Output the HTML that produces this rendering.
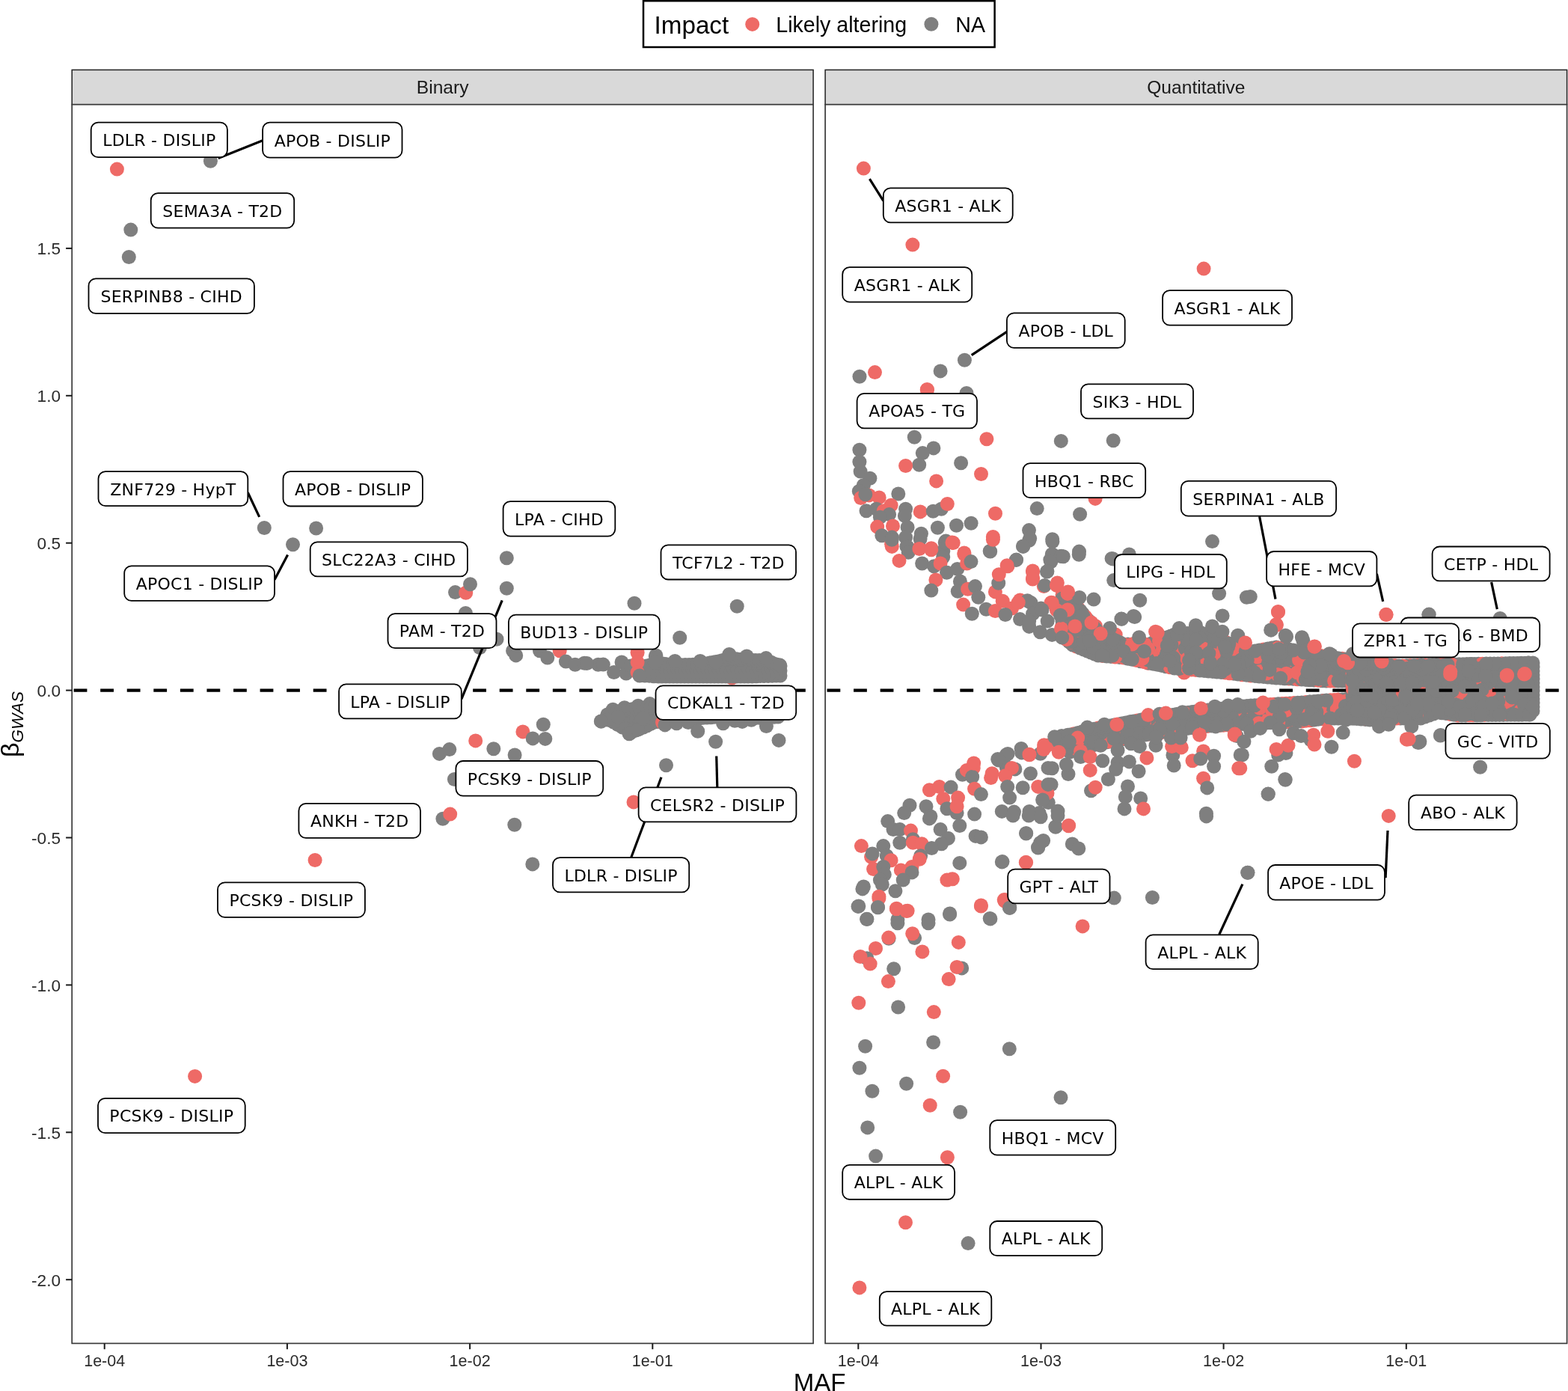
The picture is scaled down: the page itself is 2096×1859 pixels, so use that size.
<!DOCTYPE html><html><head><meta charset="utf-8"><style>html,body{margin:0;padding:0;background:#fff;}svg{display:block;}.ax{font-family:"Liberation Sans",Arial,sans-serif;font-size:21.5px;fill:#2b2b2b;}.lb{font-family:"DejaVu Sans","Liberation Sans",sans-serif;font-size:22px;letter-spacing:0.25px;fill:#000;}</style></head><body>
<svg width="2096" height="1859" viewBox="0 0 2096 1859">
<rect width="2096" height="1859" fill="#fff"/>
<rect x="860" y="1.2" width="469.6" height="61.8" fill="#fff" stroke="#000" stroke-width="2.5"/>
<text x="874.6" y="45.3" font-family="Liberation Sans,Arial,sans-serif" font-size="33.2" fill="#000">Impact</text>
<circle cx="1005.7" cy="32.4" r="9.5" fill="#EE6A66"/>
<text x="1037.3" y="42.9" font-family="Liberation Sans,Arial,sans-serif" font-size="28.6" fill="#000">Likely altering</text>
<circle cx="1244.9" cy="32.3" r="9.5" fill="#7F7F7F"/>
<text x="1277.3" y="42.9" font-family="Liberation Sans,Arial,sans-serif" font-size="28.6" fill="#000">NA</text>
<rect x="96.2" y="93.4" width="990.8999999999999" height="46.29999999999998" fill="#D9D9D9" stroke="#222" stroke-width="1.5"/>
<text x="591.65" y="124.8" text-anchor="middle" font-family="Liberation Sans,Arial,sans-serif" font-size="24.6" fill="#1a1a1a">Binary</text>
<rect x="1103.1" y="93.4" width="991.5" height="46.29999999999998" fill="#D9D9D9" stroke="#222" stroke-width="1.5"/>
<text x="1598.85" y="124.8" text-anchor="middle" font-family="Liberation Sans,Arial,sans-serif" font-size="24.6" fill="#1a1a1a">Quantitative</text>
<rect x="96.2" y="139.7" width="990.8999999999999" height="1655.7" fill="#fff"/>
<rect x="1103.1" y="139.7" width="991.5" height="1655.7" fill="#fff"/>
<g>
<circle cx="156.4" cy="226.1" r="9.5" fill="#EE6A66"/>
<circle cx="281.4" cy="215.3" r="9.5" fill="#7F7F7F"/>
<circle cx="174.8" cy="307.1" r="9.5" fill="#7F7F7F"/>
<circle cx="172.3" cy="343.5" r="9.5" fill="#7F7F7F"/>
<circle cx="353.3" cy="705.5" r="9.5" fill="#7F7F7F"/>
<circle cx="422.6" cy="706.0" r="9.5" fill="#7F7F7F"/>
<circle cx="391.5" cy="727.8" r="9.5" fill="#7F7F7F"/>
<circle cx="677.3" cy="745.7" r="9.5" fill="#7F7F7F"/>
<circle cx="677.3" cy="786.3" r="9.5" fill="#7F7F7F"/>
<circle cx="608.5" cy="791.6" r="9.5" fill="#7F7F7F"/>
<circle cx="622.7" cy="792.2" r="9.5" fill="#EE6A66"/>
<circle cx="628.5" cy="780.7" r="9.5" fill="#7F7F7F"/>
<circle cx="622.4" cy="819.4" r="9.5" fill="#7F7F7F"/>
<circle cx="664.0" cy="854.3" r="9.5" fill="#7F7F7F"/>
<circle cx="641.4" cy="865.6" r="9.5" fill="#7F7F7F"/>
<circle cx="848.0" cy="806.3" r="9.5" fill="#7F7F7F"/>
<circle cx="985.2" cy="810.2" r="9.5" fill="#7F7F7F"/>
<circle cx="908.7" cy="852.3" r="9.5" fill="#7F7F7F"/>
<circle cx="685.6" cy="869.7" r="9.5" fill="#7F7F7F"/>
<circle cx="689.7" cy="875.9" r="9.5" fill="#7F7F7F"/>
<circle cx="721.5" cy="869.7" r="9.5" fill="#7F7F7F"/>
<circle cx="731.8" cy="879.0" r="9.5" fill="#7F7F7F"/>
<circle cx="748.2" cy="869.7" r="9.5" fill="#EE6A66"/>
<circle cx="756.4" cy="884.1" r="9.5" fill="#7F7F7F"/>
<circle cx="768.8" cy="888.2" r="9.5" fill="#7F7F7F"/>
<circle cx="781.1" cy="886.2" r="9.5" fill="#7F7F7F"/>
<circle cx="799.6" cy="888.2" r="9.5" fill="#7F7F7F"/>
<circle cx="784.5" cy="886.6" r="9.5" fill="#7F7F7F"/>
<circle cx="806.3" cy="888.1" r="9.5" fill="#7F7F7F"/>
<circle cx="820.6" cy="898.6" r="9.5" fill="#7F7F7F"/>
<circle cx="831.0" cy="885.0" r="9.5" fill="#7F7F7F"/>
<circle cx="837.0" cy="900.0" r="9.5" fill="#7F7F7F"/>
<circle cx="843.0" cy="890.0" r="9.5" fill="#7F7F7F"/>
<circle cx="978.3" cy="906.0" r="9.5" fill="#EE6A66"/>
<circle cx="949.5" cy="886.1" r="9.5" fill="#7F7F7F"/>
<circle cx="956.5" cy="886.1" r="9.5" fill="#7F7F7F"/>
<circle cx="963.5" cy="886.1" r="9.5" fill="#7F7F7F"/>
<circle cx="970.5" cy="886.1" r="9.5" fill="#7F7F7F"/>
<circle cx="977.5" cy="886.1" r="9.5" fill="#7F7F7F"/>
<circle cx="984.5" cy="886.1" r="9.5" fill="#7F7F7F"/>
<circle cx="991.5" cy="886.1" r="9.5" fill="#7F7F7F"/>
<circle cx="998.5" cy="886.1" r="9.5" fill="#7F7F7F"/>
<circle cx="1005.5" cy="886.1" r="9.5" fill="#7F7F7F"/>
<circle cx="1012.5" cy="886.1" r="9.5" fill="#7F7F7F"/>
<circle cx="1019.5" cy="886.1" r="9.5" fill="#7F7F7F"/>
<circle cx="1026.5" cy="886.1" r="9.5" fill="#7F7F7F"/>
<circle cx="869.0" cy="892.2" r="9.5" fill="#7F7F7F"/>
<circle cx="876.0" cy="892.2" r="9.5" fill="#7F7F7F"/>
<circle cx="883.0" cy="892.2" r="9.5" fill="#7F7F7F"/>
<circle cx="890.0" cy="892.2" r="9.5" fill="#7F7F7F"/>
<circle cx="897.0" cy="892.2" r="9.5" fill="#7F7F7F"/>
<circle cx="904.0" cy="892.2" r="9.5" fill="#7F7F7F"/>
<circle cx="911.0" cy="892.2" r="9.5" fill="#7F7F7F"/>
<circle cx="918.0" cy="892.2" r="9.5" fill="#7F7F7F"/>
<circle cx="925.0" cy="892.2" r="9.5" fill="#7F7F7F"/>
<circle cx="932.0" cy="892.2" r="9.5" fill="#7F7F7F"/>
<circle cx="939.0" cy="892.2" r="9.5" fill="#7F7F7F"/>
<circle cx="946.0" cy="892.2" r="9.5" fill="#7F7F7F"/>
<circle cx="953.0" cy="892.2" r="9.5" fill="#7F7F7F"/>
<circle cx="960.0" cy="892.2" r="9.5" fill="#7F7F7F"/>
<circle cx="967.0" cy="892.2" r="9.5" fill="#7F7F7F"/>
<circle cx="974.0" cy="892.2" r="9.5" fill="#7F7F7F"/>
<circle cx="981.0" cy="892.2" r="9.5" fill="#7F7F7F"/>
<circle cx="988.0" cy="892.2" r="9.5" fill="#7F7F7F"/>
<circle cx="995.0" cy="892.2" r="9.5" fill="#7F7F7F"/>
<circle cx="1002.0" cy="892.2" r="9.5" fill="#7F7F7F"/>
<circle cx="1009.0" cy="892.2" r="9.5" fill="#7F7F7F"/>
<circle cx="1016.0" cy="892.2" r="9.5" fill="#7F7F7F"/>
<circle cx="1023.0" cy="892.2" r="9.5" fill="#7F7F7F"/>
<circle cx="1030.0" cy="892.2" r="9.5" fill="#7F7F7F"/>
<circle cx="1037.0" cy="892.2" r="9.5" fill="#7F7F7F"/>
<circle cx="865.5" cy="898.3" r="9.5" fill="#7F7F7F"/>
<circle cx="872.5" cy="898.3" r="9.5" fill="#7F7F7F"/>
<circle cx="879.5" cy="898.3" r="9.5" fill="#7F7F7F"/>
<circle cx="886.5" cy="898.3" r="9.5" fill="#7F7F7F"/>
<circle cx="893.5" cy="898.3" r="9.5" fill="#7F7F7F"/>
<circle cx="900.5" cy="898.3" r="9.5" fill="#7F7F7F"/>
<circle cx="907.5" cy="898.3" r="9.5" fill="#7F7F7F"/>
<circle cx="914.5" cy="898.3" r="9.5" fill="#7F7F7F"/>
<circle cx="921.5" cy="898.3" r="9.5" fill="#7F7F7F"/>
<circle cx="928.5" cy="898.3" r="9.5" fill="#7F7F7F"/>
<circle cx="935.5" cy="898.3" r="9.5" fill="#7F7F7F"/>
<circle cx="942.5" cy="898.3" r="9.5" fill="#7F7F7F"/>
<circle cx="949.5" cy="898.3" r="9.5" fill="#7F7F7F"/>
<circle cx="956.5" cy="898.3" r="9.5" fill="#7F7F7F"/>
<circle cx="963.5" cy="898.3" r="9.5" fill="#7F7F7F"/>
<circle cx="970.5" cy="898.3" r="9.5" fill="#7F7F7F"/>
<circle cx="977.5" cy="898.3" r="9.5" fill="#7F7F7F"/>
<circle cx="984.5" cy="898.3" r="9.5" fill="#7F7F7F"/>
<circle cx="991.5" cy="898.3" r="9.5" fill="#7F7F7F"/>
<circle cx="998.5" cy="898.3" r="9.5" fill="#7F7F7F"/>
<circle cx="1005.5" cy="898.3" r="9.5" fill="#7F7F7F"/>
<circle cx="1012.5" cy="898.3" r="9.5" fill="#7F7F7F"/>
<circle cx="1019.5" cy="898.3" r="9.5" fill="#7F7F7F"/>
<circle cx="1026.5" cy="898.3" r="9.5" fill="#7F7F7F"/>
<circle cx="1033.5" cy="898.3" r="9.5" fill="#7F7F7F"/>
<circle cx="1040.5" cy="898.3" r="9.5" fill="#7F7F7F"/>
<circle cx="864.0" cy="890.0" r="9.5" fill="#7F7F7F"/>
<circle cx="869.3" cy="888.7" r="9.5" fill="#7F7F7F"/>
<circle cx="874.7" cy="887.3" r="9.5" fill="#7F7F7F"/>
<circle cx="880.0" cy="886.0" r="9.5" fill="#7F7F7F"/>
<circle cx="885.0" cy="886.8" r="9.5" fill="#7F7F7F"/>
<circle cx="890.0" cy="887.5" r="9.5" fill="#7F7F7F"/>
<circle cx="895.0" cy="888.2" r="9.5" fill="#7F7F7F"/>
<circle cx="900.0" cy="889.0" r="9.5" fill="#7F7F7F"/>
<circle cx="905.3" cy="888.9" r="9.5" fill="#7F7F7F"/>
<circle cx="910.6" cy="888.7" r="9.5" fill="#7F7F7F"/>
<circle cx="915.9" cy="888.6" r="9.5" fill="#7F7F7F"/>
<circle cx="921.1" cy="888.4" r="9.5" fill="#7F7F7F"/>
<circle cx="926.4" cy="888.3" r="9.5" fill="#7F7F7F"/>
<circle cx="931.7" cy="888.1" r="9.5" fill="#7F7F7F"/>
<circle cx="937.0" cy="888.0" r="9.5" fill="#7F7F7F"/>
<circle cx="942.8" cy="887.0" r="9.5" fill="#7F7F7F"/>
<circle cx="948.5" cy="886.0" r="9.5" fill="#7F7F7F"/>
<circle cx="954.2" cy="885.0" r="9.5" fill="#7F7F7F"/>
<circle cx="960.0" cy="884.0" r="9.5" fill="#7F7F7F"/>
<circle cx="965.0" cy="882.7" r="9.5" fill="#7F7F7F"/>
<circle cx="970.0" cy="881.3" r="9.5" fill="#7F7F7F"/>
<circle cx="975.0" cy="880.0" r="9.5" fill="#7F7F7F"/>
<circle cx="980.0" cy="880.4" r="9.5" fill="#7F7F7F"/>
<circle cx="985.0" cy="880.8" r="9.5" fill="#7F7F7F"/>
<circle cx="990.0" cy="881.2" r="9.5" fill="#7F7F7F"/>
<circle cx="995.0" cy="881.6" r="9.5" fill="#7F7F7F"/>
<circle cx="1000.0" cy="882.0" r="9.5" fill="#7F7F7F"/>
<circle cx="1005.0" cy="882.2" r="9.5" fill="#7F7F7F"/>
<circle cx="1010.0" cy="882.4" r="9.5" fill="#7F7F7F"/>
<circle cx="1015.0" cy="882.6" r="9.5" fill="#7F7F7F"/>
<circle cx="1020.0" cy="882.8" r="9.5" fill="#7F7F7F"/>
<circle cx="1025.0" cy="883.0" r="9.5" fill="#7F7F7F"/>
<circle cx="1031.0" cy="885.3" r="9.5" fill="#7F7F7F"/>
<circle cx="1037.0" cy="887.7" r="9.5" fill="#7F7F7F"/>
<circle cx="1043.0" cy="890.0" r="9.5" fill="#7F7F7F"/>
<circle cx="1043.0" cy="896.5" r="9.5" fill="#7F7F7F"/>
<circle cx="1043.0" cy="903.0" r="9.5" fill="#7F7F7F"/>
<circle cx="1037.6" cy="903.1" r="9.5" fill="#7F7F7F"/>
<circle cx="1032.2" cy="903.2" r="9.5" fill="#7F7F7F"/>
<circle cx="1026.9" cy="903.4" r="9.5" fill="#7F7F7F"/>
<circle cx="1021.5" cy="903.5" r="9.5" fill="#7F7F7F"/>
<circle cx="1016.1" cy="903.6" r="9.5" fill="#7F7F7F"/>
<circle cx="1010.8" cy="903.8" r="9.5" fill="#7F7F7F"/>
<circle cx="1005.4" cy="903.9" r="9.5" fill="#7F7F7F"/>
<circle cx="1000.0" cy="904.0" r="9.5" fill="#7F7F7F"/>
<circle cx="995.0" cy="904.0" r="9.5" fill="#7F7F7F"/>
<circle cx="990.0" cy="904.0" r="9.5" fill="#7F7F7F"/>
<circle cx="985.0" cy="904.0" r="9.5" fill="#7F7F7F"/>
<circle cx="980.0" cy="904.0" r="9.5" fill="#7F7F7F"/>
<circle cx="975.0" cy="904.0" r="9.5" fill="#7F7F7F"/>
<circle cx="970.0" cy="904.0" r="9.5" fill="#7F7F7F"/>
<circle cx="965.0" cy="904.0" r="9.5" fill="#7F7F7F"/>
<circle cx="960.0" cy="904.0" r="9.5" fill="#7F7F7F"/>
<circle cx="955.0" cy="904.0" r="9.5" fill="#7F7F7F"/>
<circle cx="950.0" cy="904.0" r="9.5" fill="#7F7F7F"/>
<circle cx="945.0" cy="904.0" r="9.5" fill="#7F7F7F"/>
<circle cx="940.0" cy="904.0" r="9.5" fill="#7F7F7F"/>
<circle cx="935.0" cy="904.0" r="9.5" fill="#7F7F7F"/>
<circle cx="930.0" cy="904.0" r="9.5" fill="#7F7F7F"/>
<circle cx="925.0" cy="904.0" r="9.5" fill="#7F7F7F"/>
<circle cx="920.0" cy="904.0" r="9.5" fill="#7F7F7F"/>
<circle cx="915.0" cy="904.0" r="9.5" fill="#7F7F7F"/>
<circle cx="910.0" cy="904.0" r="9.5" fill="#7F7F7F"/>
<circle cx="905.0" cy="904.0" r="9.5" fill="#7F7F7F"/>
<circle cx="900.0" cy="904.0" r="9.5" fill="#7F7F7F"/>
<circle cx="895.0" cy="904.0" r="9.5" fill="#7F7F7F"/>
<circle cx="890.0" cy="904.0" r="9.5" fill="#7F7F7F"/>
<circle cx="885.0" cy="904.0" r="9.5" fill="#7F7F7F"/>
<circle cx="880.0" cy="904.0" r="9.5" fill="#7F7F7F"/>
<circle cx="874.0" cy="903.7" r="9.5" fill="#7F7F7F"/>
<circle cx="868.0" cy="903.3" r="9.5" fill="#7F7F7F"/>
<circle cx="862.0" cy="903.0" r="9.5" fill="#7F7F7F"/>
<circle cx="863.0" cy="896.5" r="9.5" fill="#7F7F7F"/>
<circle cx="876.3" cy="877.0" r="9.5" fill="#7F7F7F"/>
<circle cx="902.2" cy="883.5" r="9.5" fill="#7F7F7F"/>
<circle cx="936.0" cy="883.5" r="9.5" fill="#7F7F7F"/>
<circle cx="974.8" cy="874.5" r="9.5" fill="#7F7F7F"/>
<circle cx="998.2" cy="877.0" r="9.5" fill="#7F7F7F"/>
<circle cx="1024.0" cy="879.6" r="9.5" fill="#7F7F7F"/>
<circle cx="1042.2" cy="888.7" r="9.5" fill="#7F7F7F"/>
<circle cx="956.7" cy="884.8" r="9.5" fill="#7F7F7F"/>
<circle cx="819.3" cy="948.3" r="9.5" fill="#7F7F7F"/>
<circle cx="834.8" cy="945.7" r="9.5" fill="#7F7F7F"/>
<circle cx="853.0" cy="943.2" r="9.5" fill="#7F7F7F"/>
<circle cx="868.5" cy="940.6" r="9.5" fill="#7F7F7F"/>
<circle cx="852.1" cy="872.3" r="9.5" fill="#EE6A66"/>
<circle cx="852.1" cy="885.0" r="9.5" fill="#EE6A66"/>
<circle cx="852.1" cy="898.6" r="9.5" fill="#EE6A66"/>
<circle cx="855.0" cy="903.0" r="9.5" fill="#7F7F7F"/>
<circle cx="876.9" cy="876.0" r="9.5" fill="#7F7F7F"/>
<circle cx="876.0" cy="885.0" r="9.5" fill="#7F7F7F"/>
<circle cx="903.0" cy="944.0" r="9.5" fill="#7F7F7F"/>
<circle cx="910.0" cy="944.0" r="9.5" fill="#7F7F7F"/>
<circle cx="917.0" cy="944.0" r="9.5" fill="#7F7F7F"/>
<circle cx="924.0" cy="944.0" r="9.5" fill="#7F7F7F"/>
<circle cx="931.0" cy="944.0" r="9.5" fill="#7F7F7F"/>
<circle cx="938.0" cy="944.0" r="9.5" fill="#7F7F7F"/>
<circle cx="945.0" cy="944.0" r="9.5" fill="#7F7F7F"/>
<circle cx="952.0" cy="944.0" r="9.5" fill="#7F7F7F"/>
<circle cx="959.0" cy="944.0" r="9.5" fill="#7F7F7F"/>
<circle cx="966.0" cy="944.0" r="9.5" fill="#7F7F7F"/>
<circle cx="973.0" cy="944.0" r="9.5" fill="#7F7F7F"/>
<circle cx="980.0" cy="944.0" r="9.5" fill="#7F7F7F"/>
<circle cx="987.0" cy="944.0" r="9.5" fill="#7F7F7F"/>
<circle cx="994.0" cy="944.0" r="9.5" fill="#7F7F7F"/>
<circle cx="1001.0" cy="944.0" r="9.5" fill="#7F7F7F"/>
<circle cx="1008.0" cy="944.0" r="9.5" fill="#7F7F7F"/>
<circle cx="1015.0" cy="944.0" r="9.5" fill="#7F7F7F"/>
<circle cx="1022.0" cy="944.0" r="9.5" fill="#7F7F7F"/>
<circle cx="1029.0" cy="944.0" r="9.5" fill="#7F7F7F"/>
<circle cx="1036.0" cy="944.0" r="9.5" fill="#7F7F7F"/>
<circle cx="836.5" cy="950.1" r="9.5" fill="#7F7F7F"/>
<circle cx="843.5" cy="950.1" r="9.5" fill="#7F7F7F"/>
<circle cx="850.5" cy="950.1" r="9.5" fill="#7F7F7F"/>
<circle cx="857.5" cy="950.1" r="9.5" fill="#7F7F7F"/>
<circle cx="864.5" cy="950.1" r="9.5" fill="#7F7F7F"/>
<circle cx="871.5" cy="950.1" r="9.5" fill="#7F7F7F"/>
<circle cx="878.5" cy="950.1" r="9.5" fill="#7F7F7F"/>
<circle cx="885.5" cy="950.1" r="9.5" fill="#7F7F7F"/>
<circle cx="892.5" cy="950.1" r="9.5" fill="#7F7F7F"/>
<circle cx="899.5" cy="950.1" r="9.5" fill="#7F7F7F"/>
<circle cx="906.5" cy="950.1" r="9.5" fill="#7F7F7F"/>
<circle cx="913.5" cy="950.1" r="9.5" fill="#7F7F7F"/>
<circle cx="920.5" cy="950.1" r="9.5" fill="#7F7F7F"/>
<circle cx="927.5" cy="950.1" r="9.5" fill="#7F7F7F"/>
<circle cx="934.5" cy="950.1" r="9.5" fill="#7F7F7F"/>
<circle cx="941.5" cy="950.1" r="9.5" fill="#7F7F7F"/>
<circle cx="948.5" cy="950.1" r="9.5" fill="#7F7F7F"/>
<circle cx="955.5" cy="950.1" r="9.5" fill="#7F7F7F"/>
<circle cx="962.5" cy="950.1" r="9.5" fill="#7F7F7F"/>
<circle cx="969.5" cy="950.1" r="9.5" fill="#7F7F7F"/>
<circle cx="976.5" cy="950.1" r="9.5" fill="#7F7F7F"/>
<circle cx="983.5" cy="950.1" r="9.5" fill="#7F7F7F"/>
<circle cx="990.5" cy="950.1" r="9.5" fill="#7F7F7F"/>
<circle cx="997.5" cy="950.1" r="9.5" fill="#7F7F7F"/>
<circle cx="1004.5" cy="950.1" r="9.5" fill="#7F7F7F"/>
<circle cx="1011.5" cy="950.1" r="9.5" fill="#7F7F7F"/>
<circle cx="1018.5" cy="950.1" r="9.5" fill="#7F7F7F"/>
<circle cx="1025.5" cy="950.1" r="9.5" fill="#7F7F7F"/>
<circle cx="1032.5" cy="950.1" r="9.5" fill="#7F7F7F"/>
<circle cx="1039.5" cy="950.1" r="9.5" fill="#7F7F7F"/>
<circle cx="812.0" cy="956.2" r="9.5" fill="#7F7F7F"/>
<circle cx="819.0" cy="956.2" r="9.5" fill="#7F7F7F"/>
<circle cx="826.0" cy="956.2" r="9.5" fill="#7F7F7F"/>
<circle cx="833.0" cy="956.2" r="9.5" fill="#7F7F7F"/>
<circle cx="840.0" cy="956.2" r="9.5" fill="#7F7F7F"/>
<circle cx="847.0" cy="956.2" r="9.5" fill="#7F7F7F"/>
<circle cx="854.0" cy="956.2" r="9.5" fill="#7F7F7F"/>
<circle cx="861.0" cy="956.2" r="9.5" fill="#7F7F7F"/>
<circle cx="868.0" cy="956.2" r="9.5" fill="#7F7F7F"/>
<circle cx="875.0" cy="956.2" r="9.5" fill="#7F7F7F"/>
<circle cx="882.0" cy="956.2" r="9.5" fill="#7F7F7F"/>
<circle cx="889.0" cy="956.2" r="9.5" fill="#7F7F7F"/>
<circle cx="896.0" cy="956.2" r="9.5" fill="#7F7F7F"/>
<circle cx="903.0" cy="956.2" r="9.5" fill="#7F7F7F"/>
<circle cx="910.0" cy="956.2" r="9.5" fill="#7F7F7F"/>
<circle cx="917.0" cy="956.2" r="9.5" fill="#7F7F7F"/>
<circle cx="924.0" cy="956.2" r="9.5" fill="#7F7F7F"/>
<circle cx="931.0" cy="956.2" r="9.5" fill="#7F7F7F"/>
<circle cx="938.0" cy="956.2" r="9.5" fill="#7F7F7F"/>
<circle cx="945.0" cy="956.2" r="9.5" fill="#7F7F7F"/>
<circle cx="952.0" cy="956.2" r="9.5" fill="#7F7F7F"/>
<circle cx="959.0" cy="956.2" r="9.5" fill="#7F7F7F"/>
<circle cx="966.0" cy="956.2" r="9.5" fill="#7F7F7F"/>
<circle cx="973.0" cy="956.2" r="9.5" fill="#7F7F7F"/>
<circle cx="980.0" cy="956.2" r="9.5" fill="#7F7F7F"/>
<circle cx="987.0" cy="956.2" r="9.5" fill="#7F7F7F"/>
<circle cx="994.0" cy="956.2" r="9.5" fill="#7F7F7F"/>
<circle cx="1001.0" cy="956.2" r="9.5" fill="#7F7F7F"/>
<circle cx="1008.0" cy="956.2" r="9.5" fill="#7F7F7F"/>
<circle cx="1015.0" cy="956.2" r="9.5" fill="#7F7F7F"/>
<circle cx="1022.0" cy="956.2" r="9.5" fill="#7F7F7F"/>
<circle cx="1029.0" cy="956.2" r="9.5" fill="#7F7F7F"/>
<circle cx="1036.0" cy="956.2" r="9.5" fill="#7F7F7F"/>
<circle cx="815.5" cy="962.3" r="9.5" fill="#7F7F7F"/>
<circle cx="822.5" cy="962.3" r="9.5" fill="#7F7F7F"/>
<circle cx="829.5" cy="962.3" r="9.5" fill="#7F7F7F"/>
<circle cx="836.5" cy="962.3" r="9.5" fill="#7F7F7F"/>
<circle cx="843.5" cy="962.3" r="9.5" fill="#7F7F7F"/>
<circle cx="850.5" cy="962.3" r="9.5" fill="#7F7F7F"/>
<circle cx="857.5" cy="962.3" r="9.5" fill="#7F7F7F"/>
<circle cx="864.5" cy="962.3" r="9.5" fill="#7F7F7F"/>
<circle cx="871.5" cy="962.3" r="9.5" fill="#7F7F7F"/>
<circle cx="878.5" cy="962.3" r="9.5" fill="#7F7F7F"/>
<circle cx="885.5" cy="962.3" r="9.5" fill="#7F7F7F"/>
<circle cx="892.5" cy="962.3" r="9.5" fill="#7F7F7F"/>
<circle cx="826.0" cy="968.4" r="9.5" fill="#7F7F7F"/>
<circle cx="833.0" cy="968.4" r="9.5" fill="#7F7F7F"/>
<circle cx="840.0" cy="968.4" r="9.5" fill="#7F7F7F"/>
<circle cx="847.0" cy="968.4" r="9.5" fill="#7F7F7F"/>
<circle cx="854.0" cy="968.4" r="9.5" fill="#7F7F7F"/>
<circle cx="861.0" cy="968.4" r="9.5" fill="#7F7F7F"/>
<circle cx="843.5" cy="974.5" r="9.5" fill="#7F7F7F"/>
<circle cx="850.5" cy="974.5" r="9.5" fill="#7F7F7F"/>
<circle cx="812.0" cy="955.0" r="9.5" fill="#7F7F7F"/>
<circle cx="818.0" cy="953.3" r="9.5" fill="#7F7F7F"/>
<circle cx="824.0" cy="951.7" r="9.5" fill="#7F7F7F"/>
<circle cx="830.0" cy="950.0" r="9.5" fill="#7F7F7F"/>
<circle cx="835.0" cy="949.2" r="9.5" fill="#7F7F7F"/>
<circle cx="840.0" cy="948.5" r="9.5" fill="#7F7F7F"/>
<circle cx="845.0" cy="947.8" r="9.5" fill="#7F7F7F"/>
<circle cx="850.0" cy="947.0" r="9.5" fill="#7F7F7F"/>
<circle cx="855.0" cy="946.6" r="9.5" fill="#7F7F7F"/>
<circle cx="860.0" cy="946.2" r="9.5" fill="#7F7F7F"/>
<circle cx="865.0" cy="945.8" r="9.5" fill="#7F7F7F"/>
<circle cx="870.0" cy="945.4" r="9.5" fill="#7F7F7F"/>
<circle cx="875.0" cy="945.0" r="9.5" fill="#7F7F7F"/>
<circle cx="880.0" cy="944.8" r="9.5" fill="#7F7F7F"/>
<circle cx="885.0" cy="944.6" r="9.5" fill="#7F7F7F"/>
<circle cx="890.0" cy="944.4" r="9.5" fill="#7F7F7F"/>
<circle cx="895.0" cy="944.2" r="9.5" fill="#7F7F7F"/>
<circle cx="900.0" cy="944.0" r="9.5" fill="#7F7F7F"/>
<circle cx="905.0" cy="944.0" r="9.5" fill="#7F7F7F"/>
<circle cx="910.0" cy="944.0" r="9.5" fill="#7F7F7F"/>
<circle cx="915.0" cy="944.0" r="9.5" fill="#7F7F7F"/>
<circle cx="920.0" cy="944.0" r="9.5" fill="#7F7F7F"/>
<circle cx="925.0" cy="944.0" r="9.5" fill="#7F7F7F"/>
<circle cx="930.0" cy="944.0" r="9.5" fill="#7F7F7F"/>
<circle cx="935.0" cy="944.0" r="9.5" fill="#7F7F7F"/>
<circle cx="940.0" cy="944.0" r="9.5" fill="#7F7F7F"/>
<circle cx="945.0" cy="944.0" r="9.5" fill="#7F7F7F"/>
<circle cx="950.0" cy="944.0" r="9.5" fill="#7F7F7F"/>
<circle cx="955.0" cy="944.0" r="9.5" fill="#7F7F7F"/>
<circle cx="960.0" cy="944.0" r="9.5" fill="#7F7F7F"/>
<circle cx="965.0" cy="944.0" r="9.5" fill="#7F7F7F"/>
<circle cx="970.0" cy="944.0" r="9.5" fill="#7F7F7F"/>
<circle cx="975.0" cy="944.0" r="9.5" fill="#7F7F7F"/>
<circle cx="980.0" cy="944.0" r="9.5" fill="#7F7F7F"/>
<circle cx="985.0" cy="944.0" r="9.5" fill="#7F7F7F"/>
<circle cx="990.0" cy="944.0" r="9.5" fill="#7F7F7F"/>
<circle cx="995.0" cy="944.0" r="9.5" fill="#7F7F7F"/>
<circle cx="1000.0" cy="944.0" r="9.5" fill="#7F7F7F"/>
<circle cx="1005.0" cy="944.0" r="9.5" fill="#7F7F7F"/>
<circle cx="1010.0" cy="944.0" r="9.5" fill="#7F7F7F"/>
<circle cx="1015.0" cy="944.0" r="9.5" fill="#7F7F7F"/>
<circle cx="1020.0" cy="944.0" r="9.5" fill="#7F7F7F"/>
<circle cx="1025.0" cy="944.0" r="9.5" fill="#7F7F7F"/>
<circle cx="1030.0" cy="944.0" r="9.5" fill="#7F7F7F"/>
<circle cx="1035.0" cy="944.0" r="9.5" fill="#7F7F7F"/>
<circle cx="1040.0" cy="944.0" r="9.5" fill="#7F7F7F"/>
<circle cx="1040.0" cy="951.0" r="9.5" fill="#7F7F7F"/>
<circle cx="1040.0" cy="958.0" r="9.5" fill="#7F7F7F"/>
<circle cx="1035.0" cy="958.2" r="9.5" fill="#7F7F7F"/>
<circle cx="1030.0" cy="958.5" r="9.5" fill="#7F7F7F"/>
<circle cx="1025.0" cy="958.8" r="9.5" fill="#7F7F7F"/>
<circle cx="1020.0" cy="959.0" r="9.5" fill="#7F7F7F"/>
<circle cx="1015.0" cy="959.2" r="9.5" fill="#7F7F7F"/>
<circle cx="1010.0" cy="959.5" r="9.5" fill="#7F7F7F"/>
<circle cx="1005.0" cy="959.8" r="9.5" fill="#7F7F7F"/>
<circle cx="1000.0" cy="960.0" r="9.5" fill="#7F7F7F"/>
<circle cx="995.0" cy="959.8" r="9.5" fill="#7F7F7F"/>
<circle cx="990.0" cy="959.5" r="9.5" fill="#7F7F7F"/>
<circle cx="985.0" cy="959.2" r="9.5" fill="#7F7F7F"/>
<circle cx="980.0" cy="959.0" r="9.5" fill="#7F7F7F"/>
<circle cx="975.0" cy="958.8" r="9.5" fill="#7F7F7F"/>
<circle cx="970.0" cy="958.5" r="9.5" fill="#7F7F7F"/>
<circle cx="965.0" cy="958.2" r="9.5" fill="#7F7F7F"/>
<circle cx="960.0" cy="958.0" r="9.5" fill="#7F7F7F"/>
<circle cx="955.0" cy="958.3" r="9.5" fill="#7F7F7F"/>
<circle cx="950.0" cy="958.7" r="9.5" fill="#7F7F7F"/>
<circle cx="945.0" cy="959.0" r="9.5" fill="#7F7F7F"/>
<circle cx="940.0" cy="959.3" r="9.5" fill="#7F7F7F"/>
<circle cx="935.0" cy="959.7" r="9.5" fill="#7F7F7F"/>
<circle cx="930.0" cy="960.0" r="9.5" fill="#7F7F7F"/>
<circle cx="925.0" cy="960.3" r="9.5" fill="#7F7F7F"/>
<circle cx="920.0" cy="960.7" r="9.5" fill="#7F7F7F"/>
<circle cx="915.0" cy="961.0" r="9.5" fill="#7F7F7F"/>
<circle cx="910.0" cy="961.3" r="9.5" fill="#7F7F7F"/>
<circle cx="905.0" cy="961.7" r="9.5" fill="#7F7F7F"/>
<circle cx="900.0" cy="962.0" r="9.5" fill="#7F7F7F"/>
<circle cx="895.0" cy="962.6" r="9.5" fill="#7F7F7F"/>
<circle cx="890.0" cy="963.2" r="9.5" fill="#7F7F7F"/>
<circle cx="885.0" cy="963.8" r="9.5" fill="#7F7F7F"/>
<circle cx="880.0" cy="964.4" r="9.5" fill="#7F7F7F"/>
<circle cx="875.0" cy="965.0" r="9.5" fill="#7F7F7F"/>
<circle cx="870.0" cy="967.3" r="9.5" fill="#7F7F7F"/>
<circle cx="865.0" cy="969.7" r="9.5" fill="#7F7F7F"/>
<circle cx="860.0" cy="972.0" r="9.5" fill="#7F7F7F"/>
<circle cx="855.0" cy="974.0" r="9.5" fill="#7F7F7F"/>
<circle cx="850.0" cy="976.0" r="9.5" fill="#7F7F7F"/>
<circle cx="845.0" cy="978.0" r="9.5" fill="#7F7F7F"/>
<circle cx="838.5" cy="975.0" r="9.5" fill="#7F7F7F"/>
<circle cx="832.0" cy="972.0" r="9.5" fill="#7F7F7F"/>
<circle cx="826.0" cy="968.5" r="9.5" fill="#7F7F7F"/>
<circle cx="820.0" cy="965.0" r="9.5" fill="#7F7F7F"/>
<circle cx="812.0" cy="962.0" r="9.5" fill="#7F7F7F"/>
<circle cx="803.3" cy="963.9" r="9.5" fill="#7F7F7F"/>
<circle cx="841.6" cy="980.4" r="9.5" fill="#7F7F7F"/>
<circle cx="885.5" cy="965.5" r="9.5" fill="#EE6A66"/>
<circle cx="888.9" cy="968.9" r="9.5" fill="#7F7F7F"/>
<circle cx="904.4" cy="966.7" r="9.5" fill="#7F7F7F"/>
<circle cx="920.0" cy="965.5" r="9.5" fill="#7F7F7F"/>
<circle cx="932.7" cy="977.2" r="9.5" fill="#7F7F7F"/>
<circle cx="956.6" cy="991.3" r="9.5" fill="#7F7F7F"/>
<circle cx="966.6" cy="966.7" r="9.5" fill="#7F7F7F"/>
<circle cx="982.2" cy="963.3" r="9.5" fill="#7F7F7F"/>
<circle cx="992.2" cy="964.4" r="9.5" fill="#7F7F7F"/>
<circle cx="1004.4" cy="962.2" r="9.5" fill="#7F7F7F"/>
<circle cx="1024.4" cy="970.5" r="9.5" fill="#7F7F7F"/>
<circle cx="1041.0" cy="989.4" r="9.5" fill="#7F7F7F"/>
<circle cx="890.5" cy="1022.7" r="9.5" fill="#7F7F7F"/>
<circle cx="803.7" cy="964.1" r="9.5" fill="#7F7F7F"/>
<circle cx="841.1" cy="980.8" r="9.5" fill="#7F7F7F"/>
<circle cx="852.7" cy="975.0" r="9.5" fill="#7F7F7F"/>
<circle cx="826.0" cy="958.0" r="9.5" fill="#7F7F7F"/>
<circle cx="860.0" cy="960.0" r="9.5" fill="#7F7F7F"/>
<circle cx="635.7" cy="989.9" r="9.5" fill="#EE6A66"/>
<circle cx="587.4" cy="1007.4" r="9.5" fill="#7F7F7F"/>
<circle cx="600.8" cy="1001.6" r="9.5" fill="#7F7F7F"/>
<circle cx="659.8" cy="1000.7" r="9.5" fill="#7F7F7F"/>
<circle cx="688.1" cy="1009.0" r="9.5" fill="#7F7F7F"/>
<circle cx="698.9" cy="977.9" r="9.5" fill="#EE6A66"/>
<circle cx="726.3" cy="968.3" r="9.5" fill="#7F7F7F"/>
<circle cx="712.2" cy="986.9" r="9.5" fill="#7F7F7F"/>
<circle cx="728.8" cy="987.4" r="9.5" fill="#7F7F7F"/>
<circle cx="607.4" cy="1041.5" r="9.5" fill="#7F7F7F"/>
<circle cx="847.0" cy="1071.9" r="9.5" fill="#EE6A66"/>
<circle cx="591.9" cy="1094.2" r="9.5" fill="#7F7F7F"/>
<circle cx="601.7" cy="1088.1" r="9.5" fill="#EE6A66"/>
<circle cx="687.8" cy="1102.3" r="9.5" fill="#7F7F7F"/>
<circle cx="711.8" cy="1154.9" r="9.5" fill="#7F7F7F"/>
<circle cx="421.1" cy="1149.5" r="9.5" fill="#EE6A66"/>
<circle cx="260.6" cy="1438.4" r="9.5" fill="#EE6A66"/>
<circle cx="1464.5" cy="836.7" r="9.5" fill="#EE6A66"/>
<circle cx="1483.6" cy="849.4" r="9.5" fill="#EE6A66"/>
<circle cx="1491.2" cy="848.1" r="9.5" fill="#EE6A66"/>
<circle cx="1506.5" cy="867.2" r="9.5" fill="#EE6A66"/>
<circle cx="1608.2" cy="874.8" r="9.5" fill="#EE6A66"/>
<circle cx="1638.8" cy="865.9" r="9.5" fill="#EE6A66"/>
<circle cx="1629.9" cy="877.4" r="9.5" fill="#EE6A66"/>
<circle cx="1655.3" cy="879.9" r="9.5" fill="#EE6A66"/>
<circle cx="1598.1" cy="892.6" r="9.5" fill="#EE6A66"/>
<circle cx="1582.8" cy="899.0" r="9.5" fill="#EE6A66"/>
<circle cx="1534.5" cy="886.3" r="9.5" fill="#EE6A66"/>
<circle cx="1559.9" cy="890.1" r="9.5" fill="#EE6A66"/>
<circle cx="1610.0" cy="850.7" r="9.5" fill="#7F7F7F"/>
<circle cx="1688.3" cy="886.7" r="9.5" fill="#7F7F7F"/>
<circle cx="1477.7" cy="849.6" r="9.5" fill="#EE6A66"/>
<circle cx="1573.8" cy="883.3" r="9.5" fill="#EE6A66"/>
<circle cx="1773.4" cy="906.1" r="9.5" fill="#EE6A66"/>
<circle cx="1612.7" cy="893.7" r="9.5" fill="#EE6A66"/>
<circle cx="1495.5" cy="860.9" r="9.5" fill="#EE6A66"/>
<circle cx="1426.7" cy="832.8" r="9.5" fill="#EE6A66"/>
<circle cx="1573.7" cy="861.1" r="9.5" fill="#EE6A66"/>
<circle cx="1804.7" cy="910.0" r="9.5" fill="#EE6A66"/>
<circle cx="1756.5" cy="909.0" r="9.5" fill="#7F7F7F"/>
<circle cx="1431.6" cy="821.7" r="9.5" fill="#7F7F7F"/>
<circle cx="1510.3" cy="867.9" r="9.5" fill="#7F7F7F"/>
<circle cx="1429.8" cy="809.1" r="9.5" fill="#7F7F7F"/>
<circle cx="1699.4" cy="894.3" r="9.5" fill="#7F7F7F"/>
<circle cx="1603.5" cy="870.2" r="9.5" fill="#7F7F7F"/>
<circle cx="1618.0" cy="864.2" r="9.5" fill="#7F7F7F"/>
<circle cx="1562.9" cy="880.5" r="9.5" fill="#7F7F7F"/>
<circle cx="1690.9" cy="881.0" r="9.5" fill="#EE6A66"/>
<circle cx="1604.2" cy="879.3" r="9.5" fill="#EE6A66"/>
<circle cx="1590.7" cy="861.1" r="9.5" fill="#7F7F7F"/>
<circle cx="1758.9" cy="879.0" r="9.5" fill="#7F7F7F"/>
<circle cx="1681.5" cy="871.4" r="9.5" fill="#7F7F7F"/>
<circle cx="1597.2" cy="860.5" r="9.5" fill="#7F7F7F"/>
<circle cx="1550.6" cy="871.3" r="9.5" fill="#7F7F7F"/>
<circle cx="1481.3" cy="875.1" r="9.5" fill="#7F7F7F"/>
<circle cx="1682.7" cy="891.9" r="9.5" fill="#7F7F7F"/>
<circle cx="1714.4" cy="900.3" r="9.5" fill="#EE6A66"/>
<circle cx="1638.3" cy="880.6" r="9.5" fill="#EE6A66"/>
<circle cx="1420.0" cy="850.0" r="9.5" fill="#7F7F7F"/>
<circle cx="1626.8" cy="883.4" r="9.5" fill="#7F7F7F"/>
<circle cx="1634.1" cy="880.2" r="9.5" fill="#EE6A66"/>
<circle cx="1770.6" cy="894.6" r="9.5" fill="#7F7F7F"/>
<circle cx="1591.7" cy="846.4" r="9.5" fill="#7F7F7F"/>
<circle cx="1803.6" cy="896.3" r="9.5" fill="#EE6A66"/>
<circle cx="1427.6" cy="835.6" r="9.5" fill="#EE6A66"/>
<circle cx="1580.1" cy="853.1" r="9.5" fill="#7F7F7F"/>
<circle cx="1767.5" cy="876.8" r="9.5" fill="#EE6A66"/>
<circle cx="1592.7" cy="895.0" r="9.5" fill="#EE6A66"/>
<circle cx="1672.0" cy="903.0" r="9.5" fill="#EE6A66"/>
<circle cx="1699.5" cy="889.0" r="9.5" fill="#7F7F7F"/>
<circle cx="1612.8" cy="852.0" r="9.5" fill="#7F7F7F"/>
<circle cx="1629.2" cy="890.1" r="9.5" fill="#EE6A66"/>
<circle cx="1435.7" cy="846.4" r="9.5" fill="#7F7F7F"/>
<circle cx="1575.7" cy="847.5" r="9.5" fill="#EE6A66"/>
<circle cx="1425.6" cy="841.4" r="9.5" fill="#EE6A66"/>
<circle cx="1649.3" cy="900.3" r="9.5" fill="#7F7F7F"/>
<circle cx="1480.0" cy="857.6" r="9.5" fill="#7F7F7F"/>
<circle cx="1543.2" cy="885.6" r="9.5" fill="#7F7F7F"/>
<circle cx="1804.7" cy="881.4" r="9.5" fill="#7F7F7F"/>
<circle cx="1723.0" cy="907.0" r="9.5" fill="#EE6A66"/>
<circle cx="1580.4" cy="871.1" r="9.5" fill="#7F7F7F"/>
<circle cx="1497.9" cy="867.0" r="9.5" fill="#7F7F7F"/>
<circle cx="1648.8" cy="876.3" r="9.5" fill="#7F7F7F"/>
<circle cx="1420.0" cy="820.0" r="9.5" fill="#EE6A66"/>
<circle cx="1711.7" cy="866.0" r="9.5" fill="#7F7F7F"/>
<circle cx="1616.4" cy="877.1" r="9.5" fill="#EE6A66"/>
<circle cx="1763.8" cy="900.3" r="9.5" fill="#7F7F7F"/>
<circle cx="1474.6" cy="870.9" r="9.5" fill="#7F7F7F"/>
<circle cx="1728.7" cy="907.3" r="9.5" fill="#7F7F7F"/>
<circle cx="1783.6" cy="879.1" r="9.5" fill="#7F7F7F"/>
<circle cx="1636.6" cy="890.4" r="9.5" fill="#7F7F7F"/>
<circle cx="1572.4" cy="875.7" r="9.5" fill="#7F7F7F"/>
<circle cx="1739.9" cy="901.3" r="9.5" fill="#7F7F7F"/>
<circle cx="1438.9" cy="864.0" r="9.5" fill="#EE6A66"/>
<circle cx="1738.7" cy="885.5" r="9.5" fill="#7F7F7F"/>
<circle cx="1465.9" cy="874.5" r="9.5" fill="#EE6A66"/>
<circle cx="1524.7" cy="883.7" r="9.5" fill="#7F7F7F"/>
<circle cx="1725.4" cy="888.8" r="9.5" fill="#7F7F7F"/>
<circle cx="1679.7" cy="902.4" r="9.5" fill="#7F7F7F"/>
<circle cx="1808.1" cy="907.9" r="9.5" fill="#7F7F7F"/>
<circle cx="1703.6" cy="875.8" r="9.5" fill="#7F7F7F"/>
<circle cx="1553.0" cy="889.5" r="9.5" fill="#7F7F7F"/>
<circle cx="1530.3" cy="863.0" r="9.5" fill="#7F7F7F"/>
<circle cx="1747.6" cy="888.2" r="9.5" fill="#7F7F7F"/>
<circle cx="1626.6" cy="895.8" r="9.5" fill="#7F7F7F"/>
<circle cx="1756.5" cy="874.5" r="9.5" fill="#7F7F7F"/>
<circle cx="1575.6" cy="868.2" r="9.5" fill="#7F7F7F"/>
<circle cx="1422.9" cy="801.6" r="9.5" fill="#EE6A66"/>
<circle cx="1507.7" cy="861.0" r="9.5" fill="#7F7F7F"/>
<circle cx="1482.2" cy="866.5" r="9.5" fill="#7F7F7F"/>
<circle cx="1689.0" cy="904.5" r="9.5" fill="#7F7F7F"/>
<circle cx="1700.3" cy="905.5" r="9.5" fill="#7F7F7F"/>
<circle cx="1632.3" cy="857.8" r="9.5" fill="#7F7F7F"/>
<circle cx="1742.1" cy="905.4" r="9.5" fill="#EE6A66"/>
<circle cx="1618.6" cy="850.6" r="9.5" fill="#7F7F7F"/>
<circle cx="1570.0" cy="848.0" r="9.5" fill="#7F7F7F"/>
<circle cx="1538.0" cy="862.4" r="9.5" fill="#EE6A66"/>
<circle cx="1774.2" cy="889.0" r="9.5" fill="#7F7F7F"/>
<circle cx="1662.4" cy="899.7" r="9.5" fill="#7F7F7F"/>
<circle cx="1694.7" cy="905.0" r="9.5" fill="#7F7F7F"/>
<circle cx="1706.0" cy="906.0" r="9.5" fill="#7F7F7F"/>
<circle cx="1574.3" cy="869.8" r="9.5" fill="#7F7F7F"/>
<circle cx="1641.5" cy="886.7" r="9.5" fill="#EE6A66"/>
<circle cx="1610.1" cy="870.2" r="9.5" fill="#EE6A66"/>
<circle cx="1745.3" cy="878.8" r="9.5" fill="#7F7F7F"/>
<circle cx="1540.9" cy="859.1" r="9.5" fill="#7F7F7F"/>
<circle cx="1444.3" cy="863.8" r="9.5" fill="#7F7F7F"/>
<circle cx="1584.6" cy="887.2" r="9.5" fill="#7F7F7F"/>
<circle cx="1778.3" cy="878.6" r="9.5" fill="#7F7F7F"/>
<circle cx="1794.1" cy="910.0" r="9.5" fill="#7F7F7F"/>
<circle cx="1448.4" cy="854.0" r="9.5" fill="#7F7F7F"/>
<circle cx="1628.5" cy="862.8" r="9.5" fill="#EE6A66"/>
<circle cx="1440.8" cy="812.2" r="9.5" fill="#EE6A66"/>
<circle cx="1434.0" cy="804.0" r="9.5" fill="#EE6A66"/>
<circle cx="1675.4" cy="880.4" r="9.5" fill="#EE6A66"/>
<circle cx="1773.0" cy="910.0" r="9.5" fill="#7F7F7F"/>
<circle cx="1464.5" cy="848.9" r="9.5" fill="#7F7F7F"/>
<circle cx="1447.6" cy="820.4" r="9.5" fill="#7F7F7F"/>
<circle cx="1471.0" cy="858.0" r="9.5" fill="#EE6A66"/>
<circle cx="1776.8" cy="897.9" r="9.5" fill="#EE6A66"/>
<circle cx="1496.3" cy="878.5" r="9.5" fill="#7F7F7F"/>
<circle cx="1553.4" cy="877.5" r="9.5" fill="#EE6A66"/>
<circle cx="1652.1" cy="899.5" r="9.5" fill="#EE6A66"/>
<circle cx="1692.9" cy="897.9" r="9.5" fill="#7F7F7F"/>
<circle cx="1729.5" cy="879.7" r="9.5" fill="#7F7F7F"/>
<circle cx="1657.4" cy="865.4" r="9.5" fill="#7F7F7F"/>
<circle cx="1434.2" cy="860.9" r="9.5" fill="#7F7F7F"/>
<circle cx="1591.1" cy="865.7" r="9.5" fill="#7F7F7F"/>
<circle cx="1598.3" cy="845.5" r="9.5" fill="#EE6A66"/>
<circle cx="1599.8" cy="887.9" r="9.5" fill="#7F7F7F"/>
<circle cx="1448.6" cy="868.0" r="9.5" fill="#7F7F7F"/>
<circle cx="1490.0" cy="874.9" r="9.5" fill="#7F7F7F"/>
<circle cx="1558.7" cy="890.7" r="9.5" fill="#7F7F7F"/>
<circle cx="1536.0" cy="886.0" r="9.5" fill="#7F7F7F"/>
<circle cx="1420.0" cy="795.0" r="9.5" fill="#EE6A66"/>
<circle cx="1649.8" cy="881.5" r="9.5" fill="#EE6A66"/>
<circle cx="1740.2" cy="893.3" r="9.5" fill="#7F7F7F"/>
<circle cx="1705.9" cy="880.6" r="9.5" fill="#7F7F7F"/>
<circle cx="1606.2" cy="888.0" r="9.5" fill="#7F7F7F"/>
<circle cx="1621.0" cy="889.8" r="9.5" fill="#EE6A66"/>
<circle cx="1742.1" cy="894.9" r="9.5" fill="#EE6A66"/>
<circle cx="1791.8" cy="908.5" r="9.5" fill="#7F7F7F"/>
<circle cx="1633.1" cy="856.1" r="9.5" fill="#7F7F7F"/>
<circle cx="1482.6" cy="851.9" r="9.5" fill="#7F7F7F"/>
<circle cx="1687.9" cy="890.4" r="9.5" fill="#7F7F7F"/>
<circle cx="1720.9" cy="883.2" r="9.5" fill="#7F7F7F"/>
<circle cx="1500.0" cy="870.0" r="9.5" fill="#EE6A66"/>
<circle cx="1420.0" cy="825.0" r="9.5" fill="#EE6A66"/>
<circle cx="1809.4" cy="897.5" r="9.5" fill="#7F7F7F"/>
<circle cx="1551.2" cy="876.1" r="9.5" fill="#7F7F7F"/>
<circle cx="1638.0" cy="899.0" r="9.5" fill="#EE6A66"/>
<circle cx="1544.1" cy="865.3" r="9.5" fill="#EE6A66"/>
<circle cx="1767.5" cy="909.7" r="9.5" fill="#7F7F7F"/>
<circle cx="1610.1" cy="861.6" r="9.5" fill="#7F7F7F"/>
<circle cx="1617.3" cy="894.0" r="9.5" fill="#7F7F7F"/>
<circle cx="1733.8" cy="890.7" r="9.5" fill="#EE6A66"/>
<circle cx="1487.0" cy="857.3" r="9.5" fill="#EE6A66"/>
<circle cx="1658.5" cy="868.3" r="9.5" fill="#EE6A66"/>
<circle cx="1586.2" cy="847.8" r="9.5" fill="#EE6A66"/>
<circle cx="1531.5" cy="882.2" r="9.5" fill="#7F7F7F"/>
<circle cx="1754.4" cy="898.2" r="9.5" fill="#7F7F7F"/>
<circle cx="1420.0" cy="800.0" r="9.5" fill="#7F7F7F"/>
<circle cx="1808.9" cy="883.7" r="9.5" fill="#7F7F7F"/>
<circle cx="1784.0" cy="884.3" r="9.5" fill="#7F7F7F"/>
<circle cx="1560.3" cy="851.7" r="9.5" fill="#7F7F7F"/>
<circle cx="1660.7" cy="901.7" r="9.5" fill="#EE6A66"/>
<circle cx="1778.3" cy="910.0" r="9.5" fill="#EE6A66"/>
<circle cx="1757.3" cy="885.6" r="9.5" fill="#7F7F7F"/>
<circle cx="1518.3" cy="881.1" r="9.5" fill="#7F7F7F"/>
<circle cx="1643.7" cy="899.7" r="9.5" fill="#EE6A66"/>
<circle cx="1473.7" cy="876.5" r="9.5" fill="#EE6A66"/>
<circle cx="1794.1" cy="880.3" r="9.5" fill="#EE6A66"/>
<circle cx="1453.4" cy="870.0" r="9.5" fill="#7F7F7F"/>
<circle cx="1476.3" cy="868.7" r="9.5" fill="#7F7F7F"/>
<circle cx="1669.5" cy="897.4" r="9.5" fill="#7F7F7F"/>
<circle cx="1425.9" cy="851.3" r="9.5" fill="#7F7F7F"/>
<circle cx="1712.4" cy="884.0" r="9.5" fill="#EE6A66"/>
<circle cx="1593.3" cy="880.9" r="9.5" fill="#7F7F7F"/>
<circle cx="1661.8" cy="893.5" r="9.5" fill="#7F7F7F"/>
<circle cx="1571.8" cy="882.6" r="9.5" fill="#7F7F7F"/>
<circle cx="1441.8" cy="838.8" r="9.5" fill="#7F7F7F"/>
<circle cx="1717.3" cy="867.0" r="9.5" fill="#EE6A66"/>
<circle cx="1662.3" cy="867.3" r="9.5" fill="#7F7F7F"/>
<circle cx="1694.7" cy="868.7" r="9.5" fill="#7F7F7F"/>
<circle cx="1762.0" cy="909.3" r="9.5" fill="#EE6A66"/>
<circle cx="1444.2" cy="816.3" r="9.5" fill="#7F7F7F"/>
<circle cx="1427.9" cy="819.9" r="9.5" fill="#7F7F7F"/>
<circle cx="1734.3" cy="907.7" r="9.5" fill="#EE6A66"/>
<circle cx="1477.1" cy="859.8" r="9.5" fill="#7F7F7F"/>
<circle cx="1693.2" cy="900.1" r="9.5" fill="#EE6A66"/>
<circle cx="1463.9" cy="856.7" r="9.5" fill="#EE6A66"/>
<circle cx="1452.4" cy="840.3" r="9.5" fill="#7F7F7F"/>
<circle cx="1458.3" cy="872.0" r="9.5" fill="#7F7F7F"/>
<circle cx="1721.6" cy="876.3" r="9.5" fill="#EE6A66"/>
<circle cx="1615.3" cy="897.0" r="9.5" fill="#7F7F7F"/>
<circle cx="1797.7" cy="892.0" r="9.5" fill="#EE6A66"/>
<circle cx="1714.6" cy="888.8" r="9.5" fill="#7F7F7F"/>
<circle cx="1516.2" cy="864.5" r="9.5" fill="#7F7F7F"/>
<circle cx="1453.4" cy="864.9" r="9.5" fill="#7F7F7F"/>
<circle cx="1587.0" cy="846.5" r="9.5" fill="#7F7F7F"/>
<circle cx="1785.3" cy="893.6" r="9.5" fill="#7F7F7F"/>
<circle cx="1698.5" cy="885.1" r="9.5" fill="#EE6A66"/>
<circle cx="1660.8" cy="875.9" r="9.5" fill="#EE6A66"/>
<circle cx="1660.3" cy="898.5" r="9.5" fill="#7F7F7F"/>
<circle cx="1707.9" cy="893.1" r="9.5" fill="#7F7F7F"/>
<circle cx="1760.3" cy="902.2" r="9.5" fill="#7F7F7F"/>
<circle cx="1479.3" cy="877.0" r="9.5" fill="#7F7F7F"/>
<circle cx="1536.1" cy="872.5" r="9.5" fill="#7F7F7F"/>
<circle cx="1647.7" cy="861.7" r="9.5" fill="#EE6A66"/>
<circle cx="1638.0" cy="858.0" r="9.5" fill="#EE6A66"/>
<circle cx="1444.2" cy="850.6" r="9.5" fill="#EE6A66"/>
<circle cx="1646.7" cy="862.6" r="9.5" fill="#7F7F7F"/>
<circle cx="1752.3" cy="879.7" r="9.5" fill="#7F7F7F"/>
<circle cx="1627.5" cy="895.4" r="9.5" fill="#EE6A66"/>
<circle cx="1653.1" cy="877.2" r="9.5" fill="#7F7F7F"/>
<circle cx="1701.2" cy="866.9" r="9.5" fill="#7F7F7F"/>
<circle cx="1446.1" cy="840.5" r="9.5" fill="#EE6A66"/>
<circle cx="1604.0" cy="845.0" r="9.5" fill="#7F7F7F"/>
<circle cx="1669.0" cy="890.0" r="9.5" fill="#EE6A66"/>
<circle cx="1707.7" cy="895.1" r="9.5" fill="#7F7F7F"/>
<circle cx="1513.6" cy="861.1" r="9.5" fill="#7F7F7F"/>
<circle cx="1664.2" cy="895.3" r="9.5" fill="#7F7F7F"/>
<circle cx="1637.9" cy="894.3" r="9.5" fill="#7F7F7F"/>
<circle cx="1456.4" cy="857.9" r="9.5" fill="#7F7F7F"/>
<circle cx="1742.3" cy="893.0" r="9.5" fill="#7F7F7F"/>
<circle cx="1564.3" cy="891.8" r="9.5" fill="#EE6A66"/>
<circle cx="1429.3" cy="801.0" r="9.5" fill="#7F7F7F"/>
<circle cx="1621.3" cy="862.0" r="9.5" fill="#7F7F7F"/>
<circle cx="1751.0" cy="873.3" r="9.5" fill="#7F7F7F"/>
<circle cx="1524.5" cy="871.1" r="9.5" fill="#7F7F7F"/>
<circle cx="1659.8" cy="886.3" r="9.5" fill="#7F7F7F"/>
<circle cx="1441.8" cy="816.4" r="9.5" fill="#7F7F7F"/>
<circle cx="1740.0" cy="871.0" r="9.5" fill="#7F7F7F"/>
<circle cx="1633.4" cy="874.8" r="9.5" fill="#7F7F7F"/>
<circle cx="1698.1" cy="874.2" r="9.5" fill="#7F7F7F"/>
<circle cx="1436.9" cy="846.1" r="9.5" fill="#EE6A66"/>
<circle cx="1771.2" cy="908.0" r="9.5" fill="#7F7F7F"/>
<circle cx="1764.1" cy="887.7" r="9.5" fill="#7F7F7F"/>
<circle cx="1581.3" cy="863.6" r="9.5" fill="#EE6A66"/>
<circle cx="1779.7" cy="907.1" r="9.5" fill="#7F7F7F"/>
<circle cx="1754.7" cy="907.5" r="9.5" fill="#7F7F7F"/>
<circle cx="1485.0" cy="877.5" r="9.5" fill="#7F7F7F"/>
<circle cx="1539.5" cy="872.6" r="9.5" fill="#7F7F7F"/>
<circle cx="1735.0" cy="884.9" r="9.5" fill="#7F7F7F"/>
<circle cx="1554.3" cy="864.3" r="9.5" fill="#7F7F7F"/>
<circle cx="1492.3" cy="856.4" r="9.5" fill="#7F7F7F"/>
<circle cx="1523.5" cy="881.9" r="9.5" fill="#7F7F7F"/>
<circle cx="1575.7" cy="893.5" r="9.5" fill="#7F7F7F"/>
<circle cx="1629.4" cy="878.7" r="9.5" fill="#7F7F7F"/>
<circle cx="1729.4" cy="902.9" r="9.5" fill="#7F7F7F"/>
<circle cx="1541.4" cy="876.2" r="9.5" fill="#EE6A66"/>
<circle cx="1519.0" cy="861.0" r="9.5" fill="#7F7F7F"/>
<circle cx="1598.3" cy="895.5" r="9.5" fill="#EE6A66"/>
<circle cx="1592.7" cy="846.0" r="9.5" fill="#7F7F7F"/>
<circle cx="1652.6" cy="863.6" r="9.5" fill="#7F7F7F"/>
<circle cx="1777.7" cy="900.8" r="9.5" fill="#7F7F7F"/>
<circle cx="1629.1" cy="882.4" r="9.5" fill="#7F7F7F"/>
<circle cx="1751.0" cy="908.7" r="9.5" fill="#7F7F7F"/>
<circle cx="1536.0" cy="861.0" r="9.5" fill="#7F7F7F"/>
<circle cx="1502.0" cy="861.0" r="9.5" fill="#EE6A66"/>
<circle cx="1545.7" cy="857.3" r="9.5" fill="#7F7F7F"/>
<circle cx="1554.0" cy="866.4" r="9.5" fill="#EE6A66"/>
<circle cx="1706.0" cy="865.0" r="9.5" fill="#7F7F7F"/>
<circle cx="1628.7" cy="867.2" r="9.5" fill="#7F7F7F"/>
<circle cx="1786.9" cy="900.3" r="9.5" fill="#7F7F7F"/>
<circle cx="1729.7" cy="881.6" r="9.5" fill="#7F7F7F"/>
<circle cx="1607.0" cy="855.9" r="9.5" fill="#7F7F7F"/>
<circle cx="1511.7" cy="875.5" r="9.5" fill="#7F7F7F"/>
<circle cx="1572.2" cy="853.3" r="9.5" fill="#EE6A66"/>
<circle cx="1587.0" cy="894.5" r="9.5" fill="#EE6A66"/>
<circle cx="1723.0" cy="906.1" r="9.5" fill="#7F7F7F"/>
<circle cx="1468.0" cy="845.0" r="9.5" fill="#7F7F7F"/>
<circle cx="1468.0" cy="876.0" r="9.5" fill="#7F7F7F"/>
<circle cx="1689.0" cy="868.0" r="9.5" fill="#EE6A66"/>
<circle cx="1626.9" cy="855.6" r="9.5" fill="#EE6A66"/>
<circle cx="1615.9" cy="857.9" r="9.5" fill="#7F7F7F"/>
<circle cx="1502.0" cy="879.0" r="9.5" fill="#EE6A66"/>
<circle cx="1766.1" cy="887.3" r="9.5" fill="#7F7F7F"/>
<circle cx="1454.4" cy="828.6" r="9.5" fill="#7F7F7F"/>
<circle cx="1590.3" cy="856.8" r="9.5" fill="#7F7F7F"/>
<circle cx="1684.2" cy="876.1" r="9.5" fill="#7F7F7F"/>
<circle cx="1571.0" cy="891.2" r="9.5" fill="#7F7F7F"/>
<circle cx="1810.0" cy="882.0" r="9.5" fill="#7F7F7F"/>
<circle cx="1608.9" cy="846.9" r="9.5" fill="#7F7F7F"/>
<circle cx="1683.3" cy="869.0" r="9.5" fill="#7F7F7F"/>
<circle cx="1600.8" cy="875.7" r="9.5" fill="#7F7F7F"/>
<circle cx="1420.0" cy="805.0" r="9.5" fill="#7F7F7F"/>
<circle cx="1522.9" cy="872.6" r="9.5" fill="#7F7F7F"/>
<circle cx="1745.5" cy="872.2" r="9.5" fill="#7F7F7F"/>
<circle cx="1507.7" cy="880.2" r="9.5" fill="#7F7F7F"/>
<circle cx="1620.7" cy="876.5" r="9.5" fill="#EE6A66"/>
<circle cx="1434.0" cy="862.0" r="9.5" fill="#7F7F7F"/>
<circle cx="1420.0" cy="840.0" r="9.5" fill="#EE6A66"/>
<circle cx="1670.8" cy="901.7" r="9.5" fill="#7F7F7F"/>
<circle cx="1524.7" cy="861.0" r="9.5" fill="#7F7F7F"/>
<circle cx="1810.0" cy="904.4" r="9.5" fill="#EE6A66"/>
<circle cx="1530.3" cy="884.8" r="9.5" fill="#EE6A66"/>
<circle cx="1642.5" cy="871.0" r="9.5" fill="#7F7F7F"/>
<circle cx="1461.3" cy="839.6" r="9.5" fill="#EE6A66"/>
<circle cx="1450.5" cy="826.0" r="9.5" fill="#7F7F7F"/>
<circle cx="1795.2" cy="898.5" r="9.5" fill="#7F7F7F"/>
<circle cx="1466.3" cy="852.0" r="9.5" fill="#7F7F7F"/>
<circle cx="1424.7" cy="854.0" r="9.5" fill="#7F7F7F"/>
<circle cx="1561.5" cy="868.5" r="9.5" fill="#7F7F7F"/>
<circle cx="1445.5" cy="825.3" r="9.5" fill="#7F7F7F"/>
<circle cx="1458.5" cy="841.2" r="9.5" fill="#7F7F7F"/>
<circle cx="1563.0" cy="854.6" r="9.5" fill="#7F7F7F"/>
<circle cx="1610.0" cy="873.5" r="9.5" fill="#7F7F7F"/>
<circle cx="1601.5" cy="871.1" r="9.5" fill="#7F7F7F"/>
<circle cx="1740.0" cy="908.0" r="9.5" fill="#7F7F7F"/>
<circle cx="1668.0" cy="878.3" r="9.5" fill="#EE6A66"/>
<circle cx="1700.3" cy="866.0" r="9.5" fill="#7F7F7F"/>
<circle cx="1463.1" cy="874.0" r="9.5" fill="#7F7F7F"/>
<circle cx="1721.2" cy="873.7" r="9.5" fill="#7F7F7F"/>
<circle cx="1534.4" cy="881.7" r="9.5" fill="#7F7F7F"/>
<circle cx="1427.1" cy="853.0" r="9.5" fill="#EE6A66"/>
<circle cx="1626.7" cy="898.0" r="9.5" fill="#7F7F7F"/>
<circle cx="1725.3" cy="870.4" r="9.5" fill="#7F7F7F"/>
<circle cx="1690.5" cy="876.0" r="9.5" fill="#7F7F7F"/>
<circle cx="1677.1" cy="893.3" r="9.5" fill="#EE6A66"/>
<circle cx="1596.9" cy="867.9" r="9.5" fill="#EE6A66"/>
<circle cx="1526.9" cy="864.7" r="9.5" fill="#7F7F7F"/>
<circle cx="1535.5" cy="863.8" r="9.5" fill="#7F7F7F"/>
<circle cx="1670.2" cy="884.1" r="9.5" fill="#7F7F7F"/>
<circle cx="1487.7" cy="864.0" r="9.5" fill="#7F7F7F"/>
<circle cx="1426.7" cy="812.4" r="9.5" fill="#7F7F7F"/>
<circle cx="1581.3" cy="847.0" r="9.5" fill="#7F7F7F"/>
<circle cx="1533.0" cy="879.4" r="9.5" fill="#7F7F7F"/>
<circle cx="1648.9" cy="867.1" r="9.5" fill="#EE6A66"/>
<circle cx="1502.0" cy="876.3" r="9.5" fill="#7F7F7F"/>
<circle cx="1708.1" cy="887.2" r="9.5" fill="#7F7F7F"/>
<circle cx="1530.3" cy="861.0" r="9.5" fill="#EE6A66"/>
<circle cx="1655.2" cy="900.1" r="9.5" fill="#7F7F7F"/>
<circle cx="1727.8" cy="900.1" r="9.5" fill="#7F7F7F"/>
<circle cx="1790.1" cy="903.4" r="9.5" fill="#7F7F7F"/>
<circle cx="1427.0" cy="801.8" r="9.5" fill="#7F7F7F"/>
<circle cx="1458.2" cy="864.0" r="9.5" fill="#7F7F7F"/>
<circle cx="1717.3" cy="906.7" r="9.5" fill="#7F7F7F"/>
<circle cx="1612.1" cy="888.0" r="9.5" fill="#EE6A66"/>
<circle cx="1799.4" cy="880.9" r="9.5" fill="#7F7F7F"/>
<circle cx="1420.0" cy="845.0" r="9.5" fill="#7F7F7F"/>
<circle cx="1716.3" cy="903.4" r="9.5" fill="#EE6A66"/>
<circle cx="1734.3" cy="870.0" r="9.5" fill="#7F7F7F"/>
<circle cx="1719.9" cy="878.6" r="9.5" fill="#7F7F7F"/>
<circle cx="1659.2" cy="881.8" r="9.5" fill="#7F7F7F"/>
<circle cx="1549.4" cy="859.1" r="9.5" fill="#7F7F7F"/>
<circle cx="1634.1" cy="895.5" r="9.5" fill="#7F7F7F"/>
<circle cx="1622.1" cy="857.5" r="9.5" fill="#7F7F7F"/>
<circle cx="1765.2" cy="879.0" r="9.5" fill="#EE6A66"/>
<circle cx="1710.5" cy="878.4" r="9.5" fill="#7F7F7F"/>
<circle cx="1609.7" cy="896.5" r="9.5" fill="#7F7F7F"/>
<circle cx="1810.0" cy="910.0" r="9.5" fill="#7F7F7F"/>
<circle cx="1723.0" cy="868.0" r="9.5" fill="#7F7F7F"/>
<circle cx="1550.6" cy="855.4" r="9.5" fill="#7F7F7F"/>
<circle cx="1773.0" cy="878.0" r="9.5" fill="#7F7F7F"/>
<circle cx="1774.5" cy="902.7" r="9.5" fill="#7F7F7F"/>
<circle cx="1541.7" cy="887.2" r="9.5" fill="#7F7F7F"/>
<circle cx="1474.7" cy="853.7" r="9.5" fill="#7F7F7F"/>
<circle cx="1506.9" cy="876.1" r="9.5" fill="#7F7F7F"/>
<circle cx="1420.0" cy="810.0" r="9.5" fill="#7F7F7F"/>
<circle cx="1461.2" cy="836.8" r="9.5" fill="#7F7F7F"/>
<circle cx="1736.5" cy="882.1" r="9.5" fill="#EE6A66"/>
<circle cx="1581.3" cy="894.0" r="9.5" fill="#EE6A66"/>
<circle cx="1678.3" cy="886.2" r="9.5" fill="#7F7F7F"/>
<circle cx="1783.8" cy="905.6" r="9.5" fill="#7F7F7F"/>
<circle cx="1635.8" cy="867.1" r="9.5" fill="#EE6A66"/>
<circle cx="1581.7" cy="877.1" r="9.5" fill="#7F7F7F"/>
<circle cx="1467.4" cy="861.1" r="9.5" fill="#7F7F7F"/>
<circle cx="1717.7" cy="868.7" r="9.5" fill="#7F7F7F"/>
<circle cx="1742.2" cy="906.0" r="9.5" fill="#EE6A66"/>
<circle cx="1667.1" cy="869.1" r="9.5" fill="#7F7F7F"/>
<circle cx="1719.4" cy="900.2" r="9.5" fill="#EE6A66"/>
<circle cx="1677.7" cy="903.5" r="9.5" fill="#7F7F7F"/>
<circle cx="1604.9" cy="859.4" r="9.5" fill="#EE6A66"/>
<circle cx="1644.7" cy="889.3" r="9.5" fill="#7F7F7F"/>
<circle cx="1438.9" cy="833.4" r="9.5" fill="#EE6A66"/>
<circle cx="1622.2" cy="875.4" r="9.5" fill="#EE6A66"/>
<circle cx="1788.9" cy="879.7" r="9.5" fill="#7F7F7F"/>
<circle cx="1576.4" cy="893.5" r="9.5" fill="#7F7F7F"/>
<circle cx="1430.9" cy="858.3" r="9.5" fill="#EE6A66"/>
<circle cx="1571.6" cy="871.5" r="9.5" fill="#EE6A66"/>
<circle cx="1665.3" cy="870.4" r="9.5" fill="#7F7F7F"/>
<circle cx="1499.2" cy="876.0" r="9.5" fill="#7F7F7F"/>
<circle cx="1555.4" cy="853.6" r="9.5" fill="#7F7F7F"/>
<circle cx="1565.1" cy="849.9" r="9.5" fill="#7F7F7F"/>
<circle cx="1680.9" cy="877.9" r="9.5" fill="#EE6A66"/>
<circle cx="1420.8" cy="821.9" r="9.5" fill="#7F7F7F"/>
<circle cx="1684.4" cy="897.6" r="9.5" fill="#EE6A66"/>
<circle cx="1667.3" cy="881.9" r="9.5" fill="#7F7F7F"/>
<circle cx="1695.5" cy="886.4" r="9.5" fill="#7F7F7F"/>
<circle cx="1587.4" cy="892.8" r="9.5" fill="#EE6A66"/>
<circle cx="1595.5" cy="886.4" r="9.5" fill="#7F7F7F"/>
<circle cx="1554.6" cy="866.9" r="9.5" fill="#EE6A66"/>
<circle cx="1676.7" cy="898.7" r="9.5" fill="#7F7F7F"/>
<circle cx="1635.1" cy="887.1" r="9.5" fill="#7F7F7F"/>
<circle cx="1434.9" cy="825.0" r="9.5" fill="#7F7F7F"/>
<circle cx="1432.1" cy="810.7" r="9.5" fill="#EE6A66"/>
<circle cx="1596.0" cy="891.5" r="9.5" fill="#7F7F7F"/>
<circle cx="1511.5" cy="878.7" r="9.5" fill="#7F7F7F"/>
<circle cx="1421.5" cy="827.7" r="9.5" fill="#7F7F7F"/>
<circle cx="1666.3" cy="902.3" r="9.5" fill="#7F7F7F"/>
<circle cx="1519.0" cy="882.5" r="9.5" fill="#EE6A66"/>
<circle cx="1497.1" cy="858.7" r="9.5" fill="#7F7F7F"/>
<circle cx="1734.1" cy="898.8" r="9.5" fill="#EE6A66"/>
<circle cx="1450.0" cy="850.0" r="9.5" fill="#7F7F7F"/>
<circle cx="1604.0" cy="896.0" r="9.5" fill="#7F7F7F"/>
<circle cx="1490.7" cy="878.0" r="9.5" fill="#EE6A66"/>
<circle cx="1584.3" cy="866.8" r="9.5" fill="#7F7F7F"/>
<circle cx="1586.8" cy="855.8" r="9.5" fill="#7F7F7F"/>
<circle cx="1708.1" cy="901.8" r="9.5" fill="#EE6A66"/>
<circle cx="1632.3" cy="898.5" r="9.5" fill="#7F7F7F"/>
<circle cx="1472.9" cy="847.3" r="9.5" fill="#7F7F7F"/>
<circle cx="1641.7" cy="864.2" r="9.5" fill="#7F7F7F"/>
<circle cx="1451.0" cy="824.5" r="9.5" fill="#EE6A66"/>
<circle cx="1783.6" cy="910.0" r="9.5" fill="#EE6A66"/>
<circle cx="1443.7" cy="866.0" r="9.5" fill="#7F7F7F"/>
<circle cx="1642.9" cy="859.9" r="9.5" fill="#7F7F7F"/>
<circle cx="1534.7" cy="867.0" r="9.5" fill="#EE6A66"/>
<circle cx="1708.1" cy="866.1" r="9.5" fill="#EE6A66"/>
<circle cx="1778.4" cy="888.2" r="9.5" fill="#7F7F7F"/>
<circle cx="1464.6" cy="840.9" r="9.5" fill="#7F7F7F"/>
<circle cx="1438.2" cy="855.2" r="9.5" fill="#EE6A66"/>
<circle cx="1437.4" cy="808.1" r="9.5" fill="#7F7F7F"/>
<circle cx="1587.0" cy="880.7" r="9.5" fill="#EE6A66"/>
<circle cx="1592.1" cy="871.2" r="9.5" fill="#7F7F7F"/>
<circle cx="1549.5" cy="856.4" r="9.5" fill="#EE6A66"/>
<circle cx="1560.2" cy="872.2" r="9.5" fill="#7F7F7F"/>
<circle cx="1420.0" cy="815.0" r="9.5" fill="#7F7F7F"/>
<circle cx="1555.5" cy="882.0" r="9.5" fill="#7F7F7F"/>
<circle cx="1694.6" cy="876.1" r="9.5" fill="#7F7F7F"/>
<circle cx="1613.7" cy="848.7" r="9.5" fill="#7F7F7F"/>
<circle cx="1562.5" cy="851.6" r="9.5" fill="#7F7F7F"/>
<circle cx="1526.9" cy="880.3" r="9.5" fill="#EE6A66"/>
<circle cx="1799.4" cy="910.0" r="9.5" fill="#7F7F7F"/>
<circle cx="1656.5" cy="888.4" r="9.5" fill="#7F7F7F"/>
<circle cx="1427.4" cy="822.9" r="9.5" fill="#7F7F7F"/>
<circle cx="1487.0" cy="876.3" r="9.5" fill="#7F7F7F"/>
<circle cx="1452.8" cy="846.3" r="9.5" fill="#7F7F7F"/>
<circle cx="1442.1" cy="861.1" r="9.5" fill="#7F7F7F"/>
<circle cx="1792.6" cy="888.7" r="9.5" fill="#EE6A66"/>
<circle cx="1566.0" cy="862.2" r="9.5" fill="#7F7F7F"/>
<circle cx="1513.3" cy="861.0" r="9.5" fill="#EE6A66"/>
<circle cx="1618.9" cy="851.4" r="9.5" fill="#7F7F7F"/>
<circle cx="1762.6" cy="907.4" r="9.5" fill="#7F7F7F"/>
<circle cx="1694.7" cy="867.0" r="9.5" fill="#7F7F7F"/>
<circle cx="1435.0" cy="828.2" r="9.5" fill="#7F7F7F"/>
<circle cx="1764.4" cy="899.1" r="9.5" fill="#7F7F7F"/>
<circle cx="1603.1" cy="851.9" r="9.5" fill="#7F7F7F"/>
<circle cx="1762.0" cy="875.7" r="9.5" fill="#7F7F7F"/>
<circle cx="1746.0" cy="908.2" r="9.5" fill="#7F7F7F"/>
<circle cx="1800.4" cy="903.2" r="9.5" fill="#7F7F7F"/>
<circle cx="1488.6" cy="858.4" r="9.5" fill="#7F7F7F"/>
<circle cx="1777.7" cy="888.4" r="9.5" fill="#7F7F7F"/>
<circle cx="1448.6" cy="833.6" r="9.5" fill="#7F7F7F"/>
<circle cx="1804.9" cy="893.7" r="9.5" fill="#7F7F7F"/>
<circle cx="1745.5" cy="908.3" r="9.5" fill="#7F7F7F"/>
<circle cx="1755.0" cy="892.5" r="9.5" fill="#7F7F7F"/>
<circle cx="1806.4" cy="902.3" r="9.5" fill="#7F7F7F"/>
<circle cx="1559.1" cy="875.8" r="9.5" fill="#7F7F7F"/>
<circle cx="1655.0" cy="901.0" r="9.5" fill="#7F7F7F"/>
<circle cx="1697.1" cy="895.4" r="9.5" fill="#7F7F7F"/>
<circle cx="1429.3" cy="858.0" r="9.5" fill="#7F7F7F"/>
<circle cx="1420.0" cy="830.0" r="9.5" fill="#7F7F7F"/>
<circle cx="1788.9" cy="910.0" r="9.5" fill="#7F7F7F"/>
<circle cx="1711.7" cy="906.3" r="9.5" fill="#7F7F7F"/>
<circle cx="1749.9" cy="905.8" r="9.5" fill="#7F7F7F"/>
<circle cx="1765.4" cy="889.7" r="9.5" fill="#7F7F7F"/>
<circle cx="1639.6" cy="870.1" r="9.5" fill="#7F7F7F"/>
<circle cx="1432.4" cy="857.8" r="9.5" fill="#7F7F7F"/>
<circle cx="1457.8" cy="832.7" r="9.5" fill="#7F7F7F"/>
<circle cx="1589.6" cy="893.3" r="9.5" fill="#7F7F7F"/>
<circle cx="1672.0" cy="871.0" r="9.5" fill="#7F7F7F"/>
<circle cx="1683.3" cy="904.0" r="9.5" fill="#7F7F7F"/>
<circle cx="1568.6" cy="879.1" r="9.5" fill="#7F7F7F"/>
<circle cx="1598.7" cy="855.3" r="9.5" fill="#7F7F7F"/>
<circle cx="1810.0" cy="898.8" r="9.5" fill="#7F7F7F"/>
<circle cx="1784.7" cy="893.7" r="9.5" fill="#7F7F7F"/>
<circle cx="1810.0" cy="887.6" r="9.5" fill="#7F7F7F"/>
<circle cx="1470.1" cy="867.7" r="9.5" fill="#7F7F7F"/>
<circle cx="1448.8" cy="858.3" r="9.5" fill="#7F7F7F"/>
<circle cx="1787.1" cy="886.1" r="9.5" fill="#7F7F7F"/>
<circle cx="1570.0" cy="893.0" r="9.5" fill="#7F7F7F"/>
<circle cx="1425.2" cy="835.6" r="9.5" fill="#7F7F7F"/>
<circle cx="1743.4" cy="872.0" r="9.5" fill="#7F7F7F"/>
<circle cx="1563.2" cy="883.2" r="9.5" fill="#7F7F7F"/>
<circle cx="1621.0" cy="897.5" r="9.5" fill="#7F7F7F"/>
<circle cx="1560.3" cy="862.8" r="9.5" fill="#7F7F7F"/>
<circle cx="1545.8" cy="886.5" r="9.5" fill="#7F7F7F"/>
<circle cx="1623.4" cy="852.4" r="9.5" fill="#7F7F7F"/>
<circle cx="1615.9" cy="873.1" r="9.5" fill="#7F7F7F"/>
<circle cx="1810.0" cy="893.2" r="9.5" fill="#7F7F7F"/>
<circle cx="1428.9" cy="852.3" r="9.5" fill="#7F7F7F"/>
<circle cx="1424.7" cy="798.0" r="9.5" fill="#7F7F7F"/>
<circle cx="1598.7" cy="871.9" r="9.5" fill="#7F7F7F"/>
<circle cx="1803.5" cy="887.3" r="9.5" fill="#7F7F7F"/>
<circle cx="1628.3" cy="854.3" r="9.5" fill="#7F7F7F"/>
<circle cx="1472.0" cy="851.6" r="9.5" fill="#7F7F7F"/>
<circle cx="1618.0" cy="885.9" r="9.5" fill="#7F7F7F"/>
<circle cx="1529.5" cy="870.5" r="9.5" fill="#7F7F7F"/>
<circle cx="1439.4" cy="842.3" r="9.5" fill="#7F7F7F"/>
<circle cx="1547.3" cy="888.3" r="9.5" fill="#7F7F7F"/>
<circle cx="1728.7" cy="869.0" r="9.5" fill="#7F7F7F"/>
<circle cx="1750.6" cy="889.1" r="9.5" fill="#7F7F7F"/>
<circle cx="1487.4" cy="854.1" r="9.5" fill="#7F7F7F"/>
<circle cx="1747.9" cy="897.6" r="9.5" fill="#7F7F7F"/>
<circle cx="1456.4" cy="852.2" r="9.5" fill="#7F7F7F"/>
<circle cx="1677.7" cy="870.0" r="9.5" fill="#7F7F7F"/>
<circle cx="1573.3" cy="848.1" r="9.5" fill="#7F7F7F"/>
<circle cx="1438.6" cy="814.8" r="9.5" fill="#7F7F7F"/>
<circle cx="1420.0" cy="835.0" r="9.5" fill="#7F7F7F"/>
<circle cx="1461.9" cy="865.4" r="9.5" fill="#7F7F7F"/>
<circle cx="1502.1" cy="870.4" r="9.5" fill="#7F7F7F"/>
<circle cx="1589.6" cy="882.6" r="9.5" fill="#7F7F7F"/>
<circle cx="1637.4" cy="864.2" r="9.5" fill="#7F7F7F"/>
<circle cx="1712.6" cy="872.0" r="9.5" fill="#7F7F7F"/>
<circle cx="1794.1" cy="886.8" r="9.5" fill="#7F7F7F"/>
<circle cx="1420.5" cy="816.8" r="9.5" fill="#7F7F7F"/>
<circle cx="1473.5" cy="876.1" r="9.5" fill="#7F7F7F"/>
<circle cx="1513.3" cy="881.3" r="9.5" fill="#7F7F7F"/>
<circle cx="1436.6" cy="834.1" r="9.5" fill="#7F7F7F"/>
<circle cx="1650.4" cy="887.7" r="9.5" fill="#7F7F7F"/>
<circle cx="1493.3" cy="970.2" r="9.5" fill="#7F7F7F"/>
<circle cx="1446.3" cy="1000.3" r="9.5" fill="#7F7F7F"/>
<circle cx="1719.1" cy="964.9" r="9.5" fill="#7F7F7F"/>
<circle cx="1563.7" cy="974.6" r="9.5" fill="#EE6A66"/>
<circle cx="1502.7" cy="975.2" r="9.5" fill="#7F7F7F"/>
<circle cx="1722.7" cy="958.7" r="9.5" fill="#EE6A66"/>
<circle cx="1614.5" cy="948.9" r="9.5" fill="#7F7F7F"/>
<circle cx="1435.4" cy="980.7" r="9.5" fill="#EE6A66"/>
<circle cx="1780.1" cy="951.3" r="9.5" fill="#7F7F7F"/>
<circle cx="1810.0" cy="944.4" r="9.5" fill="#7F7F7F"/>
<circle cx="1729.5" cy="964.5" r="9.5" fill="#7F7F7F"/>
<circle cx="1673.3" cy="944.6" r="9.5" fill="#7F7F7F"/>
<circle cx="1604.0" cy="950.0" r="9.5" fill="#EE6A66"/>
<circle cx="1503.1" cy="969.0" r="9.5" fill="#7F7F7F"/>
<circle cx="1605.8" cy="954.6" r="9.5" fill="#7F7F7F"/>
<circle cx="1599.4" cy="952.8" r="9.5" fill="#EE6A66"/>
<circle cx="1799.4" cy="934.6" r="9.5" fill="#7F7F7F"/>
<circle cx="1534.5" cy="981.2" r="9.5" fill="#EE6A66"/>
<circle cx="1624.9" cy="969.8" r="9.5" fill="#7F7F7F"/>
<circle cx="1567.4" cy="976.4" r="9.5" fill="#7F7F7F"/>
<circle cx="1762.5" cy="937.4" r="9.5" fill="#EE6A66"/>
<circle cx="1441.0" cy="985.4" r="9.5" fill="#EE6A66"/>
<circle cx="1663.9" cy="955.0" r="9.5" fill="#7F7F7F"/>
<circle cx="1604.3" cy="952.4" r="9.5" fill="#7F7F7F"/>
<circle cx="1551.7" cy="978.7" r="9.5" fill="#EE6A66"/>
<circle cx="1497.4" cy="983.8" r="9.5" fill="#EE6A66"/>
<circle cx="1562.2" cy="956.2" r="9.5" fill="#EE6A66"/>
<circle cx="1464.1" cy="985.3" r="9.5" fill="#7F7F7F"/>
<circle cx="1692.9" cy="966.1" r="9.5" fill="#7F7F7F"/>
<circle cx="1728.3" cy="950.9" r="9.5" fill="#EE6A66"/>
<circle cx="1779.1" cy="959.9" r="9.5" fill="#7F7F7F"/>
<circle cx="1560.2" cy="956.7" r="9.5" fill="#7F7F7F"/>
<circle cx="1499.4" cy="988.0" r="9.5" fill="#7F7F7F"/>
<circle cx="1464.9" cy="989.3" r="9.5" fill="#7F7F7F"/>
<circle cx="1523.8" cy="979.3" r="9.5" fill="#7F7F7F"/>
<circle cx="1435.4" cy="1003.4" r="9.5" fill="#7F7F7F"/>
<circle cx="1804.7" cy="960.0" r="9.5" fill="#7F7F7F"/>
<circle cx="1440.9" cy="979.4" r="9.5" fill="#7F7F7F"/>
<circle cx="1724.3" cy="939.9" r="9.5" fill="#7F7F7F"/>
<circle cx="1685.7" cy="949.6" r="9.5" fill="#7F7F7F"/>
<circle cx="1687.7" cy="966.3" r="9.5" fill="#7F7F7F"/>
<circle cx="1651.1" cy="968.2" r="9.5" fill="#7F7F7F"/>
<circle cx="1698.8" cy="953.3" r="9.5" fill="#7F7F7F"/>
<circle cx="1614.5" cy="970.4" r="9.5" fill="#EE6A66"/>
<circle cx="1488.2" cy="978.8" r="9.5" fill="#EE6A66"/>
<circle cx="1802.5" cy="946.3" r="9.5" fill="#EE6A66"/>
<circle cx="1489.9" cy="981.5" r="9.5" fill="#7F7F7F"/>
<circle cx="1788.9" cy="935.1" r="9.5" fill="#EE6A66"/>
<circle cx="1449.3" cy="977.5" r="9.5" fill="#7F7F7F"/>
<circle cx="1596.6" cy="957.5" r="9.5" fill="#EE6A66"/>
<circle cx="1673.7" cy="954.1" r="9.5" fill="#7F7F7F"/>
<circle cx="1672.0" cy="967.0" r="9.5" fill="#7F7F7F"/>
<circle cx="1743.2" cy="949.5" r="9.5" fill="#7F7F7F"/>
<circle cx="1740.4" cy="958.5" r="9.5" fill="#7F7F7F"/>
<circle cx="1463.7" cy="995.0" r="9.5" fill="#EE6A66"/>
<circle cx="1783.2" cy="945.5" r="9.5" fill="#7F7F7F"/>
<circle cx="1588.3" cy="952.3" r="9.5" fill="#7F7F7F"/>
<circle cx="1507.7" cy="966.2" r="9.5" fill="#7F7F7F"/>
<circle cx="1807.8" cy="948.6" r="9.5" fill="#7F7F7F"/>
<circle cx="1649.2" cy="967.0" r="9.5" fill="#7F7F7F"/>
<circle cx="1545.7" cy="964.4" r="9.5" fill="#7F7F7F"/>
<circle cx="1701.0" cy="962.0" r="9.5" fill="#EE6A66"/>
<circle cx="1455.5" cy="978.7" r="9.5" fill="#7F7F7F"/>
<circle cx="1635.4" cy="969.2" r="9.5" fill="#EE6A66"/>
<circle cx="1547.5" cy="960.9" r="9.5" fill="#7F7F7F"/>
<circle cx="1740.0" cy="964.0" r="9.5" fill="#EE6A66"/>
<circle cx="1454.9" cy="986.1" r="9.5" fill="#EE6A66"/>
<circle cx="1794.1" cy="934.9" r="9.5" fill="#7F7F7F"/>
<circle cx="1810.0" cy="939.2" r="9.5" fill="#7F7F7F"/>
<circle cx="1656.3" cy="967.9" r="9.5" fill="#EE6A66"/>
<circle cx="1556.9" cy="977.9" r="9.5" fill="#7F7F7F"/>
<circle cx="1690.0" cy="958.1" r="9.5" fill="#7F7F7F"/>
<circle cx="1703.4" cy="941.2" r="9.5" fill="#EE6A66"/>
<circle cx="1651.5" cy="945.8" r="9.5" fill="#7F7F7F"/>
<circle cx="1741.9" cy="946.9" r="9.5" fill="#7F7F7F"/>
<circle cx="1585.1" cy="970.3" r="9.5" fill="#7F7F7F"/>
<circle cx="1800.8" cy="955.1" r="9.5" fill="#7F7F7F"/>
<circle cx="1457.1" cy="979.2" r="9.5" fill="#7F7F7F"/>
<circle cx="1778.2" cy="939.2" r="9.5" fill="#7F7F7F"/>
<circle cx="1772.0" cy="948.3" r="9.5" fill="#7F7F7F"/>
<circle cx="1810.0" cy="934.0" r="9.5" fill="#7F7F7F"/>
<circle cx="1523.0" cy="983.4" r="9.5" fill="#7F7F7F"/>
<circle cx="1555.5" cy="972.4" r="9.5" fill="#7F7F7F"/>
<circle cx="1440.9" cy="1001.9" r="9.5" fill="#7F7F7F"/>
<circle cx="1724.1" cy="951.0" r="9.5" fill="#7F7F7F"/>
<circle cx="1433.4" cy="994.3" r="9.5" fill="#7F7F7F"/>
<circle cx="1804.5" cy="939.4" r="9.5" fill="#EE6A66"/>
<circle cx="1783.6" cy="935.4" r="9.5" fill="#EE6A66"/>
<circle cx="1567.4" cy="955.4" r="9.5" fill="#7F7F7F"/>
<circle cx="1747.3" cy="948.8" r="9.5" fill="#7F7F7F"/>
<circle cx="1809.0" cy="958.5" r="9.5" fill="#7F7F7F"/>
<circle cx="1670.7" cy="951.9" r="9.5" fill="#7F7F7F"/>
<circle cx="1621.6" cy="949.0" r="9.5" fill="#EE6A66"/>
<circle cx="1483.7" cy="991.0" r="9.5" fill="#7F7F7F"/>
<circle cx="1630.2" cy="947.3" r="9.5" fill="#7F7F7F"/>
<circle cx="1642.6" cy="968.4" r="9.5" fill="#7F7F7F"/>
<circle cx="1434.1" cy="1001.8" r="9.5" fill="#7F7F7F"/>
<circle cx="1669.8" cy="957.4" r="9.5" fill="#7F7F7F"/>
<circle cx="1481.5" cy="989.1" r="9.5" fill="#7F7F7F"/>
<circle cx="1504.6" cy="987.0" r="9.5" fill="#EE6A66"/>
<circle cx="1723.4" cy="947.9" r="9.5" fill="#7F7F7F"/>
<circle cx="1444.2" cy="998.4" r="9.5" fill="#EE6A66"/>
<circle cx="1653.8" cy="954.9" r="9.5" fill="#7F7F7F"/>
<circle cx="1450.2" cy="992.0" r="9.5" fill="#7F7F7F"/>
<circle cx="1430.0" cy="987.8" r="9.5" fill="#EE6A66"/>
<circle cx="1713.8" cy="940.5" r="9.5" fill="#EE6A66"/>
<circle cx="1577.8" cy="974.8" r="9.5" fill="#7F7F7F"/>
<circle cx="1703.1" cy="956.7" r="9.5" fill="#7F7F7F"/>
<circle cx="1542.4" cy="973.4" r="9.5" fill="#7F7F7F"/>
<circle cx="1492.7" cy="975.4" r="9.5" fill="#7F7F7F"/>
<circle cx="1745.5" cy="938.5" r="9.5" fill="#EE6A66"/>
<circle cx="1810.0" cy="949.6" r="9.5" fill="#7F7F7F"/>
<circle cx="1461.9" cy="979.2" r="9.5" fill="#7F7F7F"/>
<circle cx="1635.4" cy="946.8" r="9.5" fill="#7F7F7F"/>
<circle cx="1729.7" cy="941.0" r="9.5" fill="#EE6A66"/>
<circle cx="1767.5" cy="936.5" r="9.5" fill="#7F7F7F"/>
<circle cx="1577.8" cy="953.8" r="9.5" fill="#EE6A66"/>
<circle cx="1767.1" cy="952.1" r="9.5" fill="#EE6A66"/>
<circle cx="1494.2" cy="968.0" r="9.5" fill="#EE6A66"/>
<circle cx="1783.6" cy="960.0" r="9.5" fill="#7F7F7F"/>
<circle cx="1472.0" cy="985.0" r="9.5" fill="#7F7F7F"/>
<circle cx="1523.1" cy="979.2" r="9.5" fill="#7F7F7F"/>
<circle cx="1541.2" cy="959.2" r="9.5" fill="#EE6A66"/>
<circle cx="1592.2" cy="954.8" r="9.5" fill="#7F7F7F"/>
<circle cx="1611.2" cy="953.7" r="9.5" fill="#7F7F7F"/>
<circle cx="1521.2" cy="968.7" r="9.5" fill="#7F7F7F"/>
<circle cx="1515.1" cy="985.0" r="9.5" fill="#EE6A66"/>
<circle cx="1810.0" cy="954.8" r="9.5" fill="#EE6A66"/>
<circle cx="1694.9" cy="962.1" r="9.5" fill="#EE6A66"/>
<circle cx="1533.1" cy="973.1" r="9.5" fill="#7F7F7F"/>
<circle cx="1661.5" cy="967.6" r="9.5" fill="#7F7F7F"/>
<circle cx="1636.4" cy="963.7" r="9.5" fill="#7F7F7F"/>
<circle cx="1788.9" cy="960.0" r="9.5" fill="#7F7F7F"/>
<circle cx="1448.8" cy="988.8" r="9.5" fill="#7F7F7F"/>
<circle cx="1535.0" cy="967.1" r="9.5" fill="#EE6A66"/>
<circle cx="1436.5" cy="992.5" r="9.5" fill="#7F7F7F"/>
<circle cx="1593.5" cy="951.5" r="9.5" fill="#7F7F7F"/>
<circle cx="1619.7" cy="948.4" r="9.5" fill="#EE6A66"/>
<circle cx="1687.7" cy="942.1" r="9.5" fill="#EE6A66"/>
<circle cx="1430.0" cy="1005.0" r="9.5" fill="#7F7F7F"/>
<circle cx="1478.6" cy="972.1" r="9.5" fill="#7F7F7F"/>
<circle cx="1489.9" cy="977.7" r="9.5" fill="#7F7F7F"/>
<circle cx="1661.8" cy="950.2" r="9.5" fill="#EE6A66"/>
<circle cx="1530.8" cy="961.0" r="9.5" fill="#7F7F7F"/>
<circle cx="1746.5" cy="958.9" r="9.5" fill="#EE6A66"/>
<circle cx="1634.2" cy="955.1" r="9.5" fill="#EE6A66"/>
<circle cx="1810.0" cy="960.0" r="9.5" fill="#7F7F7F"/>
<circle cx="1703.4" cy="965.6" r="9.5" fill="#EE6A66"/>
<circle cx="1766.7" cy="948.3" r="9.5" fill="#7F7F7F"/>
<circle cx="1520.3" cy="984.0" r="9.5" fill="#7F7F7F"/>
<circle cx="1488.9" cy="969.0" r="9.5" fill="#7F7F7F"/>
<circle cx="1473.2" cy="993.0" r="9.5" fill="#7F7F7F"/>
<circle cx="1572.6" cy="975.6" r="9.5" fill="#7F7F7F"/>
<circle cx="1468.0" cy="973.0" r="9.5" fill="#EE6A66"/>
<circle cx="1718.1" cy="962.2" r="9.5" fill="#7F7F7F"/>
<circle cx="1641.9" cy="953.1" r="9.5" fill="#7F7F7F"/>
<circle cx="1794.1" cy="960.0" r="9.5" fill="#7F7F7F"/>
<circle cx="1555.1" cy="963.0" r="9.5" fill="#7F7F7F"/>
<circle cx="1619.9" cy="949.5" r="9.5" fill="#7F7F7F"/>
<circle cx="1754.6" cy="961.7" r="9.5" fill="#EE6A66"/>
<circle cx="1623.5" cy="961.4" r="9.5" fill="#EE6A66"/>
<circle cx="1630.2" cy="969.5" r="9.5" fill="#EE6A66"/>
<circle cx="1799.4" cy="960.0" r="9.5" fill="#EE6A66"/>
<circle cx="1509.8" cy="986.0" r="9.5" fill="#7F7F7F"/>
<circle cx="1588.0" cy="966.6" r="9.5" fill="#7F7F7F"/>
<circle cx="1510.4" cy="982.2" r="9.5" fill="#7F7F7F"/>
<circle cx="1778.3" cy="935.7" r="9.5" fill="#EE6A66"/>
<circle cx="1542.1" cy="971.2" r="9.5" fill="#EE6A66"/>
<circle cx="1478.5" cy="992.0" r="9.5" fill="#7F7F7F"/>
<circle cx="1755.9" cy="960.9" r="9.5" fill="#7F7F7F"/>
<circle cx="1631.6" cy="969.1" r="9.5" fill="#7F7F7F"/>
<circle cx="1644.5" cy="953.2" r="9.5" fill="#7F7F7F"/>
<circle cx="1700.8" cy="946.6" r="9.5" fill="#EE6A66"/>
<circle cx="1541.2" cy="980.2" r="9.5" fill="#EE6A66"/>
<circle cx="1492.6" cy="989.0" r="9.5" fill="#7F7F7F"/>
<circle cx="1790.4" cy="942.8" r="9.5" fill="#7F7F7F"/>
<circle cx="1791.0" cy="956.7" r="9.5" fill="#7F7F7F"/>
<circle cx="1729.5" cy="939.6" r="9.5" fill="#EE6A66"/>
<circle cx="1769.4" cy="936.8" r="9.5" fill="#EE6A66"/>
<circle cx="1767.5" cy="960.7" r="9.5" fill="#EE6A66"/>
<circle cx="1655.9" cy="954.9" r="9.5" fill="#EE6A66"/>
<circle cx="1661.8" cy="961.3" r="9.5" fill="#7F7F7F"/>
<circle cx="1471.8" cy="974.0" r="9.5" fill="#7F7F7F"/>
<circle cx="1763.4" cy="937.8" r="9.5" fill="#7F7F7F"/>
<circle cx="1624.0" cy="962.8" r="9.5" fill="#EE6A66"/>
<circle cx="1692.9" cy="941.8" r="9.5" fill="#EE6A66"/>
<circle cx="1712.6" cy="948.9" r="9.5" fill="#7F7F7F"/>
<circle cx="1546.5" cy="958.5" r="9.5" fill="#EE6A66"/>
<circle cx="1514.9" cy="984.6" r="9.5" fill="#7F7F7F"/>
<circle cx="1677.2" cy="966.8" r="9.5" fill="#7F7F7F"/>
<circle cx="1520.3" cy="963.0" r="9.5" fill="#EE6A66"/>
<circle cx="1724.3" cy="964.7" r="9.5" fill="#EE6A66"/>
<circle cx="1476.5" cy="984.9" r="9.5" fill="#7F7F7F"/>
<circle cx="1609.2" cy="970.7" r="9.5" fill="#7F7F7F"/>
<circle cx="1535.5" cy="961.0" r="9.5" fill="#EE6A66"/>
<circle cx="1709.9" cy="963.0" r="9.5" fill="#EE6A66"/>
<circle cx="1466.8" cy="985.2" r="9.5" fill="#7F7F7F"/>
<circle cx="1722.5" cy="946.3" r="9.5" fill="#EE6A66"/>
<circle cx="1795.7" cy="939.4" r="9.5" fill="#7F7F7F"/>
<circle cx="1457.1" cy="997.1" r="9.5" fill="#7F7F7F"/>
<circle cx="1682.1" cy="961.3" r="9.5" fill="#EE6A66"/>
<circle cx="1672.0" cy="943.0" r="9.5" fill="#7F7F7F"/>
<circle cx="1651.1" cy="945.2" r="9.5" fill="#EE6A66"/>
<circle cx="1579.5" cy="956.2" r="9.5" fill="#7F7F7F"/>
<circle cx="1440.9" cy="981.2" r="9.5" fill="#7F7F7F"/>
<circle cx="1698.4" cy="958.2" r="9.5" fill="#EE6A66"/>
<circle cx="1440.0" cy="1001.3" r="9.5" fill="#EE6A66"/>
<circle cx="1509.8" cy="965.0" r="9.5" fill="#7F7F7F"/>
<circle cx="1708.6" cy="940.8" r="9.5" fill="#7F7F7F"/>
<circle cx="1737.8" cy="951.0" r="9.5" fill="#EE6A66"/>
<circle cx="1722.2" cy="962.3" r="9.5" fill="#7F7F7F"/>
<circle cx="1567.8" cy="956.5" r="9.5" fill="#7F7F7F"/>
<circle cx="1786.1" cy="940.6" r="9.5" fill="#7F7F7F"/>
<circle cx="1513.4" cy="971.8" r="9.5" fill="#EE6A66"/>
<circle cx="1678.6" cy="964.5" r="9.5" fill="#7F7F7F"/>
<circle cx="1536.0" cy="960.0" r="9.5" fill="#7F7F7F"/>
<circle cx="1546.5" cy="979.5" r="9.5" fill="#7F7F7F"/>
<circle cx="1553.5" cy="961.3" r="9.5" fill="#7F7F7F"/>
<circle cx="1444.2" cy="997.3" r="9.5" fill="#7F7F7F"/>
<circle cx="1772.3" cy="956.7" r="9.5" fill="#EE6A66"/>
<circle cx="1730.3" cy="958.3" r="9.5" fill="#7F7F7F"/>
<circle cx="1666.8" cy="943.5" r="9.5" fill="#7F7F7F"/>
<circle cx="1763.6" cy="943.9" r="9.5" fill="#7F7F7F"/>
<circle cx="1658.7" cy="946.7" r="9.5" fill="#7F7F7F"/>
<circle cx="1624.8" cy="951.1" r="9.5" fill="#EE6A66"/>
<circle cx="1790.2" cy="948.8" r="9.5" fill="#7F7F7F"/>
<circle cx="1598.8" cy="971.8" r="9.5" fill="#7F7F7F"/>
<circle cx="1451.7" cy="998.7" r="9.5" fill="#EE6A66"/>
<circle cx="1577.9" cy="963.1" r="9.5" fill="#EE6A66"/>
<circle cx="1678.6" cy="953.6" r="9.5" fill="#7F7F7F"/>
<circle cx="1583.1" cy="953.1" r="9.5" fill="#EE6A66"/>
<circle cx="1529.6" cy="968.5" r="9.5" fill="#EE6A66"/>
<circle cx="1772.2" cy="952.5" r="9.5" fill="#EE6A66"/>
<circle cx="1734.8" cy="964.2" r="9.5" fill="#7F7F7F"/>
<circle cx="1756.5" cy="937.5" r="9.5" fill="#7F7F7F"/>
<circle cx="1430.0" cy="999.2" r="9.5" fill="#7F7F7F"/>
<circle cx="1588.3" cy="973.3" r="9.5" fill="#7F7F7F"/>
<circle cx="1770.4" cy="956.1" r="9.5" fill="#EE6A66"/>
<circle cx="1713.8" cy="965.2" r="9.5" fill="#7F7F7F"/>
<circle cx="1670.2" cy="963.5" r="9.5" fill="#7F7F7F"/>
<circle cx="1645.8" cy="945.7" r="9.5" fill="#7F7F7F"/>
<circle cx="1504.6" cy="966.0" r="9.5" fill="#7F7F7F"/>
<circle cx="1782.6" cy="948.8" r="9.5" fill="#7F7F7F"/>
<circle cx="1712.7" cy="953.1" r="9.5" fill="#7F7F7F"/>
<circle cx="1773.0" cy="960.0" r="9.5" fill="#EE6A66"/>
<circle cx="1661.5" cy="944.1" r="9.5" fill="#7F7F7F"/>
<circle cx="1729.2" cy="956.0" r="9.5" fill="#7F7F7F"/>
<circle cx="1462.6" cy="995.6" r="9.5" fill="#7F7F7F"/>
<circle cx="1606.4" cy="959.9" r="9.5" fill="#7F7F7F"/>
<circle cx="1682.5" cy="942.4" r="9.5" fill="#7F7F7F"/>
<circle cx="1719.1" cy="940.2" r="9.5" fill="#EE6A66"/>
<circle cx="1651.4" cy="949.4" r="9.5" fill="#EE6A66"/>
<circle cx="1710.3" cy="941.9" r="9.5" fill="#7F7F7F"/>
<circle cx="1804.7" cy="934.3" r="9.5" fill="#7F7F7F"/>
<circle cx="1488.9" cy="990.0" r="9.5" fill="#EE6A66"/>
<circle cx="1678.6" cy="944.9" r="9.5" fill="#7F7F7F"/>
<circle cx="1692.0" cy="945.0" r="9.5" fill="#7F7F7F"/>
<circle cx="1505.0" cy="983.9" r="9.5" fill="#EE6A66"/>
<circle cx="1718.6" cy="949.5" r="9.5" fill="#EE6A66"/>
<circle cx="1759.9" cy="951.5" r="9.5" fill="#7F7F7F"/>
<circle cx="1600.6" cy="961.2" r="9.5" fill="#7F7F7F"/>
<circle cx="1698.2" cy="941.5" r="9.5" fill="#EE6A66"/>
<circle cx="1566.0" cy="970.1" r="9.5" fill="#7F7F7F"/>
<circle cx="1622.8" cy="966.0" r="9.5" fill="#7F7F7F"/>
<circle cx="1614.3" cy="963.6" r="9.5" fill="#7F7F7F"/>
<circle cx="1525.5" cy="983.0" r="9.5" fill="#7F7F7F"/>
<circle cx="1677.1" cy="954.9" r="9.5" fill="#7F7F7F"/>
<circle cx="1457.7" cy="996.9" r="9.5" fill="#7F7F7F"/>
<circle cx="1598.8" cy="950.8" r="9.5" fill="#7F7F7F"/>
<circle cx="1528.4" cy="965.2" r="9.5" fill="#7F7F7F"/>
<circle cx="1468.0" cy="994.0" r="9.5" fill="#7F7F7F"/>
<circle cx="1515.1" cy="964.0" r="9.5" fill="#7F7F7F"/>
<circle cx="1789.4" cy="936.3" r="9.5" fill="#EE6A66"/>
<circle cx="1434.6" cy="981.7" r="9.5" fill="#7F7F7F"/>
<circle cx="1551.7" cy="957.7" r="9.5" fill="#7F7F7F"/>
<circle cx="1787.3" cy="947.9" r="9.5" fill="#EE6A66"/>
<circle cx="1745.5" cy="963.3" r="9.5" fill="#EE6A66"/>
<circle cx="1562.2" cy="977.2" r="9.5" fill="#EE6A66"/>
<circle cx="1589.9" cy="961.1" r="9.5" fill="#7F7F7F"/>
<circle cx="1751.0" cy="962.7" r="9.5" fill="#EE6A66"/>
<circle cx="1458.0" cy="996.7" r="9.5" fill="#7F7F7F"/>
<circle cx="1708.6" cy="965.4" r="9.5" fill="#EE6A66"/>
<circle cx="1683.9" cy="946.2" r="9.5" fill="#EE6A66"/>
<circle cx="1640.6" cy="968.8" r="9.5" fill="#EE6A66"/>
<circle cx="1515.4" cy="977.3" r="9.5" fill="#7F7F7F"/>
<circle cx="1583.1" cy="974.1" r="9.5" fill="#7F7F7F"/>
<circle cx="1799.5" cy="936.9" r="9.5" fill="#EE6A66"/>
<circle cx="1682.5" cy="966.5" r="9.5" fill="#EE6A66"/>
<circle cx="1645.8" cy="968.5" r="9.5" fill="#7F7F7F"/>
<circle cx="1577.6" cy="968.2" r="9.5" fill="#7F7F7F"/>
<circle cx="1700.6" cy="949.4" r="9.5" fill="#EE6A66"/>
<circle cx="1451.7" cy="976.9" r="9.5" fill="#7F7F7F"/>
<circle cx="1482.7" cy="990.9" r="9.5" fill="#EE6A66"/>
<circle cx="1604.0" cy="971.0" r="9.5" fill="#EE6A66"/>
<circle cx="1734.8" cy="939.3" r="9.5" fill="#7F7F7F"/>
<circle cx="1640.6" cy="946.2" r="9.5" fill="#7F7F7F"/>
<circle cx="1710.2" cy="958.3" r="9.5" fill="#7F7F7F"/>
<circle cx="1750.7" cy="938.1" r="9.5" fill="#7F7F7F"/>
<circle cx="1572.2" cy="962.2" r="9.5" fill="#7F7F7F"/>
<circle cx="1436.0" cy="984.9" r="9.5" fill="#7F7F7F"/>
<circle cx="1472.1" cy="979.5" r="9.5" fill="#7F7F7F"/>
<circle cx="1619.7" cy="970.1" r="9.5" fill="#7F7F7F"/>
<circle cx="1753.5" cy="945.3" r="9.5" fill="#7F7F7F"/>
<circle cx="1773.0" cy="936.0" r="9.5" fill="#7F7F7F"/>
<circle cx="1702.8" cy="944.3" r="9.5" fill="#7F7F7F"/>
<circle cx="1453.4" cy="984.7" r="9.5" fill="#7F7F7F"/>
<circle cx="1717.3" cy="941.5" r="9.5" fill="#7F7F7F"/>
<circle cx="1798.5" cy="943.5" r="9.5" fill="#7F7F7F"/>
<circle cx="1484.3" cy="970.7" r="9.5" fill="#7F7F7F"/>
<circle cx="1751.0" cy="938.0" r="9.5" fill="#7F7F7F"/>
<circle cx="1778.3" cy="960.0" r="9.5" fill="#7F7F7F"/>
<circle cx="1609.2" cy="949.5" r="9.5" fill="#7F7F7F"/>
<circle cx="1525.5" cy="962.0" r="9.5" fill="#7F7F7F"/>
<circle cx="1698.2" cy="965.8" r="9.5" fill="#7F7F7F"/>
<circle cx="1615.7" cy="954.9" r="9.5" fill="#7F7F7F"/>
<circle cx="1630.2" cy="957.0" r="9.5" fill="#7F7F7F"/>
<circle cx="1624.9" cy="947.8" r="9.5" fill="#7F7F7F"/>
<circle cx="1793.1" cy="955.1" r="9.5" fill="#7F7F7F"/>
<circle cx="1572.6" cy="954.6" r="9.5" fill="#7F7F7F"/>
<circle cx="1562.7" cy="970.8" r="9.5" fill="#7F7F7F"/>
<circle cx="1530.8" cy="982.0" r="9.5" fill="#7F7F7F"/>
<circle cx="1740.0" cy="939.0" r="9.5" fill="#7F7F7F"/>
<circle cx="1504.8" cy="985.4" r="9.5" fill="#7F7F7F"/>
<circle cx="1656.3" cy="944.6" r="9.5" fill="#7F7F7F"/>
<circle cx="1576.5" cy="959.5" r="9.5" fill="#7F7F7F"/>
<circle cx="1538.7" cy="977.5" r="9.5" fill="#7F7F7F"/>
<circle cx="1809.5" cy="944.8" r="9.5" fill="#7F7F7F"/>
<circle cx="1733.1" cy="946.5" r="9.5" fill="#7F7F7F"/>
<circle cx="1480.9" cy="975.7" r="9.5" fill="#7F7F7F"/>
<circle cx="1606.2" cy="961.7" r="9.5" fill="#7F7F7F"/>
<circle cx="1735.1" cy="941.3" r="9.5" fill="#7F7F7F"/>
<circle cx="1506.7" cy="976.7" r="9.5" fill="#7F7F7F"/>
<circle cx="1494.2" cy="989.0" r="9.5" fill="#7F7F7F"/>
<circle cx="1592.7" cy="966.3" r="9.5" fill="#7F7F7F"/>
<circle cx="1556.9" cy="956.9" r="9.5" fill="#7F7F7F"/>
<circle cx="1473.2" cy="972.0" r="9.5" fill="#7F7F7F"/>
<circle cx="1478.5" cy="971.0" r="9.5" fill="#7F7F7F"/>
<circle cx="1801.8" cy="951.9" r="9.5" fill="#7F7F7F"/>
<circle cx="1584.1" cy="960.7" r="9.5" fill="#7F7F7F"/>
<circle cx="1462.6" cy="974.3" r="9.5" fill="#7F7F7F"/>
<circle cx="1759.9" cy="957.7" r="9.5" fill="#7F7F7F"/>
<circle cx="1457.1" cy="975.6" r="9.5" fill="#7F7F7F"/>
<circle cx="1756.5" cy="962.0" r="9.5" fill="#7F7F7F"/>
<circle cx="1753.1" cy="953.0" r="9.5" fill="#7F7F7F"/>
<circle cx="1640.0" cy="963.6" r="9.5" fill="#7F7F7F"/>
<circle cx="1677.2" cy="942.7" r="9.5" fill="#7F7F7F"/>
<circle cx="1646.7" cy="958.0" r="9.5" fill="#7F7F7F"/>
<circle cx="1430.0" cy="993.5" r="9.5" fill="#7F7F7F"/>
<circle cx="1654.5" cy="967.3" r="9.5" fill="#7F7F7F"/>
<circle cx="1536.0" cy="981.0" r="9.5" fill="#7F7F7F"/>
<circle cx="1594.8" cy="967.8" r="9.5" fill="#7F7F7F"/>
<circle cx="1635.2" cy="949.8" r="9.5" fill="#7F7F7F"/>
<circle cx="1499.4" cy="967.0" r="9.5" fill="#7F7F7F"/>
<circle cx="1743.3" cy="961.6" r="9.5" fill="#7F7F7F"/>
<circle cx="1483.7" cy="970.0" r="9.5" fill="#7F7F7F"/>
<circle cx="1762.0" cy="961.3" r="9.5" fill="#7F7F7F"/>
<circle cx="1430.0" cy="982.0" r="9.5" fill="#7F7F7F"/>
<circle cx="1550.5" cy="972.8" r="9.5" fill="#7F7F7F"/>
<circle cx="1550.6" cy="975.0" r="9.5" fill="#7F7F7F"/>
<circle cx="1762.0" cy="937.0" r="9.5" fill="#7F7F7F"/>
<circle cx="1593.5" cy="972.5" r="9.5" fill="#7F7F7F"/>
<circle cx="1567.0" cy="967.1" r="9.5" fill="#7F7F7F"/>
<circle cx="1666.8" cy="967.3" r="9.5" fill="#7F7F7F"/>
<circle cx="1615.5" cy="967.3" r="9.5" fill="#7F7F7F"/>
<circle cx="1446.3" cy="978.1" r="9.5" fill="#7F7F7F"/>
<circle cx="1639.7" cy="968.0" r="9.5" fill="#7F7F7F"/>
<circle cx="1910.0" cy="888.9" r="9.5" fill="#7F7F7F"/>
<circle cx="1836.0" cy="961.6" r="9.5" fill="#EE6A66"/>
<circle cx="1994.9" cy="917.4" r="9.5" fill="#7F7F7F"/>
<circle cx="1995.9" cy="950.5" r="9.5" fill="#7F7F7F"/>
<circle cx="1984.4" cy="955.6" r="9.5" fill="#EE6A66"/>
<circle cx="1856.2" cy="904.1" r="9.5" fill="#7F7F7F"/>
<circle cx="1889.6" cy="893.5" r="9.5" fill="#7F7F7F"/>
<circle cx="1933.3" cy="931.6" r="9.5" fill="#7F7F7F"/>
<circle cx="1928.6" cy="931.4" r="9.5" fill="#7F7F7F"/>
<circle cx="2049.0" cy="907.3" r="9.5" fill="#7F7F7F"/>
<circle cx="1858.7" cy="903.3" r="9.5" fill="#EE6A66"/>
<circle cx="2024.7" cy="899.0" r="9.5" fill="#7F7F7F"/>
<circle cx="1906.3" cy="903.6" r="9.5" fill="#7F7F7F"/>
<circle cx="2000.7" cy="911.9" r="9.5" fill="#7F7F7F"/>
<circle cx="1994.2" cy="917.6" r="9.5" fill="#7F7F7F"/>
<circle cx="1863.8" cy="921.2" r="9.5" fill="#7F7F7F"/>
<circle cx="2049.0" cy="896.7" r="9.5" fill="#7F7F7F"/>
<circle cx="1808.0" cy="930.0" r="9.5" fill="#7F7F7F"/>
<circle cx="1835.3" cy="951.8" r="9.5" fill="#7F7F7F"/>
<circle cx="1910.5" cy="956.0" r="9.5" fill="#7F7F7F"/>
<circle cx="1833.8" cy="887.1" r="9.5" fill="#7F7F7F"/>
<circle cx="2039.4" cy="942.0" r="9.5" fill="#7F7F7F"/>
<circle cx="1895.8" cy="912.1" r="9.5" fill="#7F7F7F"/>
<circle cx="2009.8" cy="901.5" r="9.5" fill="#7F7F7F"/>
<circle cx="1956.5" cy="891.8" r="9.5" fill="#7F7F7F"/>
<circle cx="1853.4" cy="907.2" r="9.5" fill="#EE6A66"/>
<circle cx="1835.8" cy="890.7" r="9.5" fill="#7F7F7F"/>
<circle cx="1863.5" cy="893.7" r="9.5" fill="#7F7F7F"/>
<circle cx="1927.5" cy="898.7" r="9.5" fill="#7F7F7F"/>
<circle cx="1814.7" cy="902.3" r="9.5" fill="#7F7F7F"/>
<circle cx="1991.9" cy="887.0" r="9.5" fill="#7F7F7F"/>
<circle cx="1904.7" cy="926.7" r="9.5" fill="#7F7F7F"/>
<circle cx="1965.2" cy="944.0" r="9.5" fill="#7F7F7F"/>
<circle cx="2038.0" cy="888.1" r="9.5" fill="#7F7F7F"/>
<circle cx="1871.8" cy="922.1" r="9.5" fill="#EE6A66"/>
<circle cx="1864.1" cy="899.7" r="9.5" fill="#7F7F7F"/>
<circle cx="1977.8" cy="907.4" r="9.5" fill="#EE6A66"/>
<circle cx="1859.0" cy="935.2" r="9.5" fill="#7F7F7F"/>
<circle cx="2045.0" cy="955.0" r="9.5" fill="#7F7F7F"/>
<circle cx="1970.9" cy="923.3" r="9.5" fill="#EE6A66"/>
<circle cx="1971.1" cy="887.4" r="9.5" fill="#7F7F7F"/>
<circle cx="1943.7" cy="930.7" r="9.5" fill="#7F7F7F"/>
<circle cx="1953.7" cy="936.1" r="9.5" fill="#7F7F7F"/>
<circle cx="1833.1" cy="924.1" r="9.5" fill="#7F7F7F"/>
<circle cx="2029.8" cy="955.2" r="9.5" fill="#7F7F7F"/>
<circle cx="1885.5" cy="932.7" r="9.5" fill="#7F7F7F"/>
<circle cx="1994.7" cy="888.0" r="9.5" fill="#7F7F7F"/>
<circle cx="1983.2" cy="890.3" r="9.5" fill="#7F7F7F"/>
<circle cx="2025.9" cy="919.4" r="9.5" fill="#7F7F7F"/>
<circle cx="2008.1" cy="928.8" r="9.5" fill="#7F7F7F"/>
<circle cx="1940.6" cy="905.7" r="9.5" fill="#7F7F7F"/>
<circle cx="1872.1" cy="960.0" r="9.5" fill="#7F7F7F"/>
<circle cx="1895.2" cy="941.9" r="9.5" fill="#7F7F7F"/>
<circle cx="1899.0" cy="960.0" r="9.5" fill="#7F7F7F"/>
<circle cx="2001.9" cy="903.4" r="9.5" fill="#7F7F7F"/>
<circle cx="1976.7" cy="942.4" r="9.5" fill="#7F7F7F"/>
<circle cx="1901.5" cy="923.3" r="9.5" fill="#7F7F7F"/>
<circle cx="2038.9" cy="930.4" r="9.5" fill="#EE6A66"/>
<circle cx="1864.1" cy="935.9" r="9.5" fill="#7F7F7F"/>
<circle cx="1905.0" cy="889.0" r="9.5" fill="#EE6A66"/>
<circle cx="2043.8" cy="886.1" r="9.5" fill="#7F7F7F"/>
<circle cx="1899.4" cy="911.7" r="9.5" fill="#7F7F7F"/>
<circle cx="1962.8" cy="900.8" r="9.5" fill="#7F7F7F"/>
<circle cx="2046.1" cy="904.3" r="9.5" fill="#EE6A66"/>
<circle cx="1988.4" cy="954.2" r="9.5" fill="#7F7F7F"/>
<circle cx="1845.9" cy="954.3" r="9.5" fill="#7F7F7F"/>
<circle cx="1808.0" cy="890.0" r="9.5" fill="#7F7F7F"/>
<circle cx="1836.0" cy="912.1" r="9.5" fill="#7F7F7F"/>
<circle cx="1995.3" cy="925.9" r="9.5" fill="#7F7F7F"/>
<circle cx="1839.4" cy="918.0" r="9.5" fill="#7F7F7F"/>
<circle cx="2049.0" cy="902.0" r="9.5" fill="#7F7F7F"/>
<circle cx="2044.3" cy="889.9" r="9.5" fill="#EE6A66"/>
<circle cx="1808.0" cy="935.0" r="9.5" fill="#7F7F7F"/>
<circle cx="1847.5" cy="946.8" r="9.5" fill="#7F7F7F"/>
<circle cx="1989.4" cy="955.6" r="9.5" fill="#7F7F7F"/>
<circle cx="2028.3" cy="928.5" r="9.5" fill="#7F7F7F"/>
<circle cx="1921.5" cy="925.4" r="9.5" fill="#7F7F7F"/>
<circle cx="1911.3" cy="931.9" r="9.5" fill="#7F7F7F"/>
<circle cx="1945.2" cy="887.9" r="9.5" fill="#7F7F7F"/>
<circle cx="1938.1" cy="893.8" r="9.5" fill="#7F7F7F"/>
<circle cx="1812.4" cy="917.1" r="9.5" fill="#7F7F7F"/>
<circle cx="1986.3" cy="930.2" r="9.5" fill="#EE6A66"/>
<circle cx="1849.4" cy="952.8" r="9.5" fill="#7F7F7F"/>
<circle cx="1857.1" cy="912.7" r="9.5" fill="#7F7F7F"/>
<circle cx="1910.1" cy="952.7" r="9.5" fill="#7F7F7F"/>
<circle cx="1867.8" cy="928.3" r="9.5" fill="#7F7F7F"/>
<circle cx="1975.6" cy="912.3" r="9.5" fill="#7F7F7F"/>
<circle cx="2044.3" cy="924.3" r="9.5" fill="#7F7F7F"/>
<circle cx="2001.7" cy="935.7" r="9.5" fill="#7F7F7F"/>
<circle cx="1904.1" cy="948.8" r="9.5" fill="#7F7F7F"/>
<circle cx="2022.6" cy="890.1" r="9.5" fill="#EE6A66"/>
<circle cx="1918.7" cy="941.0" r="9.5" fill="#7F7F7F"/>
<circle cx="1808.0" cy="885.0" r="9.5" fill="#7F7F7F"/>
<circle cx="1849.2" cy="959.2" r="9.5" fill="#7F7F7F"/>
<circle cx="1817.7" cy="906.1" r="9.5" fill="#EE6A66"/>
<circle cx="2012.9" cy="944.1" r="9.5" fill="#7F7F7F"/>
<circle cx="1992.5" cy="931.4" r="9.5" fill="#7F7F7F"/>
<circle cx="1825.2" cy="961.5" r="9.5" fill="#7F7F7F"/>
<circle cx="1931.0" cy="914.5" r="9.5" fill="#EE6A66"/>
<circle cx="1978.6" cy="895.1" r="9.5" fill="#EE6A66"/>
<circle cx="1907.7" cy="954.3" r="9.5" fill="#EE6A66"/>
<circle cx="1941.6" cy="891.5" r="9.5" fill="#7F7F7F"/>
<circle cx="1924.8" cy="912.3" r="9.5" fill="#7F7F7F"/>
<circle cx="1925.4" cy="907.9" r="9.5" fill="#7F7F7F"/>
<circle cx="1978.4" cy="930.2" r="9.5" fill="#7F7F7F"/>
<circle cx="1863.2" cy="942.9" r="9.5" fill="#7F7F7F"/>
<circle cx="2009.6" cy="955.4" r="9.5" fill="#7F7F7F"/>
<circle cx="1926.9" cy="941.9" r="9.5" fill="#7F7F7F"/>
<circle cx="1984.2" cy="910.9" r="9.5" fill="#EE6A66"/>
<circle cx="2003.4" cy="929.4" r="9.5" fill="#7F7F7F"/>
<circle cx="1896.0" cy="959.0" r="9.5" fill="#7F7F7F"/>
<circle cx="1883.6" cy="954.2" r="9.5" fill="#7F7F7F"/>
<circle cx="2015.0" cy="888.6" r="9.5" fill="#EE6A66"/>
<circle cx="1901.6" cy="944.3" r="9.5" fill="#7F7F7F"/>
<circle cx="1932.2" cy="890.4" r="9.5" fill="#7F7F7F"/>
<circle cx="1879.5" cy="898.4" r="9.5" fill="#7F7F7F"/>
<circle cx="1940.1" cy="927.2" r="9.5" fill="#7F7F7F"/>
<circle cx="1899.2" cy="922.0" r="9.5" fill="#7F7F7F"/>
<circle cx="1823.8" cy="946.7" r="9.5" fill="#7F7F7F"/>
<circle cx="1930.0" cy="888.3" r="9.5" fill="#EE6A66"/>
<circle cx="1844.8" cy="894.7" r="9.5" fill="#7F7F7F"/>
<circle cx="1872.1" cy="911.8" r="9.5" fill="#7F7F7F"/>
<circle cx="1912.8" cy="914.8" r="9.5" fill="#7F7F7F"/>
<circle cx="2009.8" cy="932.4" r="9.5" fill="#7F7F7F"/>
<circle cx="2049.0" cy="928.7" r="9.5" fill="#7F7F7F"/>
<circle cx="1950.9" cy="935.8" r="9.5" fill="#7F7F7F"/>
<circle cx="1808.0" cy="900.0" r="9.5" fill="#EE6A66"/>
<circle cx="1959.8" cy="931.1" r="9.5" fill="#EE6A66"/>
<circle cx="1842.6" cy="930.9" r="9.5" fill="#7F7F7F"/>
<circle cx="1917.2" cy="952.9" r="9.5" fill="#7F7F7F"/>
<circle cx="1955.3" cy="917.3" r="9.5" fill="#7F7F7F"/>
<circle cx="1870.7" cy="890.7" r="9.5" fill="#7F7F7F"/>
<circle cx="1897.0" cy="924.9" r="9.5" fill="#7F7F7F"/>
<circle cx="1936.2" cy="905.8" r="9.5" fill="#7F7F7F"/>
<circle cx="2040.3" cy="942.0" r="9.5" fill="#7F7F7F"/>
<circle cx="1808.0" cy="955.0" r="9.5" fill="#7F7F7F"/>
<circle cx="1880.6" cy="926.8" r="9.5" fill="#7F7F7F"/>
<circle cx="2014.7" cy="955.3" r="9.5" fill="#7F7F7F"/>
<circle cx="2049.0" cy="918.0" r="9.5" fill="#7F7F7F"/>
<circle cx="1988.3" cy="922.3" r="9.5" fill="#EE6A66"/>
<circle cx="2031.7" cy="937.4" r="9.5" fill="#7F7F7F"/>
<circle cx="1941.8" cy="915.1" r="9.5" fill="#EE6A66"/>
<circle cx="1808.0" cy="960.0" r="9.5" fill="#7F7F7F"/>
<circle cx="1946.6" cy="923.7" r="9.5" fill="#EE6A66"/>
<circle cx="1969.4" cy="937.1" r="9.5" fill="#7F7F7F"/>
<circle cx="1930.0" cy="948.0" r="9.5" fill="#7F7F7F"/>
<circle cx="1870.3" cy="900.3" r="9.5" fill="#7F7F7F"/>
<circle cx="1981.0" cy="916.7" r="9.5" fill="#7F7F7F"/>
<circle cx="1828.7" cy="943.0" r="9.5" fill="#7F7F7F"/>
<circle cx="2029.0" cy="893.6" r="9.5" fill="#7F7F7F"/>
<circle cx="1821.1" cy="960.4" r="9.5" fill="#EE6A66"/>
<circle cx="2014.7" cy="940.4" r="9.5" fill="#EE6A66"/>
<circle cx="1922.8" cy="921.2" r="9.5" fill="#7F7F7F"/>
<circle cx="2003.5" cy="896.9" r="9.5" fill="#7F7F7F"/>
<circle cx="1863.5" cy="913.0" r="9.5" fill="#7F7F7F"/>
<circle cx="1808.0" cy="940.0" r="9.5" fill="#7F7F7F"/>
<circle cx="2034.9" cy="955.1" r="9.5" fill="#7F7F7F"/>
<circle cx="1808.0" cy="915.0" r="9.5" fill="#EE6A66"/>
<circle cx="1873.1" cy="933.4" r="9.5" fill="#7F7F7F"/>
<circle cx="1813.3" cy="929.9" r="9.5" fill="#EE6A66"/>
<circle cx="1868.2" cy="944.5" r="9.5" fill="#7F7F7F"/>
<circle cx="1909.7" cy="915.4" r="9.5" fill="#EE6A66"/>
<circle cx="1940.8" cy="941.8" r="9.5" fill="#7F7F7F"/>
<circle cx="1859.7" cy="889.2" r="9.5" fill="#7F7F7F"/>
<circle cx="1841.6" cy="935.7" r="9.5" fill="#7F7F7F"/>
<circle cx="2035.1" cy="902.6" r="9.5" fill="#7F7F7F"/>
<circle cx="1844.7" cy="943.2" r="9.5" fill="#EE6A66"/>
<circle cx="1824.6" cy="938.7" r="9.5" fill="#7F7F7F"/>
<circle cx="2007.5" cy="886.8" r="9.5" fill="#EE6A66"/>
<circle cx="1989.6" cy="903.1" r="9.5" fill="#7F7F7F"/>
<circle cx="2033.4" cy="886.3" r="9.5" fill="#7F7F7F"/>
<circle cx="1821.6" cy="896.9" r="9.5" fill="#7F7F7F"/>
<circle cx="1964.2" cy="920.1" r="9.5" fill="#EE6A66"/>
<circle cx="1864.8" cy="889.6" r="9.5" fill="#EE6A66"/>
<circle cx="1853.3" cy="923.7" r="9.5" fill="#7F7F7F"/>
<circle cx="1808.0" cy="950.0" r="9.5" fill="#7F7F7F"/>
<circle cx="2007.2" cy="947.9" r="9.5" fill="#7F7F7F"/>
<circle cx="1888.2" cy="960.0" r="9.5" fill="#7F7F7F"/>
<circle cx="1839.0" cy="887.5" r="9.5" fill="#7F7F7F"/>
<circle cx="1818.2" cy="928.3" r="9.5" fill="#EE6A66"/>
<circle cx="2042.6" cy="933.9" r="9.5" fill="#7F7F7F"/>
<circle cx="2049.0" cy="934.0" r="9.5" fill="#7F7F7F"/>
<circle cx="1956.5" cy="899.7" r="9.5" fill="#7F7F7F"/>
<circle cx="1952.6" cy="892.3" r="9.5" fill="#7F7F7F"/>
<circle cx="2003.3" cy="922.7" r="9.5" fill="#7F7F7F"/>
<circle cx="1808.4" cy="892.4" r="9.5" fill="#7F7F7F"/>
<circle cx="1927.5" cy="950.1" r="9.5" fill="#7F7F7F"/>
<circle cx="1950.4" cy="887.8" r="9.5" fill="#7F7F7F"/>
<circle cx="1998.1" cy="944.8" r="9.5" fill="#7F7F7F"/>
<circle cx="1854.5" cy="888.8" r="9.5" fill="#7F7F7F"/>
<circle cx="2002.3" cy="886.9" r="9.5" fill="#7F7F7F"/>
<circle cx="1876.8" cy="904.0" r="9.5" fill="#7F7F7F"/>
<circle cx="1856.0" cy="960.0" r="9.5" fill="#7F7F7F"/>
<circle cx="2019.6" cy="948.4" r="9.5" fill="#7F7F7F"/>
<circle cx="1903.4" cy="895.1" r="9.5" fill="#7F7F7F"/>
<circle cx="1960.7" cy="909.1" r="9.5" fill="#EE6A66"/>
<circle cx="1972.8" cy="954.4" r="9.5" fill="#7F7F7F"/>
<circle cx="1844.8" cy="906.5" r="9.5" fill="#EE6A66"/>
<circle cx="1815.5" cy="917.5" r="9.5" fill="#EE6A66"/>
<circle cx="1963.7" cy="912.4" r="9.5" fill="#7F7F7F"/>
<circle cx="1916.1" cy="908.5" r="9.5" fill="#EE6A66"/>
<circle cx="1942.0" cy="905.9" r="9.5" fill="#7F7F7F"/>
<circle cx="2028.2" cy="947.2" r="9.5" fill="#7F7F7F"/>
<circle cx="1854.9" cy="948.1" r="9.5" fill="#7F7F7F"/>
<circle cx="1980.5" cy="927.0" r="9.5" fill="#7F7F7F"/>
<circle cx="1819.1" cy="935.3" r="9.5" fill="#7F7F7F"/>
<circle cx="1885.0" cy="889.6" r="9.5" fill="#EE6A66"/>
<circle cx="1888.5" cy="898.9" r="9.5" fill="#7F7F7F"/>
<circle cx="1823.2" cy="911.6" r="9.5" fill="#7F7F7F"/>
<circle cx="1819.4" cy="894.4" r="9.5" fill="#7F7F7F"/>
<circle cx="2027.7" cy="949.6" r="9.5" fill="#7F7F7F"/>
<circle cx="1950.7" cy="918.3" r="9.5" fill="#7F7F7F"/>
<circle cx="1930.1" cy="907.8" r="9.5" fill="#7F7F7F"/>
<circle cx="1881.5" cy="944.3" r="9.5" fill="#7F7F7F"/>
<circle cx="2014.4" cy="933.2" r="9.5" fill="#7F7F7F"/>
<circle cx="2049.0" cy="912.7" r="9.5" fill="#7F7F7F"/>
<circle cx="1986.4" cy="947.2" r="9.5" fill="#EE6A66"/>
<circle cx="1969.2" cy="955.8" r="9.5" fill="#EE6A66"/>
<circle cx="1965.9" cy="928.4" r="9.5" fill="#7F7F7F"/>
<circle cx="1919.3" cy="905.8" r="9.5" fill="#7F7F7F"/>
<circle cx="1966.7" cy="905.1" r="9.5" fill="#7F7F7F"/>
<circle cx="1939.5" cy="932.3" r="9.5" fill="#7F7F7F"/>
<circle cx="1922.0" cy="952.0" r="9.5" fill="#7F7F7F"/>
<circle cx="2044.2" cy="935.8" r="9.5" fill="#7F7F7F"/>
<circle cx="1831.0" cy="962.0" r="9.5" fill="#7F7F7F"/>
<circle cx="1913.3" cy="902.5" r="9.5" fill="#EE6A66"/>
<circle cx="1940.0" cy="937.3" r="9.5" fill="#EE6A66"/>
<circle cx="1990.5" cy="925.7" r="9.5" fill="#EE6A66"/>
<circle cx="1839.7" cy="920.3" r="9.5" fill="#7F7F7F"/>
<circle cx="1958.6" cy="927.1" r="9.5" fill="#7F7F7F"/>
<circle cx="2000.4" cy="938.9" r="9.5" fill="#7F7F7F"/>
<circle cx="1826.6" cy="921.1" r="9.5" fill="#EE6A66"/>
<circle cx="2016.1" cy="918.0" r="9.5" fill="#7F7F7F"/>
<circle cx="1808.0" cy="925.0" r="9.5" fill="#7F7F7F"/>
<circle cx="1968.3" cy="929.8" r="9.5" fill="#7F7F7F"/>
<circle cx="1867.5" cy="954.9" r="9.5" fill="#EE6A66"/>
<circle cx="1860.3" cy="910.2" r="9.5" fill="#7F7F7F"/>
<circle cx="1977.7" cy="935.6" r="9.5" fill="#7F7F7F"/>
<circle cx="2028.2" cy="886.4" r="9.5" fill="#7F7F7F"/>
<circle cx="2009.2" cy="899.1" r="9.5" fill="#7F7F7F"/>
<circle cx="2038.3" cy="926.3" r="9.5" fill="#7F7F7F"/>
<circle cx="1814.7" cy="912.1" r="9.5" fill="#7F7F7F"/>
<circle cx="1899.4" cy="901.6" r="9.5" fill="#7F7F7F"/>
<circle cx="1846.1" cy="900.1" r="9.5" fill="#7F7F7F"/>
<circle cx="1985.3" cy="895.0" r="9.5" fill="#EE6A66"/>
<circle cx="1904.8" cy="958.0" r="9.5" fill="#7F7F7F"/>
<circle cx="1865.9" cy="942.0" r="9.5" fill="#7F7F7F"/>
<circle cx="1874.6" cy="910.5" r="9.5" fill="#7F7F7F"/>
<circle cx="1835.3" cy="941.4" r="9.5" fill="#7F7F7F"/>
<circle cx="1946.4" cy="908.6" r="9.5" fill="#7F7F7F"/>
<circle cx="2020.3" cy="903.1" r="9.5" fill="#7F7F7F"/>
<circle cx="2012.7" cy="886.7" r="9.5" fill="#7F7F7F"/>
<circle cx="1822.3" cy="917.5" r="9.5" fill="#7F7F7F"/>
<circle cx="1844.3" cy="912.5" r="9.5" fill="#7F7F7F"/>
<circle cx="1829.6" cy="900.6" r="9.5" fill="#EE6A66"/>
<circle cx="1886.9" cy="956.2" r="9.5" fill="#7F7F7F"/>
<circle cx="1940.5" cy="952.8" r="9.5" fill="#EE6A66"/>
<circle cx="1940.0" cy="888.0" r="9.5" fill="#EE6A66"/>
<circle cx="1992.7" cy="906.5" r="9.5" fill="#7F7F7F"/>
<circle cx="1950.4" cy="940.4" r="9.5" fill="#7F7F7F"/>
<circle cx="2042.4" cy="886.1" r="9.5" fill="#7F7F7F"/>
<circle cx="2012.1" cy="898.1" r="9.5" fill="#EE6A66"/>
<circle cx="1975.4" cy="948.2" r="9.5" fill="#7F7F7F"/>
<circle cx="2041.4" cy="899.1" r="9.5" fill="#7F7F7F"/>
<circle cx="1882.9" cy="960.0" r="9.5" fill="#7F7F7F"/>
<circle cx="1865.9" cy="893.6" r="9.5" fill="#7F7F7F"/>
<circle cx="2024.6" cy="941.8" r="9.5" fill="#7F7F7F"/>
<circle cx="1920.0" cy="948.5" r="9.5" fill="#7F7F7F"/>
<circle cx="1893.3" cy="956.7" r="9.5" fill="#EE6A66"/>
<circle cx="1846.2" cy="917.7" r="9.5" fill="#7F7F7F"/>
<circle cx="2049.0" cy="886.0" r="9.5" fill="#7F7F7F"/>
<circle cx="1972.9" cy="892.9" r="9.5" fill="#7F7F7F"/>
<circle cx="2044.3" cy="949.3" r="9.5" fill="#7F7F7F"/>
<circle cx="1959.1" cy="955.9" r="9.5" fill="#7F7F7F"/>
<circle cx="1875.8" cy="941.5" r="9.5" fill="#7F7F7F"/>
<circle cx="2017.0" cy="914.7" r="9.5" fill="#7F7F7F"/>
<circle cx="2033.5" cy="899.0" r="9.5" fill="#EE6A66"/>
<circle cx="1904.4" cy="930.0" r="9.5" fill="#7F7F7F"/>
<circle cx="1953.1" cy="951.4" r="9.5" fill="#EE6A66"/>
<circle cx="1954.2" cy="922.4" r="9.5" fill="#7F7F7F"/>
<circle cx="2030.6" cy="918.2" r="9.5" fill="#7F7F7F"/>
<circle cx="1846.0" cy="960.8" r="9.5" fill="#7F7F7F"/>
<circle cx="1894.1" cy="918.6" r="9.5" fill="#EE6A66"/>
<circle cx="1938.2" cy="954.4" r="9.5" fill="#EE6A66"/>
<circle cx="1828.8" cy="955.2" r="9.5" fill="#7F7F7F"/>
<circle cx="1992.3" cy="950.7" r="9.5" fill="#7F7F7F"/>
<circle cx="1856.5" cy="894.6" r="9.5" fill="#7F7F7F"/>
<circle cx="1914.2" cy="921.9" r="9.5" fill="#7F7F7F"/>
<circle cx="2025.3" cy="940.2" r="9.5" fill="#7F7F7F"/>
<circle cx="1866.8" cy="960.0" r="9.5" fill="#EE6A66"/>
<circle cx="1861.4" cy="960.0" r="9.5" fill="#7F7F7F"/>
<circle cx="1820.1" cy="953.8" r="9.5" fill="#EE6A66"/>
<circle cx="2032.7" cy="950.2" r="9.5" fill="#EE6A66"/>
<circle cx="1843.5" cy="905.3" r="9.5" fill="#7F7F7F"/>
<circle cx="1893.6" cy="960.0" r="9.5" fill="#7F7F7F"/>
<circle cx="1813.2" cy="885.4" r="9.5" fill="#7F7F7F"/>
<circle cx="1969.5" cy="914.0" r="9.5" fill="#EE6A66"/>
<circle cx="1952.6" cy="924.5" r="9.5" fill="#EE6A66"/>
<circle cx="1883.7" cy="937.3" r="9.5" fill="#7F7F7F"/>
<circle cx="1893.2" cy="911.7" r="9.5" fill="#EE6A66"/>
<circle cx="1815.4" cy="955.8" r="9.5" fill="#7F7F7F"/>
<circle cx="1976.3" cy="887.3" r="9.5" fill="#7F7F7F"/>
<circle cx="1966.9" cy="887.6" r="9.5" fill="#7F7F7F"/>
<circle cx="1892.5" cy="934.0" r="9.5" fill="#EE6A66"/>
<circle cx="2037.0" cy="908.5" r="9.5" fill="#7F7F7F"/>
<circle cx="1960.8" cy="887.6" r="9.5" fill="#7F7F7F"/>
<circle cx="1819.5" cy="961.0" r="9.5" fill="#7F7F7F"/>
<circle cx="1878.5" cy="923.6" r="9.5" fill="#7F7F7F"/>
<circle cx="1928.3" cy="943.9" r="9.5" fill="#7F7F7F"/>
<circle cx="1981.5" cy="887.2" r="9.5" fill="#EE6A66"/>
<circle cx="1904.2" cy="940.6" r="9.5" fill="#7F7F7F"/>
<circle cx="1884.7" cy="936.6" r="9.5" fill="#7F7F7F"/>
<circle cx="1878.1" cy="948.1" r="9.5" fill="#7F7F7F"/>
<circle cx="2002.6" cy="888.7" r="9.5" fill="#7F7F7F"/>
<circle cx="1874.8" cy="925.6" r="9.5" fill="#EE6A66"/>
<circle cx="1813.8" cy="960.5" r="9.5" fill="#7F7F7F"/>
<circle cx="2025.8" cy="904.8" r="9.5" fill="#7F7F7F"/>
<circle cx="1808.0" cy="920.0" r="9.5" fill="#EE6A66"/>
<circle cx="1847.6" cy="925.7" r="9.5" fill="#7F7F7F"/>
<circle cx="2017.9" cy="886.6" r="9.5" fill="#7F7F7F"/>
<circle cx="2017.1" cy="935.7" r="9.5" fill="#EE6A66"/>
<circle cx="1974.3" cy="955.7" r="9.5" fill="#7F7F7F"/>
<circle cx="1831.8" cy="913.9" r="9.5" fill="#EE6A66"/>
<circle cx="1942.7" cy="895.5" r="9.5" fill="#EE6A66"/>
<circle cx="1917.0" cy="934.7" r="9.5" fill="#7F7F7F"/>
<circle cx="1836.6" cy="925.3" r="9.5" fill="#7F7F7F"/>
<circle cx="1927.4" cy="952.8" r="9.5" fill="#7F7F7F"/>
<circle cx="1880.0" cy="889.7" r="9.5" fill="#7F7F7F"/>
<circle cx="1914.2" cy="947.7" r="9.5" fill="#7F7F7F"/>
<circle cx="1954.1" cy="954.9" r="9.5" fill="#EE6A66"/>
<circle cx="1988.1" cy="891.9" r="9.5" fill="#7F7F7F"/>
<circle cx="2013.3" cy="953.4" r="9.5" fill="#EE6A66"/>
<circle cx="1887.1" cy="924.4" r="9.5" fill="#EE6A66"/>
<circle cx="1925.0" cy="888.4" r="9.5" fill="#EE6A66"/>
<circle cx="1982.6" cy="938.8" r="9.5" fill="#7F7F7F"/>
<circle cx="1957.5" cy="941.6" r="9.5" fill="#EE6A66"/>
<circle cx="1920.0" cy="888.6" r="9.5" fill="#7F7F7F"/>
<circle cx="1994.5" cy="955.5" r="9.5" fill="#7F7F7F"/>
<circle cx="2049.0" cy="950.0" r="9.5" fill="#7F7F7F"/>
<circle cx="2025.8" cy="931.5" r="9.5" fill="#7F7F7F"/>
<circle cx="1916.2" cy="954.0" r="9.5" fill="#7F7F7F"/>
<circle cx="1848.5" cy="936.2" r="9.5" fill="#7F7F7F"/>
<circle cx="1947.7" cy="948.0" r="9.5" fill="#7F7F7F"/>
<circle cx="1896.2" cy="929.9" r="9.5" fill="#7F7F7F"/>
<circle cx="2035.0" cy="925.6" r="9.5" fill="#7F7F7F"/>
<circle cx="1913.6" cy="900.4" r="9.5" fill="#7F7F7F"/>
<circle cx="1903.9" cy="908.9" r="9.5" fill="#7F7F7F"/>
<circle cx="2030.5" cy="896.9" r="9.5" fill="#7F7F7F"/>
<circle cx="1969.5" cy="936.4" r="9.5" fill="#7F7F7F"/>
<circle cx="1974.0" cy="912.5" r="9.5" fill="#EE6A66"/>
<circle cx="1875.0" cy="889.9" r="9.5" fill="#EE6A66"/>
<circle cx="1949.0" cy="956.0" r="9.5" fill="#EE6A66"/>
<circle cx="1943.6" cy="955.2" r="9.5" fill="#7F7F7F"/>
<circle cx="1851.0" cy="960.4" r="9.5" fill="#7F7F7F"/>
<circle cx="1917.2" cy="930.3" r="9.5" fill="#7F7F7F"/>
<circle cx="1932.2" cy="923.3" r="9.5" fill="#7F7F7F"/>
<circle cx="1964.2" cy="955.8" r="9.5" fill="#EE6A66"/>
<circle cx="1838.8" cy="943.7" r="9.5" fill="#7F7F7F"/>
<circle cx="1897.9" cy="898.9" r="9.5" fill="#7F7F7F"/>
<circle cx="1895.0" cy="889.3" r="9.5" fill="#EE6A66"/>
<circle cx="1932.8" cy="953.6" r="9.5" fill="#7F7F7F"/>
<circle cx="1951.2" cy="898.3" r="9.5" fill="#7F7F7F"/>
<circle cx="2012.6" cy="911.9" r="9.5" fill="#7F7F7F"/>
<circle cx="2007.2" cy="916.2" r="9.5" fill="#7F7F7F"/>
<circle cx="1846.8" cy="908.6" r="9.5" fill="#7F7F7F"/>
<circle cx="2039.9" cy="888.6" r="9.5" fill="#7F7F7F"/>
<circle cx="1933.7" cy="927.6" r="9.5" fill="#7F7F7F"/>
<circle cx="1854.9" cy="919.2" r="9.5" fill="#7F7F7F"/>
<circle cx="1811.4" cy="926.2" r="9.5" fill="#7F7F7F"/>
<circle cx="1816.8" cy="937.3" r="9.5" fill="#7F7F7F"/>
<circle cx="1893.4" cy="912.2" r="9.5" fill="#7F7F7F"/>
<circle cx="1947.1" cy="944.2" r="9.5" fill="#7F7F7F"/>
<circle cx="1832.2" cy="919.4" r="9.5" fill="#7F7F7F"/>
<circle cx="1837.7" cy="958.1" r="9.5" fill="#7F7F7F"/>
<circle cx="2020.8" cy="924.4" r="9.5" fill="#7F7F7F"/>
<circle cx="1920.0" cy="890.9" r="9.5" fill="#7F7F7F"/>
<circle cx="1999.5" cy="955.5" r="9.5" fill="#7F7F7F"/>
<circle cx="2023.0" cy="886.5" r="9.5" fill="#7F7F7F"/>
<circle cx="1816.2" cy="942.9" r="9.5" fill="#7F7F7F"/>
<circle cx="1954.1" cy="955.9" r="9.5" fill="#7F7F7F"/>
<circle cx="1808.0" cy="945.0" r="9.5" fill="#7F7F7F"/>
<circle cx="1814.0" cy="937.1" r="9.5" fill="#7F7F7F"/>
<circle cx="2040.8" cy="949.0" r="9.5" fill="#7F7F7F"/>
<circle cx="1857.2" cy="889.3" r="9.5" fill="#7F7F7F"/>
<circle cx="2026.0" cy="906.0" r="9.5" fill="#7F7F7F"/>
<circle cx="1842.7" cy="940.5" r="9.5" fill="#7F7F7F"/>
<circle cx="1841.0" cy="961.2" r="9.5" fill="#7F7F7F"/>
<circle cx="1996.5" cy="944.6" r="9.5" fill="#7F7F7F"/>
<circle cx="1920.8" cy="899.1" r="9.5" fill="#7F7F7F"/>
<circle cx="1989.2" cy="912.7" r="9.5" fill="#7F7F7F"/>
<circle cx="1912.7" cy="889.2" r="9.5" fill="#7F7F7F"/>
<circle cx="1981.2" cy="951.0" r="9.5" fill="#7F7F7F"/>
<circle cx="1937.6" cy="948.1" r="9.5" fill="#7F7F7F"/>
<circle cx="1862.6" cy="952.0" r="9.5" fill="#7F7F7F"/>
<circle cx="2039.6" cy="912.0" r="9.5" fill="#7F7F7F"/>
<circle cx="1995.2" cy="899.8" r="9.5" fill="#7F7F7F"/>
<circle cx="1886.6" cy="949.3" r="9.5" fill="#7F7F7F"/>
<circle cx="1869.7" cy="947.8" r="9.5" fill="#7F7F7F"/>
<circle cx="2049.0" cy="939.3" r="9.5" fill="#7F7F7F"/>
<circle cx="1831.8" cy="907.4" r="9.5" fill="#7F7F7F"/>
<circle cx="1969.7" cy="900.4" r="9.5" fill="#7F7F7F"/>
<circle cx="1824.1" cy="949.5" r="9.5" fill="#7F7F7F"/>
<circle cx="1980.9" cy="921.9" r="9.5" fill="#7F7F7F"/>
<circle cx="1883.1" cy="919.8" r="9.5" fill="#7F7F7F"/>
<circle cx="1930.3" cy="897.1" r="9.5" fill="#7F7F7F"/>
<circle cx="1856.7" cy="925.4" r="9.5" fill="#7F7F7F"/>
<circle cx="1964.7" cy="916.0" r="9.5" fill="#7F7F7F"/>
<circle cx="1915.0" cy="888.7" r="9.5" fill="#7F7F7F"/>
<circle cx="1827.2" cy="936.0" r="9.5" fill="#7F7F7F"/>
<circle cx="1914.7" cy="939.4" r="9.5" fill="#7F7F7F"/>
<circle cx="1834.5" cy="895.4" r="9.5" fill="#7F7F7F"/>
<circle cx="1880.3" cy="957.6" r="9.5" fill="#7F7F7F"/>
<circle cx="1900.0" cy="889.1" r="9.5" fill="#7F7F7F"/>
<circle cx="1977.0" cy="923.7" r="9.5" fill="#7F7F7F"/>
<circle cx="2023.0" cy="914.6" r="9.5" fill="#7F7F7F"/>
<circle cx="2038.6" cy="886.2" r="9.5" fill="#7F7F7F"/>
<circle cx="1926.7" cy="930.1" r="9.5" fill="#7F7F7F"/>
<circle cx="1871.7" cy="950.9" r="9.5" fill="#7F7F7F"/>
<circle cx="1907.5" cy="930.5" r="9.5" fill="#7F7F7F"/>
<circle cx="1811.5" cy="920.2" r="9.5" fill="#7F7F7F"/>
<circle cx="2037.5" cy="941.9" r="9.5" fill="#7F7F7F"/>
<circle cx="1885.0" cy="906.5" r="9.5" fill="#7F7F7F"/>
<circle cx="1808.0" cy="905.0" r="9.5" fill="#7F7F7F"/>
<circle cx="1929.4" cy="889.4" r="9.5" fill="#7F7F7F"/>
<circle cx="2039.9" cy="955.1" r="9.5" fill="#7F7F7F"/>
<circle cx="1973.3" cy="930.5" r="9.5" fill="#7F7F7F"/>
<circle cx="1976.7" cy="896.1" r="9.5" fill="#7F7F7F"/>
<circle cx="1896.5" cy="901.0" r="9.5" fill="#7F7F7F"/>
<circle cx="2019.7" cy="955.3" r="9.5" fill="#7F7F7F"/>
<circle cx="1844.2" cy="887.9" r="9.5" fill="#7F7F7F"/>
<circle cx="1886.9" cy="905.6" r="9.5" fill="#7F7F7F"/>
<circle cx="2008.1" cy="921.3" r="9.5" fill="#7F7F7F"/>
<circle cx="2024.8" cy="955.2" r="9.5" fill="#7F7F7F"/>
<circle cx="1927.7" cy="902.7" r="9.5" fill="#7F7F7F"/>
<circle cx="2039.9" cy="903.0" r="9.5" fill="#7F7F7F"/>
<circle cx="1880.6" cy="906.0" r="9.5" fill="#7F7F7F"/>
<circle cx="1962.0" cy="954.3" r="9.5" fill="#7F7F7F"/>
<circle cx="1841.8" cy="905.1" r="9.5" fill="#7F7F7F"/>
<circle cx="2023.5" cy="919.3" r="9.5" fill="#7F7F7F"/>
<circle cx="1877.5" cy="960.0" r="9.5" fill="#7F7F7F"/>
<circle cx="2044.3" cy="918.2" r="9.5" fill="#7F7F7F"/>
<circle cx="1826.8" cy="900.7" r="9.5" fill="#7F7F7F"/>
<circle cx="1963.4" cy="939.6" r="9.5" fill="#7F7F7F"/>
<circle cx="1821.6" cy="921.0" r="9.5" fill="#7F7F7F"/>
<circle cx="1893.8" cy="951.0" r="9.5" fill="#7F7F7F"/>
<circle cx="1882.2" cy="913.6" r="9.5" fill="#7F7F7F"/>
<circle cx="1808.0" cy="895.0" r="9.5" fill="#7F7F7F"/>
<circle cx="1935.6" cy="917.3" r="9.5" fill="#7F7F7F"/>
<circle cx="1920.0" cy="923.2" r="9.5" fill="#7F7F7F"/>
<circle cx="1878.5" cy="929.9" r="9.5" fill="#7F7F7F"/>
<circle cx="1855.6" cy="938.8" r="9.5" fill="#7F7F7F"/>
<circle cx="1843.7" cy="888.4" r="9.5" fill="#7F7F7F"/>
<circle cx="1949.6" cy="907.8" r="9.5" fill="#7F7F7F"/>
<circle cx="1998.1" cy="905.0" r="9.5" fill="#7F7F7F"/>
<circle cx="2010.4" cy="887.9" r="9.5" fill="#7F7F7F"/>
<circle cx="2042.4" cy="915.3" r="9.5" fill="#7F7F7F"/>
<circle cx="1860.4" cy="935.6" r="9.5" fill="#7F7F7F"/>
<circle cx="1872.3" cy="913.7" r="9.5" fill="#7F7F7F"/>
<circle cx="1817.3" cy="900.4" r="9.5" fill="#7F7F7F"/>
<circle cx="1814.3" cy="949.4" r="9.5" fill="#7F7F7F"/>
<circle cx="2034.8" cy="954.9" r="9.5" fill="#7F7F7F"/>
<circle cx="2010.0" cy="913.2" r="9.5" fill="#7F7F7F"/>
<circle cx="1808.0" cy="910.0" r="9.5" fill="#7F7F7F"/>
<circle cx="2049.0" cy="923.3" r="9.5" fill="#7F7F7F"/>
<circle cx="1997.1" cy="887.0" r="9.5" fill="#7F7F7F"/>
<circle cx="1970.6" cy="954.3" r="9.5" fill="#7F7F7F"/>
<circle cx="2022.4" cy="910.4" r="9.5" fill="#7F7F7F"/>
<circle cx="2044.2" cy="955.0" r="9.5" fill="#7F7F7F"/>
<circle cx="1831.4" cy="892.2" r="9.5" fill="#7F7F7F"/>
<circle cx="1941.2" cy="923.3" r="9.5" fill="#7F7F7F"/>
<circle cx="2049.0" cy="944.7" r="9.5" fill="#7F7F7F"/>
<circle cx="1844.7" cy="949.5" r="9.5" fill="#7F7F7F"/>
<circle cx="1837.4" cy="952.5" r="9.5" fill="#7F7F7F"/>
<circle cx="1888.8" cy="948.3" r="9.5" fill="#7F7F7F"/>
<circle cx="1882.3" cy="896.1" r="9.5" fill="#7F7F7F"/>
<circle cx="1827.5" cy="889.5" r="9.5" fill="#7F7F7F"/>
<circle cx="1849.8" cy="892.9" r="9.5" fill="#7F7F7F"/>
<circle cx="1909.1" cy="940.9" r="9.5" fill="#7F7F7F"/>
<circle cx="1979.6" cy="893.1" r="9.5" fill="#7F7F7F"/>
<circle cx="1955.6" cy="887.7" r="9.5" fill="#7F7F7F"/>
<circle cx="1983.7" cy="943.0" r="9.5" fill="#7F7F7F"/>
<circle cx="1936.7" cy="937.7" r="9.5" fill="#7F7F7F"/>
<circle cx="2021.1" cy="931.9" r="9.5" fill="#7F7F7F"/>
<circle cx="1900.2" cy="893.7" r="9.5" fill="#7F7F7F"/>
<circle cx="1860.0" cy="955.6" r="9.5" fill="#7F7F7F"/>
<circle cx="2049.0" cy="891.3" r="9.5" fill="#7F7F7F"/>
<circle cx="1986.7" cy="887.1" r="9.5" fill="#7F7F7F"/>
<circle cx="1825.8" cy="894.3" r="9.5" fill="#7F7F7F"/>
<circle cx="1979.3" cy="955.7" r="9.5" fill="#7F7F7F"/>
<circle cx="2002.8" cy="937.3" r="9.5" fill="#7F7F7F"/>
<circle cx="1935.0" cy="888.1" r="9.5" fill="#7F7F7F"/>
<circle cx="1949.5" cy="903.2" r="9.5" fill="#7F7F7F"/>
<circle cx="1952.0" cy="943.9" r="9.5" fill="#7F7F7F"/>
<circle cx="2005.5" cy="952.2" r="9.5" fill="#7F7F7F"/>
<circle cx="2010.3" cy="907.3" r="9.5" fill="#7F7F7F"/>
<circle cx="1828.7" cy="886.7" r="9.5" fill="#7F7F7F"/>
<circle cx="1974.8" cy="902.8" r="9.5" fill="#7F7F7F"/>
<circle cx="1957.9" cy="917.8" r="9.5" fill="#7F7F7F"/>
<circle cx="1985.5" cy="903.4" r="9.5" fill="#7F7F7F"/>
<circle cx="1833.9" cy="931.4" r="9.5" fill="#7F7F7F"/>
<circle cx="1849.3" cy="888.3" r="9.5" fill="#7F7F7F"/>
<circle cx="1892.7" cy="890.4" r="9.5" fill="#7F7F7F"/>
<circle cx="1964.5" cy="887.9" r="9.5" fill="#7F7F7F"/>
<circle cx="1823.5" cy="886.2" r="9.5" fill="#7F7F7F"/>
<circle cx="2037.3" cy="919.0" r="9.5" fill="#7F7F7F"/>
<circle cx="1922.6" cy="949.8" r="9.5" fill="#7F7F7F"/>
<circle cx="1818.3" cy="885.8" r="9.5" fill="#7F7F7F"/>
<circle cx="1880.8" cy="893.6" r="9.5" fill="#7F7F7F"/>
<circle cx="1914.9" cy="911.3" r="9.5" fill="#7F7F7F"/>
<circle cx="1887.4" cy="912.8" r="9.5" fill="#7F7F7F"/>
<circle cx="1858.6" cy="959.9" r="9.5" fill="#7F7F7F"/>
<circle cx="1827.1" cy="927.8" r="9.5" fill="#7F7F7F"/>
<circle cx="1890.0" cy="889.4" r="9.5" fill="#7F7F7F"/>
<circle cx="1994.0" cy="940.0" r="9.5" fill="#7F7F7F"/>
<circle cx="1966.0" cy="887.5" r="9.5" fill="#7F7F7F"/>
<circle cx="2004.6" cy="955.4" r="9.5" fill="#7F7F7F"/>
<circle cx="1894.4" cy="940.3" r="9.5" fill="#7F7F7F"/>
<circle cx="1962.9" cy="896.6" r="9.5" fill="#7F7F7F"/>
<circle cx="1958.5" cy="955.0" r="9.5" fill="#7F7F7F"/>
<circle cx="1870.0" cy="890.0" r="9.5" fill="#7F7F7F"/>
<circle cx="1853.0" cy="913.2" r="9.5" fill="#7F7F7F"/>
<circle cx="1154.4" cy="225.1" r="9.5" fill="#EE6A66"/>
<circle cx="1219.9" cy="327.1" r="9.5" fill="#EE6A66"/>
<circle cx="1289.4" cy="481.2" r="9.5" fill="#7F7F7F"/>
<circle cx="1257.1" cy="495.9" r="9.5" fill="#7F7F7F"/>
<circle cx="1169.5" cy="497.6" r="9.5" fill="#EE6A66"/>
<circle cx="1149.0" cy="503.3" r="9.5" fill="#7F7F7F"/>
<circle cx="1239.3" cy="520.4" r="9.5" fill="#EE6A66"/>
<circle cx="1292.6" cy="533.8" r="9.5" fill="#7F7F7F"/>
<circle cx="1609.1" cy="359.1" r="9.5" fill="#EE6A66"/>
<circle cx="1620.5" cy="723.6" r="9.5" fill="#7F7F7F"/>
<circle cx="1239.4" cy="521.2" r="9.5" fill="#EE6A66"/>
<circle cx="1292.0" cy="525.5" r="9.5" fill="#7F7F7F"/>
<circle cx="1222.3" cy="584.2" r="9.5" fill="#7F7F7F"/>
<circle cx="1318.9" cy="586.7" r="9.5" fill="#EE6A66"/>
<circle cx="1148.9" cy="601.3" r="9.5" fill="#7F7F7F"/>
<circle cx="1247.9" cy="598.9" r="9.5" fill="#7F7F7F"/>
<circle cx="1233.3" cy="605.6" r="9.5" fill="#7F7F7F"/>
<circle cx="1228.7" cy="621.3" r="9.5" fill="#7F7F7F"/>
<circle cx="1210.6" cy="622.5" r="9.5" fill="#EE6A66"/>
<circle cx="1284.6" cy="618.8" r="9.5" fill="#7F7F7F"/>
<circle cx="1148.9" cy="617.2" r="9.5" fill="#7F7F7F"/>
<circle cx="1311.5" cy="633.5" r="9.5" fill="#EE6A66"/>
<circle cx="1150.1" cy="630.1" r="9.5" fill="#7F7F7F"/>
<circle cx="1251.6" cy="642.9" r="9.5" fill="#EE6A66"/>
<circle cx="1162.9" cy="639.3" r="9.5" fill="#7F7F7F"/>
<circle cx="1154.4" cy="648.4" r="9.5" fill="#7F7F7F"/>
<circle cx="1148.3" cy="656.4" r="9.5" fill="#7F7F7F"/>
<circle cx="1161.7" cy="661.9" r="9.5" fill="#EE6A66"/>
<circle cx="1150.7" cy="665.5" r="9.5" fill="#EE6A66"/>
<circle cx="1175.2" cy="664.9" r="9.5" fill="#EE6A66"/>
<circle cx="1156.8" cy="660.7" r="9.5" fill="#7F7F7F"/>
<circle cx="1200.8" cy="660.0" r="9.5" fill="#7F7F7F"/>
<circle cx="1191.1" cy="675.3" r="9.5" fill="#EE6A66"/>
<circle cx="1158.0" cy="682.7" r="9.5" fill="#7F7F7F"/>
<circle cx="1171.5" cy="680.2" r="9.5" fill="#7F7F7F"/>
<circle cx="1181.3" cy="682.7" r="9.5" fill="#EE6A66"/>
<circle cx="1210.6" cy="680.2" r="9.5" fill="#7F7F7F"/>
<circle cx="1209.4" cy="689.4" r="9.5" fill="#7F7F7F"/>
<circle cx="1188.6" cy="687.6" r="9.5" fill="#7F7F7F"/>
<circle cx="1176.4" cy="691.2" r="9.5" fill="#7F7F7F"/>
<circle cx="1230.2" cy="683.9" r="9.5" fill="#EE6A66"/>
<circle cx="1247.3" cy="683.3" r="9.5" fill="#7F7F7F"/>
<circle cx="1258.3" cy="680.2" r="9.5" fill="#7F7F7F"/>
<circle cx="1266.3" cy="673.5" r="9.5" fill="#EE6A66"/>
<circle cx="1330.5" cy="686.3" r="9.5" fill="#EE6A66"/>
<circle cx="1172.7" cy="704.1" r="9.5" fill="#EE6A66"/>
<circle cx="1193.5" cy="702.9" r="9.5" fill="#EE6A66"/>
<circle cx="1213.1" cy="704.7" r="9.5" fill="#7F7F7F"/>
<circle cx="1231.4" cy="713.2" r="9.5" fill="#7F7F7F"/>
<circle cx="1253.4" cy="705.3" r="9.5" fill="#7F7F7F"/>
<circle cx="1278.5" cy="702.2" r="9.5" fill="#7F7F7F"/>
<circle cx="1298.1" cy="699.2" r="9.5" fill="#7F7F7F"/>
<circle cx="1178.8" cy="715.7" r="9.5" fill="#7F7F7F"/>
<circle cx="1192.3" cy="718.1" r="9.5" fill="#7F7F7F"/>
<circle cx="1210.6" cy="718.1" r="9.5" fill="#7F7F7F"/>
<circle cx="1192.3" cy="730.4" r="9.5" fill="#EE6A66"/>
<circle cx="1211.9" cy="730.4" r="9.5" fill="#7F7F7F"/>
<circle cx="1229.0" cy="731.6" r="9.5" fill="#EE6A66"/>
<circle cx="1244.9" cy="732.8" r="9.5" fill="#EE6A66"/>
<circle cx="1264.4" cy="723.0" r="9.5" fill="#7F7F7F"/>
<circle cx="1274.2" cy="725.5" r="9.5" fill="#EE6A66"/>
<circle cx="1327.4" cy="717.5" r="9.5" fill="#EE6A66"/>
<circle cx="1288.9" cy="738.9" r="9.5" fill="#EE6A66"/>
<circle cx="1323.2" cy="736.5" r="9.5" fill="#7F7F7F"/>
<circle cx="1260.8" cy="736.5" r="9.5" fill="#7F7F7F"/>
<circle cx="1191.6" cy="727.3" r="9.5" fill="#EE6A66"/>
<circle cx="1192.2" cy="721.2" r="9.5" fill="#7F7F7F"/>
<circle cx="1213.0" cy="731.0" r="9.5" fill="#7F7F7F"/>
<circle cx="1214.2" cy="738.3" r="9.5" fill="#7F7F7F"/>
<circle cx="1202.0" cy="749.4" r="9.5" fill="#EE6A66"/>
<circle cx="1230.1" cy="720.0" r="9.5" fill="#7F7F7F"/>
<circle cx="1228.9" cy="733.5" r="9.5" fill="#EE6A66"/>
<circle cx="1244.8" cy="734.7" r="9.5" fill="#EE6A66"/>
<circle cx="1260.7" cy="744.5" r="9.5" fill="#7F7F7F"/>
<circle cx="1263.2" cy="724.9" r="9.5" fill="#7F7F7F"/>
<circle cx="1273.0" cy="724.9" r="9.5" fill="#EE6A66"/>
<circle cx="1232.6" cy="753.0" r="9.5" fill="#7F7F7F"/>
<circle cx="1248.5" cy="756.7" r="9.5" fill="#7F7F7F"/>
<circle cx="1257.1" cy="753.0" r="9.5" fill="#EE6A66"/>
<circle cx="1265.6" cy="765.3" r="9.5" fill="#7F7F7F"/>
<circle cx="1250.9" cy="775.0" r="9.5" fill="#EE6A66"/>
<circle cx="1244.8" cy="789.1" r="9.5" fill="#7F7F7F"/>
<circle cx="1279.7" cy="760.4" r="9.5" fill="#7F7F7F"/>
<circle cx="1288.9" cy="740.8" r="9.5" fill="#EE6A66"/>
<circle cx="1292.5" cy="753.0" r="9.5" fill="#EE6A66"/>
<circle cx="1298.0" cy="750.6" r="9.5" fill="#7F7F7F"/>
<circle cx="1323.7" cy="737.1" r="9.5" fill="#7F7F7F"/>
<circle cx="1327.4" cy="721.2" r="9.5" fill="#EE6A66"/>
<circle cx="1283.4" cy="776.9" r="9.5" fill="#7F7F7F"/>
<circle cx="1280.3" cy="790.3" r="9.5" fill="#7F7F7F"/>
<circle cx="1293.7" cy="787.3" r="9.5" fill="#EE6A66"/>
<circle cx="1303.5" cy="783.6" r="9.5" fill="#7F7F7F"/>
<circle cx="1307.8" cy="798.3" r="9.5" fill="#7F7F7F"/>
<circle cx="1287.6" cy="808.1" r="9.5" fill="#EE6A66"/>
<circle cx="1299.3" cy="820.3" r="9.5" fill="#7F7F7F"/>
<circle cx="1318.2" cy="814.2" r="9.5" fill="#7F7F7F"/>
<circle cx="1330.4" cy="790.9" r="9.5" fill="#EE6A66"/>
<circle cx="1330.4" cy="816.6" r="9.5" fill="#EE6A66"/>
<circle cx="1334.7" cy="779.3" r="9.5" fill="#7F7F7F"/>
<circle cx="1335.3" cy="767.7" r="9.5" fill="#EE6A66"/>
<circle cx="1347.0" cy="756.7" r="9.5" fill="#EE6A66"/>
<circle cx="1358.6" cy="748.1" r="9.5" fill="#7F7F7F"/>
<circle cx="1367.7" cy="730.4" r="9.5" fill="#7F7F7F"/>
<circle cx="1375.7" cy="722.4" r="9.5" fill="#7F7F7F"/>
<circle cx="1406.9" cy="723.7" r="9.5" fill="#7F7F7F"/>
<circle cx="1406.3" cy="740.8" r="9.5" fill="#7F7F7F"/>
<circle cx="1418.5" cy="743.2" r="9.5" fill="#7F7F7F"/>
<circle cx="1403.8" cy="748.1" r="9.5" fill="#7F7F7F"/>
<circle cx="1399.5" cy="764.0" r="9.5" fill="#7F7F7F"/>
<circle cx="1380.6" cy="764.0" r="9.5" fill="#EE6A66"/>
<circle cx="1380.6" cy="772.6" r="9.5" fill="#EE6A66"/>
<circle cx="1395.3" cy="783.6" r="9.5" fill="#EE6A66"/>
<circle cx="1396.5" cy="782.4" r="9.5" fill="#7F7F7F"/>
<circle cx="1412.4" cy="782.4" r="9.5" fill="#EE6A66"/>
<circle cx="1427.1" cy="793.4" r="9.5" fill="#EE6A66"/>
<circle cx="1340.2" cy="803.2" r="9.5" fill="#EE6A66"/>
<circle cx="1363.5" cy="801.9" r="9.5" fill="#EE6A66"/>
<circle cx="1352.5" cy="813.0" r="9.5" fill="#EE6A66"/>
<circle cx="1343.9" cy="821.5" r="9.5" fill="#7F7F7F"/>
<circle cx="1378.1" cy="805.6" r="9.5" fill="#7F7F7F"/>
<circle cx="1380.6" cy="820.3" r="9.5" fill="#7F7F7F"/>
<circle cx="1391.6" cy="813.0" r="9.5" fill="#7F7F7F"/>
<circle cx="1406.3" cy="805.6" r="9.5" fill="#EE6A66"/>
<circle cx="1412.4" cy="815.4" r="9.5" fill="#EE6A66"/>
<circle cx="1363.5" cy="827.6" r="9.5" fill="#7F7F7F"/>
<circle cx="1375.7" cy="837.4" r="9.5" fill="#7F7F7F"/>
<circle cx="1390.4" cy="844.8" r="9.5" fill="#7F7F7F"/>
<circle cx="1406.3" cy="848.4" r="9.5" fill="#7F7F7F"/>
<circle cx="1418.5" cy="839.9" r="9.5" fill="#EE6A66"/>
<circle cx="1425.8" cy="854.5" r="9.5" fill="#EE6A66"/>
<circle cx="1375.7" cy="830.1" r="9.5" fill="#7F7F7F"/>
<circle cx="1400.2" cy="830.1" r="9.5" fill="#7F7F7F"/>
<circle cx="1419.7" cy="852.1" r="9.5" fill="#7F7F7F"/>
<circle cx="1418.3" cy="589.4" r="9.5" fill="#7F7F7F"/>
<circle cx="1488.2" cy="588.7" r="9.5" fill="#7F7F7F"/>
<circle cx="1464.1" cy="666.4" r="9.5" fill="#EE6A66"/>
<circle cx="1386.2" cy="679.6" r="9.5" fill="#7F7F7F"/>
<circle cx="1443.6" cy="687.2" r="9.5" fill="#7F7F7F"/>
<circle cx="1375.5" cy="708.6" r="9.5" fill="#7F7F7F"/>
<circle cx="1376.7" cy="719.6" r="9.5" fill="#7F7F7F"/>
<circle cx="1406.7" cy="720.8" r="9.5" fill="#7F7F7F"/>
<circle cx="1367.5" cy="730.0" r="9.5" fill="#7F7F7F"/>
<circle cx="1442.5" cy="737.1" r="9.5" fill="#7F7F7F"/>
<circle cx="1406.7" cy="741.0" r="9.5" fill="#7F7F7F"/>
<circle cx="1418.3" cy="743.5" r="9.5" fill="#7F7F7F"/>
<circle cx="1358.3" cy="748.4" r="9.5" fill="#7F7F7F"/>
<circle cx="1404.8" cy="750.8" r="9.5" fill="#7F7F7F"/>
<circle cx="1399.9" cy="763.6" r="9.5" fill="#7F7F7F"/>
<circle cx="1346.1" cy="755.7" r="9.5" fill="#EE6A66"/>
<circle cx="1380.4" cy="763.0" r="9.5" fill="#EE6A66"/>
<circle cx="1380.4" cy="774.0" r="9.5" fill="#EE6A66"/>
<circle cx="1413.4" cy="778.9" r="9.5" fill="#EE6A66"/>
<circle cx="1488.0" cy="747.1" r="9.5" fill="#7F7F7F"/>
<circle cx="1509.4" cy="741.0" r="9.5" fill="#7F7F7F"/>
<circle cx="1523.7" cy="802.3" r="9.5" fill="#7F7F7F"/>
<circle cx="1629.6" cy="793.2" r="9.5" fill="#7F7F7F"/>
<circle cx="1666.4" cy="798.3" r="9.5" fill="#7F7F7F"/>
<circle cx="1634.1" cy="822.9" r="9.5" fill="#7F7F7F"/>
<circle cx="1516.7" cy="824.6" r="9.5" fill="#7F7F7F"/>
<circle cx="1498.9" cy="827.1" r="9.5" fill="#7F7F7F"/>
<circle cx="1447.7" cy="823.3" r="9.5" fill="#7F7F7F"/>
<circle cx="1442.9" cy="798.5" r="9.5" fill="#7F7F7F"/>
<circle cx="1462.0" cy="801.1" r="9.5" fill="#7F7F7F"/>
<circle cx="1427.6" cy="790.9" r="9.5" fill="#EE6A66"/>
<circle cx="1547.2" cy="845.6" r="9.5" fill="#EE6A66"/>
<circle cx="1486.1" cy="746.4" r="9.5" fill="#7F7F7F"/>
<circle cx="1488.7" cy="775.6" r="9.5" fill="#7F7F7F"/>
<circle cx="1442.3" cy="741.3" r="9.5" fill="#7F7F7F"/>
<circle cx="1421.3" cy="743.8" r="9.5" fill="#7F7F7F"/>
<circle cx="1671.3" cy="797.4" r="9.5" fill="#7F7F7F"/>
<circle cx="1708.5" cy="818.1" r="9.5" fill="#EE6A66"/>
<circle cx="1699.3" cy="841.9" r="9.5" fill="#7F7F7F"/>
<circle cx="1706.3" cy="835.6" r="9.5" fill="#EE6A66"/>
<circle cx="1719.6" cy="850.8" r="9.5" fill="#7F7F7F"/>
<circle cx="1741.9" cy="855.9" r="9.5" fill="#7F7F7F"/>
<circle cx="1756.9" cy="864.2" r="9.5" fill="#EE6A66"/>
<circle cx="1709.4" cy="867.4" r="9.5" fill="#7F7F7F"/>
<circle cx="1779.4" cy="875.0" r="9.5" fill="#7F7F7F"/>
<circle cx="1801.6" cy="885.8" r="9.5" fill="#EE6A66"/>
<circle cx="1808.6" cy="873.7" r="9.5" fill="#7F7F7F"/>
<circle cx="1846.8" cy="882.6" r="9.5" fill="#EE6A66"/>
<circle cx="1852.8" cy="821.3" r="9.5" fill="#EE6A66"/>
<circle cx="1909.8" cy="821.6" r="9.5" fill="#7F7F7F"/>
<circle cx="1909.1" cy="890.3" r="9.5" fill="#7F7F7F"/>
<circle cx="1853.1" cy="821.6" r="9.5" fill="#EE6A66"/>
<circle cx="1910.2" cy="821.1" r="9.5" fill="#7F7F7F"/>
<circle cx="2005.2" cy="826.5" r="9.5" fill="#7F7F7F"/>
<circle cx="1880.5" cy="987.9" r="9.5" fill="#EE6A66"/>
<circle cx="1897.9" cy="991.0" r="9.5" fill="#7F7F7F"/>
<circle cx="1925.7" cy="982.5" r="9.5" fill="#7F7F7F"/>
<circle cx="1938.8" cy="897.6" r="9.5" fill="#EE6A66"/>
<circle cx="2014.5" cy="902.2" r="9.5" fill="#EE6A66"/>
<circle cx="2038.4" cy="900.6" r="9.5" fill="#EE6A66"/>
<circle cx="1846.9" cy="883.7" r="9.5" fill="#EE6A66"/>
<circle cx="1419.1" cy="983.6" r="9.5" fill="#7F7F7F"/>
<circle cx="1427.3" cy="982.3" r="9.5" fill="#7F7F7F"/>
<circle cx="1440.7" cy="986.1" r="9.5" fill="#EE6A66"/>
<circle cx="1453.4" cy="972.1" r="9.5" fill="#7F7F7F"/>
<circle cx="1476.3" cy="968.3" r="9.5" fill="#7F7F7F"/>
<circle cx="1492.9" cy="968.3" r="9.5" fill="#EE6A66"/>
<circle cx="1511.9" cy="964.5" r="9.5" fill="#7F7F7F"/>
<circle cx="1534.8" cy="955.6" r="9.5" fill="#EE6A66"/>
<circle cx="1550.1" cy="954.3" r="9.5" fill="#7F7F7F"/>
<circle cx="1558.4" cy="953.1" r="9.5" fill="#EE6A66"/>
<circle cx="1580.6" cy="951.8" r="9.5" fill="#7F7F7F"/>
<circle cx="1605.4" cy="946.7" r="9.5" fill="#EE6A66"/>
<circle cx="1623.9" cy="944.2" r="9.5" fill="#7F7F7F"/>
<circle cx="1641.7" cy="942.9" r="9.5" fill="#7F7F7F"/>
<circle cx="1654.4" cy="941.6" r="9.5" fill="#7F7F7F"/>
<circle cx="1400.0" cy="996.3" r="9.5" fill="#EE6A66"/>
<circle cx="1415.3" cy="991.2" r="9.5" fill="#7F7F7F"/>
<circle cx="1415.3" cy="1005.2" r="9.5" fill="#EE6A66"/>
<circle cx="1429.3" cy="991.2" r="9.5" fill="#7F7F7F"/>
<circle cx="1444.5" cy="1003.9" r="9.5" fill="#EE6A66"/>
<circle cx="1444.5" cy="1011.6" r="9.5" fill="#7F7F7F"/>
<circle cx="1457.2" cy="1011.6" r="9.5" fill="#EE6A66"/>
<circle cx="1457.2" cy="1029.4" r="9.5" fill="#EE6A66"/>
<circle cx="1462.3" cy="991.2" r="9.5" fill="#7F7F7F"/>
<circle cx="1471.2" cy="996.3" r="9.5" fill="#7F7F7F"/>
<circle cx="1473.8" cy="1016.7" r="9.5" fill="#7F7F7F"/>
<circle cx="1489.0" cy="987.4" r="9.5" fill="#7F7F7F"/>
<circle cx="1494.1" cy="1002.7" r="9.5" fill="#7F7F7F"/>
<circle cx="1494.1" cy="1019.2" r="9.5" fill="#7F7F7F"/>
<circle cx="1509.4" cy="1017.9" r="9.5" fill="#7F7F7F"/>
<circle cx="1491.6" cy="1028.1" r="9.5" fill="#7F7F7F"/>
<circle cx="1522.1" cy="1030.7" r="9.5" fill="#7F7F7F"/>
<circle cx="1511.9" cy="993.8" r="9.5" fill="#7F7F7F"/>
<circle cx="1523.4" cy="997.6" r="9.5" fill="#7F7F7F"/>
<circle cx="1532.9" cy="1012.9" r="9.5" fill="#EE6A66"/>
<circle cx="1545.0" cy="996.3" r="9.5" fill="#7F7F7F"/>
<circle cx="1545.0" cy="984.9" r="9.5" fill="#7F7F7F"/>
<circle cx="1567.9" cy="1009.0" r="9.5" fill="#7F7F7F"/>
<circle cx="1569.2" cy="1023.0" r="9.5" fill="#7F7F7F"/>
<circle cx="1566.6" cy="997.6" r="9.5" fill="#EE6A66"/>
<circle cx="1579.3" cy="998.9" r="9.5" fill="#EE6A66"/>
<circle cx="1565.4" cy="986.1" r="9.5" fill="#7F7F7F"/>
<circle cx="1578.1" cy="986.1" r="9.5" fill="#7F7F7F"/>
<circle cx="1603.5" cy="982.3" r="9.5" fill="#EE6A66"/>
<circle cx="1608.6" cy="1003.9" r="9.5" fill="#EE6A66"/>
<circle cx="1594.0" cy="1016.7" r="9.5" fill="#EE6A66"/>
<circle cx="1604.8" cy="1014.1" r="9.5" fill="#7F7F7F"/>
<circle cx="1622.6" cy="1010.3" r="9.5" fill="#7F7F7F"/>
<circle cx="1622.6" cy="1024.3" r="9.5" fill="#7F7F7F"/>
<circle cx="1608.6" cy="1040.2" r="9.5" fill="#EE6A66"/>
<circle cx="1613.7" cy="1052.9" r="9.5" fill="#7F7F7F"/>
<circle cx="1612.4" cy="1087.3" r="9.5" fill="#7F7F7F"/>
<circle cx="1653.1" cy="983.6" r="9.5" fill="#7F7F7F"/>
<circle cx="1658.2" cy="1009.0" r="9.5" fill="#7F7F7F"/>
<circle cx="1655.7" cy="1026.8" r="9.5" fill="#EE6A66"/>
<circle cx="1650.6" cy="981.1" r="9.5" fill="#EE6A66"/>
<circle cx="1625.1" cy="970.9" r="9.5" fill="#7F7F7F"/>
<circle cx="1609.9" cy="964.5" r="9.5" fill="#7F7F7F"/>
<circle cx="1406.4" cy="1026.8" r="9.5" fill="#7F7F7F"/>
<circle cx="1428.0" cy="1034.5" r="9.5" fill="#7F7F7F"/>
<circle cx="1425.4" cy="1021.8" r="9.5" fill="#7F7F7F"/>
<circle cx="1405.1" cy="1048.5" r="9.5" fill="#7F7F7F"/>
<circle cx="1481.4" cy="1041.5" r="9.5" fill="#7F7F7F"/>
<circle cx="1458.5" cy="1056.7" r="9.5" fill="#7F7F7F"/>
<circle cx="1464.2" cy="1052.3" r="9.5" fill="#EE6A66"/>
<circle cx="1507.5" cy="1051.0" r="9.5" fill="#7F7F7F"/>
<circle cx="1504.3" cy="1065.0" r="9.5" fill="#7F7F7F"/>
<circle cx="1503.0" cy="1080.9" r="9.5" fill="#7F7F7F"/>
<circle cx="1524.7" cy="1066.9" r="9.5" fill="#7F7F7F"/>
<circle cx="1528.5" cy="1080.9" r="9.5" fill="#EE6A66"/>
<circle cx="1401.3" cy="1072.6" r="9.5" fill="#7F7F7F"/>
<circle cx="1414.0" cy="1084.1" r="9.5" fill="#7F7F7F"/>
<circle cx="1410.8" cy="1105.1" r="9.5" fill="#7F7F7F"/>
<circle cx="1428.6" cy="1103.2" r="9.5" fill="#EE6A66"/>
<circle cx="1400.0" cy="1059.9" r="9.5" fill="#EE6A66"/>
<circle cx="1544.6" cy="844.3" r="9.5" fill="#EE6A66"/>
<circle cx="1576.4" cy="839.4" r="9.5" fill="#7F7F7F"/>
<circle cx="1598.4" cy="835.8" r="9.5" fill="#7F7F7F"/>
<circle cx="1620.5" cy="837.0" r="9.5" fill="#7F7F7F"/>
<circle cx="1633.9" cy="844.3" r="9.5" fill="#7F7F7F"/>
<circle cx="1654.7" cy="849.2" r="9.5" fill="#7F7F7F"/>
<circle cx="1664.5" cy="859.0" r="9.5" fill="#EE6A66"/>
<circle cx="1522.6" cy="851.7" r="9.5" fill="#7F7F7F"/>
<circle cx="1499.4" cy="827.2" r="9.5" fill="#7F7F7F"/>
<circle cx="1515.3" cy="823.5" r="9.5" fill="#7F7F7F"/>
<circle cx="1483.5" cy="839.4" r="9.5" fill="#7F7F7F"/>
<circle cx="1446.8" cy="822.3" r="9.5" fill="#7F7F7F"/>
<circle cx="1708.5" cy="817.4" r="9.5" fill="#EE6A66"/>
<circle cx="1706.1" cy="834.5" r="9.5" fill="#EE6A66"/>
<circle cx="1698.7" cy="841.9" r="9.5" fill="#7F7F7F"/>
<circle cx="1718.3" cy="849.2" r="9.5" fill="#7F7F7F"/>
<circle cx="1740.3" cy="851.7" r="9.5" fill="#7F7F7F"/>
<circle cx="1757.4" cy="863.9" r="9.5" fill="#EE6A66"/>
<circle cx="1777.0" cy="873.7" r="9.5" fill="#7F7F7F"/>
<circle cx="1796.6" cy="883.5" r="9.5" fill="#EE6A66"/>
<circle cx="1427.2" cy="815.0" r="9.5" fill="#EE6A66"/>
<circle cx="1437.0" cy="837.0" r="9.5" fill="#EE6A66"/>
<circle cx="1459.0" cy="832.1" r="9.5" fill="#EE6A66"/>
<circle cx="1471.2" cy="846.8" r="9.5" fill="#EE6A66"/>
<circle cx="1456.6" cy="856.6" r="9.5" fill="#7F7F7F"/>
<circle cx="1405.2" cy="805.2" r="9.5" fill="#EE6A66"/>
<circle cx="1417.4" cy="822.3" r="9.5" fill="#7F7F7F"/>
<circle cx="1393.0" cy="815.0" r="9.5" fill="#7F7F7F"/>
<circle cx="1373.4" cy="802.7" r="9.5" fill="#7F7F7F"/>
<circle cx="1361.2" cy="805.2" r="9.5" fill="#EE6A66"/>
<circle cx="1938.6" cy="901.0" r="9.5" fill="#EE6A66"/>
<circle cx="2014.2" cy="903.2" r="9.5" fill="#EE6A66"/>
<circle cx="2037.5" cy="901.0" r="9.5" fill="#EE6A66"/>
<circle cx="1847.0" cy="883.7" r="9.5" fill="#EE6A66"/>
<circle cx="1688.3" cy="939.1" r="9.5" fill="#EE6A66"/>
<circle cx="1151.4" cy="1130.6" r="9.5" fill="#EE6A66"/>
<circle cx="1164.6" cy="1145.3" r="9.5" fill="#EE6A66"/>
<circle cx="1166.1" cy="1140.9" r="9.5" fill="#7F7F7F"/>
<circle cx="1180.8" cy="1130.6" r="9.5" fill="#7F7F7F"/>
<circle cx="1185.2" cy="1143.8" r="9.5" fill="#7F7F7F"/>
<circle cx="1191.1" cy="1149.7" r="9.5" fill="#EE6A66"/>
<circle cx="1167.6" cy="1161.5" r="9.5" fill="#EE6A66"/>
<circle cx="1180.8" cy="1158.5" r="9.5" fill="#7F7F7F"/>
<circle cx="1182.3" cy="1168.8" r="9.5" fill="#7F7F7F"/>
<circle cx="1176.4" cy="1176.1" r="9.5" fill="#7F7F7F"/>
<circle cx="1179.3" cy="1182.0" r="9.5" fill="#7F7F7F"/>
<circle cx="1186.7" cy="1097.6" r="9.5" fill="#7F7F7F"/>
<circle cx="1194.0" cy="1108.6" r="9.5" fill="#7F7F7F"/>
<circle cx="1202.8" cy="1108.6" r="9.5" fill="#7F7F7F"/>
<circle cx="1202.8" cy="1126.2" r="9.5" fill="#7F7F7F"/>
<circle cx="1217.5" cy="1110.1" r="9.5" fill="#EE6A66"/>
<circle cx="1220.4" cy="1121.8" r="9.5" fill="#7F7F7F"/>
<circle cx="1220.4" cy="1126.2" r="9.5" fill="#EE6A66"/>
<circle cx="1232.2" cy="1127.7" r="9.5" fill="#EE6A66"/>
<circle cx="1230.7" cy="1143.8" r="9.5" fill="#7F7F7F"/>
<circle cx="1229.2" cy="1148.2" r="9.5" fill="#EE6A66"/>
<circle cx="1204.3" cy="1162.9" r="9.5" fill="#EE6A66"/>
<circle cx="1219.0" cy="1158.5" r="9.5" fill="#EE6A66"/>
<circle cx="1219.0" cy="1165.9" r="9.5" fill="#7F7F7F"/>
<circle cx="1207.2" cy="1176.1" r="9.5" fill="#7F7F7F"/>
<circle cx="1196.9" cy="1190.8" r="9.5" fill="#7F7F7F"/>
<circle cx="1154.4" cy="1184.9" r="9.5" fill="#7F7F7F"/>
<circle cx="1152.9" cy="1187.9" r="9.5" fill="#7F7F7F"/>
<circle cx="1174.9" cy="1198.2" r="9.5" fill="#EE6A66"/>
<circle cx="1147.0" cy="1211.4" r="9.5" fill="#7F7F7F"/>
<circle cx="1173.5" cy="1212.8" r="9.5" fill="#7F7F7F"/>
<circle cx="1158.8" cy="1228.2" r="9.5" fill="#7F7F7F"/>
<circle cx="1198.4" cy="1214.3" r="9.5" fill="#EE6A66"/>
<circle cx="1213.1" cy="1217.2" r="9.5" fill="#EE6A66"/>
<circle cx="1199.9" cy="1229.0" r="9.5" fill="#7F7F7F"/>
<circle cx="1216.0" cy="1076.3" r="9.5" fill="#7F7F7F"/>
<circle cx="1208.7" cy="1086.6" r="9.5" fill="#7F7F7F"/>
<circle cx="1238.0" cy="1077.8" r="9.5" fill="#7F7F7F"/>
<circle cx="1243.9" cy="1091.0" r="9.5" fill="#7F7F7F"/>
<circle cx="1242.4" cy="1093.9" r="9.5" fill="#7F7F7F"/>
<circle cx="1257.1" cy="1108.6" r="9.5" fill="#7F7F7F"/>
<circle cx="1267.4" cy="1120.4" r="9.5" fill="#7F7F7F"/>
<circle cx="1258.6" cy="1127.7" r="9.5" fill="#7F7F7F"/>
<circle cx="1245.4" cy="1133.6" r="9.5" fill="#7F7F7F"/>
<circle cx="1242.4" cy="1055.8" r="9.5" fill="#EE6A66"/>
<circle cx="1255.6" cy="1051.4" r="9.5" fill="#EE6A66"/>
<circle cx="1271.1" cy="1052.1" r="9.5" fill="#7F7F7F"/>
<circle cx="1260.8" cy="1067.5" r="9.5" fill="#EE6A66"/>
<circle cx="1280.6" cy="1066.1" r="9.5" fill="#EE6A66"/>
<circle cx="1265.9" cy="1080.7" r="9.5" fill="#7F7F7F"/>
<circle cx="1279.1" cy="1086.6" r="9.5" fill="#7F7F7F"/>
<circle cx="1279.1" cy="1077.8" r="9.5" fill="#EE6A66"/>
<circle cx="1286.5" cy="1035.2" r="9.5" fill="#7F7F7F"/>
<circle cx="1292.3" cy="1029.4" r="9.5" fill="#EE6A66"/>
<circle cx="1301.2" cy="1026.4" r="9.5" fill="#EE6A66"/>
<circle cx="1299.7" cy="1038.2" r="9.5" fill="#7F7F7F"/>
<circle cx="1302.6" cy="1054.3" r="9.5" fill="#EE6A66"/>
<circle cx="1311.4" cy="1061.6" r="9.5" fill="#7F7F7F"/>
<circle cx="1302.6" cy="1088.1" r="9.5" fill="#7F7F7F"/>
<circle cx="1282.8" cy="1103.5" r="9.5" fill="#7F7F7F"/>
<circle cx="1304.1" cy="1117.4" r="9.5" fill="#7F7F7F"/>
<circle cx="1311.4" cy="1118.9" r="9.5" fill="#7F7F7F"/>
<circle cx="1282.8" cy="1153.4" r="9.5" fill="#7F7F7F"/>
<circle cx="1265.9" cy="1176.1" r="9.5" fill="#EE6A66"/>
<circle cx="1273.3" cy="1174.7" r="9.5" fill="#EE6A66"/>
<circle cx="1339.3" cy="1151.9" r="9.5" fill="#7F7F7F"/>
<circle cx="1371.6" cy="1152.6" r="9.5" fill="#EE6A66"/>
<circle cx="1324.6" cy="1039.6" r="9.5" fill="#EE6A66"/>
<circle cx="1326.1" cy="1033.8" r="9.5" fill="#EE6A66"/>
<circle cx="1334.9" cy="1016.1" r="9.5" fill="#7F7F7F"/>
<circle cx="1345.2" cy="1008.8" r="9.5" fill="#7F7F7F"/>
<circle cx="1345.2" cy="1025.0" r="9.5" fill="#7F7F7F"/>
<circle cx="1356.9" cy="1027.9" r="9.5" fill="#7F7F7F"/>
<circle cx="1352.5" cy="1026.4" r="9.5" fill="#EE6A66"/>
<circle cx="1343.7" cy="1036.7" r="9.5" fill="#EE6A66"/>
<circle cx="1346.7" cy="1051.4" r="9.5" fill="#7F7F7F"/>
<circle cx="1349.6" cy="1066.1" r="9.5" fill="#7F7F7F"/>
<circle cx="1339.3" cy="1084.4" r="9.5" fill="#7F7F7F"/>
<circle cx="1355.5" cy="1085.1" r="9.5" fill="#7F7F7F"/>
<circle cx="1376.0" cy="1084.4" r="9.5" fill="#7F7F7F"/>
<circle cx="1389.2" cy="1086.6" r="9.5" fill="#7F7F7F"/>
<circle cx="1367.2" cy="1052.8" r="9.5" fill="#7F7F7F"/>
<circle cx="1377.5" cy="1033.8" r="9.5" fill="#7F7F7F"/>
<circle cx="1365.7" cy="1005.9" r="9.5" fill="#7F7F7F"/>
<circle cx="1376.0" cy="1008.8" r="9.5" fill="#EE6A66"/>
<circle cx="1390.7" cy="1007.3" r="9.5" fill="#7F7F7F"/>
<circle cx="1395.1" cy="1001.5" r="9.5" fill="#EE6A66"/>
<circle cx="1387.7" cy="1051.4" r="9.5" fill="#EE6A66"/>
<circle cx="1393.6" cy="1069.0" r="9.5" fill="#7F7F7F"/>
<circle cx="1401.0" cy="1048.4" r="9.5" fill="#7F7F7F"/>
<circle cx="1401.0" cy="1026.4" r="9.5" fill="#7F7F7F"/>
<circle cx="1371.6" cy="1113.8" r="9.5" fill="#7F7F7F"/>
<circle cx="1390.7" cy="1126.2" r="9.5" fill="#7F7F7F"/>
<circle cx="1387.7" cy="1132.1" r="9.5" fill="#7F7F7F"/>
<circle cx="1342.2" cy="1202.6" r="9.5" fill="#EE6A66"/>
<circle cx="1349.6" cy="1212.8" r="9.5" fill="#7F7F7F"/>
<circle cx="1311.4" cy="1209.9" r="9.5" fill="#EE6A66"/>
<circle cx="1269.6" cy="1220.9" r="9.5" fill="#7F7F7F"/>
<circle cx="1323.2" cy="1227.5" r="9.5" fill="#7F7F7F"/>
<circle cx="1241.0" cy="1229.0" r="9.5" fill="#7F7F7F"/>
<circle cx="1365.1" cy="1000.4" r="9.5" fill="#7F7F7F"/>
<circle cx="1347.1" cy="1007.5" r="9.5" fill="#7F7F7F"/>
<circle cx="1333.8" cy="1014.5" r="9.5" fill="#7F7F7F"/>
<circle cx="1376.0" cy="1008.3" r="9.5" fill="#EE6A66"/>
<circle cx="1395.6" cy="995.8" r="9.5" fill="#EE6A66"/>
<circle cx="1409.7" cy="984.8" r="9.5" fill="#7F7F7F"/>
<circle cx="1301.7" cy="1020.0" r="9.5" fill="#EE6A66"/>
<circle cx="1147.8" cy="1211.0" r="9.5" fill="#7F7F7F"/>
<circle cx="1174.9" cy="1200.7" r="9.5" fill="#EE6A66"/>
<circle cx="1173.5" cy="1212.5" r="9.5" fill="#7F7F7F"/>
<circle cx="1158.8" cy="1228.6" r="9.5" fill="#7F7F7F"/>
<circle cx="1198.4" cy="1214.7" r="9.5" fill="#EE6A66"/>
<circle cx="1211.6" cy="1217.6" r="9.5" fill="#EE6A66"/>
<circle cx="1199.9" cy="1233.8" r="9.5" fill="#7F7F7F"/>
<circle cx="1241.0" cy="1233.8" r="9.5" fill="#7F7F7F"/>
<circle cx="1269.6" cy="1222.0" r="9.5" fill="#7F7F7F"/>
<circle cx="1311.4" cy="1211.0" r="9.5" fill="#EE6A66"/>
<circle cx="1323.9" cy="1227.9" r="9.5" fill="#7F7F7F"/>
<circle cx="1349.6" cy="1213.2" r="9.5" fill="#7F7F7F"/>
<circle cx="1343.0" cy="1204.4" r="9.5" fill="#EE6A66"/>
<circle cx="1188.1" cy="1254.3" r="9.5" fill="#7F7F7F"/>
<circle cx="1187.8" cy="1253.1" r="9.5" fill="#EE6A66"/>
<circle cx="1222.6" cy="1253.6" r="9.5" fill="#7F7F7F"/>
<circle cx="1219.7" cy="1247.7" r="9.5" fill="#EE6A66"/>
<circle cx="1170.5" cy="1267.5" r="9.5" fill="#EE6A66"/>
<circle cx="1158.8" cy="1280.7" r="9.5" fill="#7F7F7F"/>
<circle cx="1150.0" cy="1278.5" r="9.5" fill="#EE6A66"/>
<circle cx="1163.2" cy="1288.1" r="9.5" fill="#EE6A66"/>
<circle cx="1232.9" cy="1271.9" r="9.5" fill="#EE6A66"/>
<circle cx="1281.3" cy="1259.4" r="9.5" fill="#EE6A66"/>
<circle cx="1194.7" cy="1294.7" r="9.5" fill="#7F7F7F"/>
<circle cx="1187.4" cy="1311.6" r="9.5" fill="#EE6A66"/>
<circle cx="1285.7" cy="1293.9" r="9.5" fill="#7F7F7F"/>
<circle cx="1279.1" cy="1292.5" r="9.5" fill="#EE6A66"/>
<circle cx="1268.1" cy="1308.6" r="9.5" fill="#EE6A66"/>
<circle cx="1147.8" cy="1340.2" r="9.5" fill="#EE6A66"/>
<circle cx="1200.6" cy="1346.0" r="9.5" fill="#7F7F7F"/>
<circle cx="1248.3" cy="1352.6" r="9.5" fill="#EE6A66"/>
<circle cx="1156.6" cy="1398.2" r="9.5" fill="#7F7F7F"/>
<circle cx="1247.6" cy="1393.0" r="9.5" fill="#7F7F7F"/>
<circle cx="1349.3" cy="1401.8" r="9.5" fill="#7F7F7F"/>
<circle cx="1148.9" cy="1427.2" r="9.5" fill="#7F7F7F"/>
<circle cx="1165.9" cy="1458.3" r="9.5" fill="#7F7F7F"/>
<circle cx="1211.6" cy="1448.3" r="9.5" fill="#7F7F7F"/>
<circle cx="1260.6" cy="1438.2" r="9.5" fill="#EE6A66"/>
<circle cx="1243.2" cy="1477.3" r="9.5" fill="#EE6A66"/>
<circle cx="1283.6" cy="1486.2" r="9.5" fill="#7F7F7F"/>
<circle cx="1418.0" cy="1466.7" r="9.5" fill="#7F7F7F"/>
<circle cx="1159.7" cy="1506.9" r="9.5" fill="#7F7F7F"/>
<circle cx="1170.6" cy="1545.1" r="9.5" fill="#7F7F7F"/>
<circle cx="1266.4" cy="1546.8" r="9.5" fill="#EE6A66"/>
<circle cx="1210.5" cy="1633.7" r="9.5" fill="#EE6A66"/>
<circle cx="1294.1" cy="1661.6" r="9.5" fill="#7F7F7F"/>
<circle cx="1148.9" cy="1720.9" r="9.5" fill="#EE6A66"/>
<circle cx="1667.9" cy="1166.3" r="9.5" fill="#7F7F7F"/>
<circle cx="1540.4" cy="1199.5" r="9.5" fill="#7F7F7F"/>
<circle cx="1489.3" cy="1200.1" r="9.5" fill="#7F7F7F"/>
<circle cx="1447.1" cy="1237.9" r="9.5" fill="#EE6A66"/>
<circle cx="1343.5" cy="1202.7" r="9.5" fill="#EE6A66"/>
<circle cx="1349.7" cy="1213.3" r="9.5" fill="#7F7F7F"/>
<circle cx="1340.0" cy="1151.6" r="9.5" fill="#7F7F7F"/>
<circle cx="1371.3" cy="1152.5" r="9.5" fill="#EE6A66"/>
<circle cx="1371.7" cy="1113.8" r="9.5" fill="#7F7F7F"/>
<circle cx="1387.6" cy="1133.1" r="9.5" fill="#7F7F7F"/>
<circle cx="1394.6" cy="1123.5" r="9.5" fill="#7F7F7F"/>
<circle cx="1411.3" cy="1105.0" r="9.5" fill="#7F7F7F"/>
<circle cx="1428.4" cy="1103.7" r="9.5" fill="#EE6A66"/>
<circle cx="1433.3" cy="1127.9" r="9.5" fill="#7F7F7F"/>
<circle cx="1441.8" cy="1134.0" r="9.5" fill="#7F7F7F"/>
<circle cx="1612.6" cy="1090.9" r="9.5" fill="#7F7F7F"/>
<circle cx="1354.1" cy="1090.0" r="9.5" fill="#7F7F7F"/>
<circle cx="1375.2" cy="1090.0" r="9.5" fill="#7F7F7F"/>
<circle cx="1391.1" cy="1091.8" r="9.5" fill="#7F7F7F"/>
<circle cx="1414.0" cy="1090.0" r="9.5" fill="#7F7F7F"/>
<circle cx="1650.2" cy="982.3" r="9.5" fill="#EE6A66"/>
<circle cx="1662.9" cy="991.2" r="9.5" fill="#7F7F7F"/>
<circle cx="1660.4" cy="1009.0" r="9.5" fill="#7F7F7F"/>
<circle cx="1657.8" cy="1026.8" r="9.5" fill="#EE6A66"/>
<circle cx="1699.8" cy="1024.3" r="9.5" fill="#7F7F7F"/>
<circle cx="1708.7" cy="1009.0" r="9.5" fill="#7F7F7F"/>
<circle cx="1718.9" cy="1006.5" r="9.5" fill="#7F7F7F"/>
<circle cx="1706.1" cy="1001.4" r="9.5" fill="#EE6A66"/>
<circle cx="1722.0" cy="996.3" r="9.5" fill="#EE6A66"/>
<circle cx="1717.8" cy="1041.5" r="9.5" fill="#7F7F7F"/>
<circle cx="1695.3" cy="1061.2" r="9.5" fill="#7F7F7F"/>
<circle cx="1751.9" cy="988.7" r="9.5" fill="#7F7F7F"/>
<circle cx="1755.7" cy="982.3" r="9.5" fill="#EE6A66"/>
<circle cx="1757.0" cy="995.0" r="9.5" fill="#EE6A66"/>
<circle cx="1774.8" cy="977.2" r="9.5" fill="#EE6A66"/>
<circle cx="1795.2" cy="979.1" r="9.5" fill="#7F7F7F"/>
<circle cx="1779.9" cy="998.2" r="9.5" fill="#7F7F7F"/>
<circle cx="1810.4" cy="1017.3" r="9.5" fill="#EE6A66"/>
<circle cx="1880.4" cy="988.0" r="9.5" fill="#EE6A66"/>
<circle cx="1895.7" cy="992.5" r="9.5" fill="#7F7F7F"/>
<circle cx="1856.2" cy="1090.4" r="9.5" fill="#EE6A66"/>
<circle cx="1671.8" cy="977.2" r="9.5" fill="#7F7F7F"/>
<circle cx="1684.5" cy="973.4" r="9.5" fill="#7F7F7F"/>
<circle cx="1710.0" cy="974.7" r="9.5" fill="#7F7F7F"/>
<circle cx="1729.0" cy="979.8" r="9.5" fill="#7F7F7F"/>
<circle cx="1739.2" cy="983.6" r="9.5" fill="#7F7F7F"/>
<circle cx="1799.0" cy="962.0" r="9.5" fill="#7F7F7F"/>
<circle cx="1843.5" cy="970.9" r="9.5" fill="#7F7F7F"/>
<circle cx="1856.2" cy="968.3" r="9.5" fill="#7F7F7F"/>
<circle cx="1886.8" cy="970.9" r="9.5" fill="#7F7F7F"/>
<circle cx="1667.8" cy="1166.2" r="9.5" fill="#7F7F7F"/>
<circle cx="1695.1" cy="1061.1" r="9.5" fill="#7F7F7F"/>
<circle cx="1718.2" cy="1042.2" r="9.5" fill="#7F7F7F"/>
<circle cx="1925.4" cy="983.0" r="9.5" fill="#7F7F7F"/>
<circle cx="1897.4" cy="991.9" r="9.5" fill="#7F7F7F"/>
<circle cx="1883.2" cy="987.7" r="9.5" fill="#EE6A66"/>
<circle cx="1978.6" cy="1025.2" r="9.5" fill="#7F7F7F"/>
</g>
<line x1="98.60000000000001" y1="922.6" x2="1087.1" y2="922.6" stroke="#000" stroke-width="4.2" stroke-dasharray="17.8 17.77"/>
<line x1="1105.5" y1="922.6" x2="2094.6" y2="922.6" stroke="#000" stroke-width="4.2" stroke-dasharray="17.8 17.77"/>
<line x1="291.7" y1="211.4" x2="351.1" y2="187.7" stroke="#000" stroke-width="3.2"/>
<line x1="331.3" y1="658.3" x2="346.7" y2="690.9" stroke="#000" stroke-width="3.2"/>
<line x1="367.0" y1="774.8" x2="384.6" y2="741.5" stroke="#000" stroke-width="3.2"/>
<line x1="616.8" y1="934.3" x2="671.2" y2="802.4" stroke="#000" stroke-width="3.2"/>
<line x1="843.6" y1="1146.3" x2="884.0" y2="1038.8" stroke="#000" stroke-width="3.2"/>
<line x1="958.8" y1="1052.2" x2="957.7" y2="1010.5" stroke="#000" stroke-width="3.2"/>
<line x1="1162.4" y1="239.1" x2="1180.8" y2="268.4" stroke="#000" stroke-width="3.2"/>
<line x1="1298.7" y1="474.6" x2="1345.9" y2="443.3" stroke="#000" stroke-width="3.2"/>
<line x1="1683.6" y1="690.2" x2="1705.0" y2="800.6" stroke="#000" stroke-width="3.2"/>
<line x1="1840.4" y1="766.9" x2="1848.7" y2="803.8" stroke="#000" stroke-width="3.2"/>
<line x1="1993.6" y1="777.9" x2="2001.3" y2="814.2" stroke="#000" stroke-width="3.2"/>
<line x1="1629.7" y1="1249.0" x2="1660.9" y2="1181.6" stroke="#000" stroke-width="3.2"/>
<line x1="1852.1" y1="1173.3" x2="1855.0" y2="1110.0" stroke="#000" stroke-width="3.2"/>
<rect x="121.7" y="163.7" width="182.2" height="46.5" rx="9.5" ry="9.5" fill="#fff" stroke="#000" stroke-width="1.8"/>
<text class="lb" x="212.8" y="195.2" text-anchor="middle">LDLR - DISLIP</text>
<rect x="351.1" y="163.7" width="186.4" height="47.0" rx="9.5" ry="9.5" fill="#fff" stroke="#000" stroke-width="1.8"/>
<text class="lb" x="444.3" y="195.5" text-anchor="middle">APOB - DISLIP</text>
<rect x="201.7" y="258.1" width="191.5" height="46.5" rx="9.5" ry="9.5" fill="#fff" stroke="#000" stroke-width="1.8"/>
<text class="lb" x="297.4" y="289.7" text-anchor="middle">SEMA3A - T2D</text>
<rect x="118.5" y="372.4" width="221.4" height="46.5" rx="9.5" ry="9.5" fill="#fff" stroke="#000" stroke-width="1.8"/>
<text class="lb" x="229.2" y="403.9" text-anchor="middle">SERPINB8 - CIHD</text>
<rect x="131.5" y="630.2" width="199.8" height="46.0" rx="9.5" ry="9.5" fill="#fff" stroke="#000" stroke-width="1.8"/>
<text class="lb" x="231.4" y="661.5" text-anchor="middle">ZNF729 - HypT</text>
<rect x="378.5" y="630.2" width="186.4" height="46.3" rx="9.5" ry="9.5" fill="#fff" stroke="#000" stroke-width="1.8"/>
<text class="lb" x="471.7" y="661.6" text-anchor="middle">APOB - DISLIP</text>
<rect x="166.2" y="756.4" width="200.8" height="46.5" rx="9.5" ry="9.5" fill="#fff" stroke="#000" stroke-width="1.8"/>
<text class="lb" x="266.6" y="787.9" text-anchor="middle">APOC1 - DISLIP</text>
<rect x="414.7" y="724.4" width="210.2" height="46.0" rx="9.5" ry="9.5" fill="#fff" stroke="#000" stroke-width="1.8"/>
<text class="lb" x="519.8" y="755.7" text-anchor="middle">SLC22A3 - CIHD</text>
<rect x="672.6" y="670.1" width="149.7" height="46.5" rx="9.5" ry="9.5" fill="#fff" stroke="#000" stroke-width="1.8"/>
<text class="lb" x="747.5" y="701.6" text-anchor="middle">LPA - CIHD</text>
<rect x="883.5" y="728.3" width="180.5" height="46.2" rx="9.5" ry="9.5" fill="#fff" stroke="#000" stroke-width="1.8"/>
<text class="lb" x="973.8" y="759.7" text-anchor="middle">TCF7L2 - T2D</text>
<rect x="518.5" y="820.1" width="145.0" height="46.0" rx="9.5" ry="9.5" fill="#fff" stroke="#000" stroke-width="1.8"/>
<text class="lb" x="591.0" y="851.4" text-anchor="middle">PAM - T2D</text>
<rect x="679.9" y="821.7" width="201.9" height="46.0" rx="9.5" ry="9.5" fill="#fff" stroke="#000" stroke-width="1.8"/>
<text class="lb" x="780.8" y="853.0" text-anchor="middle">BUD13 - DISLIP</text>
<rect x="453.1" y="914.3" width="163.7" height="46.1" rx="9.5" ry="9.5" fill="#fff" stroke="#000" stroke-width="1.8"/>
<text class="lb" x="535.0" y="945.6" text-anchor="middle">LPA - DISLIP</text>
<rect x="876.5" y="916.4" width="187.7" height="45.4" rx="9.5" ry="9.5" fill="#fff" stroke="#000" stroke-width="1.8"/>
<text class="lb" x="970.4" y="947.4" text-anchor="middle">CDKAL1 - T2D</text>
<rect x="609.4" y="1017.0" width="196.8" height="46.6" rx="9.5" ry="9.5" fill="#fff" stroke="#000" stroke-width="1.8"/>
<text class="lb" x="707.8" y="1048.6" text-anchor="middle">PCSK9 - DISLIP</text>
<rect x="853.6" y="1052.3" width="210.8" height="46.0" rx="9.5" ry="9.5" fill="#fff" stroke="#000" stroke-width="1.8"/>
<text class="lb" x="959.0" y="1083.6" text-anchor="middle">CELSR2 - DISLIP</text>
<rect x="739.0" y="1146.2" width="182.2" height="46.2" rx="9.5" ry="9.5" fill="#fff" stroke="#000" stroke-width="1.8"/>
<text class="lb" x="830.1" y="1177.6" text-anchor="middle">LDLR - DISLIP</text>
<rect x="399.4" y="1073.9" width="162.6" height="46.0" rx="9.5" ry="9.5" fill="#fff" stroke="#000" stroke-width="1.8"/>
<text class="lb" x="480.7" y="1105.2" text-anchor="middle">ANKH - T2D</text>
<rect x="291.0" y="1179.4" width="196.9" height="46.5" rx="9.5" ry="9.5" fill="#fff" stroke="#000" stroke-width="1.8"/>
<text class="lb" x="389.4" y="1211.0" text-anchor="middle">PCSK9 - DISLIP</text>
<rect x="131.0" y="1467.8" width="196.7" height="46.4" rx="9.5" ry="9.5" fill="#fff" stroke="#000" stroke-width="1.8"/>
<text class="lb" x="229.3" y="1499.3" text-anchor="middle">PCSK9 - DISLIP</text>
<rect x="1180.8" y="251.3" width="172.9" height="46.0" rx="9.5" ry="9.5" fill="#fff" stroke="#000" stroke-width="1.8"/>
<text class="lb" x="1267.2" y="282.6" text-anchor="middle">ASGR1 - ALK</text>
<rect x="1126.2" y="357.2" width="173.0" height="46.5" rx="9.5" ry="9.5" fill="#fff" stroke="#000" stroke-width="1.8"/>
<text class="lb" x="1212.7" y="388.8" text-anchor="middle">ASGR1 - ALK</text>
<rect x="1554.1" y="388.1" width="172.9" height="46.6" rx="9.5" ry="9.5" fill="#fff" stroke="#000" stroke-width="1.8"/>
<text class="lb" x="1640.5" y="419.7" text-anchor="middle">ASGR1 - ALK</text>
<rect x="1345.9" y="418.4" width="157.8" height="46.5" rx="9.5" ry="9.5" fill="#fff" stroke="#000" stroke-width="1.8"/>
<text class="lb" x="1424.8" y="449.9" text-anchor="middle">APOB - LDL</text>
<rect x="1145.6" y="525.9" width="160.4" height="46.4" rx="9.5" ry="9.5" fill="#fff" stroke="#000" stroke-width="1.8"/>
<text class="lb" x="1225.8" y="557.4" text-anchor="middle">APOA5 - TG</text>
<rect x="1445.0" y="513.3" width="150.0" height="46.0" rx="9.5" ry="9.5" fill="#fff" stroke="#000" stroke-width="1.8"/>
<text class="lb" x="1520.0" y="544.6" text-anchor="middle">SIK3 - HDL</text>
<rect x="1367.5" y="619.1" width="163.7" height="46.1" rx="9.5" ry="9.5" fill="#fff" stroke="#000" stroke-width="1.8"/>
<text class="lb" x="1449.3" y="650.5" text-anchor="middle">HBQ1 - RBC</text>
<rect x="1578.8" y="642.8" width="207.3" height="46.9" rx="9.5" ry="9.5" fill="#fff" stroke="#000" stroke-width="1.8"/>
<text class="lb" x="1682.4" y="674.5" text-anchor="middle">SERPINA1 - ALB</text>
<rect x="1490.0" y="741.0" width="149.8" height="45.4" rx="9.5" ry="9.5" fill="#fff" stroke="#000" stroke-width="1.8"/>
<text class="lb" x="1564.9" y="772.0" text-anchor="middle">LIPG - HDL</text>
<rect x="1693.1" y="737.0" width="147.3" height="46.4" rx="9.5" ry="9.5" fill="#fff" stroke="#000" stroke-width="1.8"/>
<text class="lb" x="1766.8" y="768.5" text-anchor="middle">HFE - MCV</text>
<rect x="1914.6" y="730.5" width="157.0" height="45.9" rx="9.5" ry="9.5" fill="#fff" stroke="#000" stroke-width="1.8"/>
<text class="lb" x="1993.1" y="761.8" text-anchor="middle">CETP - HDL</text>
<rect x="1872.4" y="825.5" width="185.8" height="45.5" rx="9.5" ry="9.5" fill="#fff" stroke="#000" stroke-width="1.8"/>
<text class="lb" x="1965.3" y="856.5" text-anchor="middle">WNT16 - BMD</text>
<rect x="1808.0" y="833.3" width="142.1" height="45.2" rx="9.5" ry="9.5" fill="#fff" stroke="#000" stroke-width="1.8"/>
<text class="lb" x="1879.0" y="864.2" text-anchor="middle">ZPR1 - TG</text>
<rect x="1932.4" y="966.8" width="139.4" height="46.8" rx="9.5" ry="9.5" fill="#fff" stroke="#000" stroke-width="1.8"/>
<text class="lb" x="2002.1" y="998.5" text-anchor="middle">GC - VITD</text>
<rect x="1347.2" y="1161.7" width="136.3" height="45.7" rx="9.5" ry="9.5" fill="#fff" stroke="#000" stroke-width="1.8"/>
<text class="lb" x="1415.3" y="1192.9" text-anchor="middle">GPT - ALT</text>
<rect x="1323.3" y="1497.1" width="167.9" height="46.6" rx="9.5" ry="9.5" fill="#fff" stroke="#000" stroke-width="1.8"/>
<text class="lb" x="1407.2" y="1528.7" text-anchor="middle">HBQ1 - MCV</text>
<rect x="1126.2" y="1556.9" width="149.9" height="46.1" rx="9.5" ry="9.5" fill="#fff" stroke="#000" stroke-width="1.8"/>
<text class="lb" x="1201.2" y="1588.2" text-anchor="middle">ALPL - ALK</text>
<rect x="1323.3" y="1632.0" width="149.9" height="46.1" rx="9.5" ry="9.5" fill="#fff" stroke="#000" stroke-width="1.8"/>
<text class="lb" x="1398.2" y="1663.3" text-anchor="middle">ALPL - ALK</text>
<rect x="1175.8" y="1726.1" width="149.5" height="45.5" rx="9.5" ry="9.5" fill="#fff" stroke="#000" stroke-width="1.8"/>
<text class="lb" x="1250.5" y="1757.1" text-anchor="middle">ALPL - ALK</text>
<rect x="1531.6" y="1249.4" width="150.1" height="45.8" rx="9.5" ry="9.5" fill="#fff" stroke="#000" stroke-width="1.8"/>
<text class="lb" x="1606.7" y="1280.6" text-anchor="middle">ALPL - ALK</text>
<rect x="1883.2" y="1062.7" width="144.4" height="46.2" rx="9.5" ry="9.5" fill="#fff" stroke="#000" stroke-width="1.8"/>
<text class="lb" x="1955.4" y="1094.1" text-anchor="middle">ABO - ALK</text>
<rect x="1695.1" y="1156.0" width="155.9" height="46.6" rx="9.5" ry="9.5" fill="#fff" stroke="#000" stroke-width="1.8"/>
<text class="lb" x="1773.0" y="1187.6" text-anchor="middle">APOE - LDL</text>
<rect x="96.2" y="139.7" width="990.8999999999999" height="1655.7" fill="none" stroke="#3a3a3a" stroke-width="1.7"/>
<rect x="1103.1" y="139.7" width="991.5" height="1655.7" fill="none" stroke="#3a3a3a" stroke-width="1.7"/>
<line x1="88.1" y1="331.9" x2="96.2" y2="331.9" stroke="#1a1a1a" stroke-width="2"/>
<text class="ax" x="81.0" y="340.4" text-anchor="end" style="font-size:22.6px">1.5</text>
<line x1="88.1" y1="528.8" x2="96.2" y2="528.8" stroke="#1a1a1a" stroke-width="2"/>
<text class="ax" x="81.0" y="537.3" text-anchor="end" style="font-size:22.6px">1.0</text>
<line x1="88.1" y1="725.7" x2="96.2" y2="725.7" stroke="#1a1a1a" stroke-width="2"/>
<text class="ax" x="81.0" y="734.2" text-anchor="end" style="font-size:22.6px">0.5</text>
<line x1="88.1" y1="922.6" x2="96.2" y2="922.6" stroke="#1a1a1a" stroke-width="2"/>
<text class="ax" x="81.0" y="931.1" text-anchor="end" style="font-size:22.6px">0.0</text>
<line x1="88.1" y1="1119.5" x2="96.2" y2="1119.5" stroke="#1a1a1a" stroke-width="2"/>
<text class="ax" x="81.0" y="1128.0" text-anchor="end" style="font-size:22.6px">-0.5</text>
<line x1="88.1" y1="1316.4" x2="96.2" y2="1316.4" stroke="#1a1a1a" stroke-width="2"/>
<text class="ax" x="81.0" y="1324.9" text-anchor="end" style="font-size:22.6px">-1.0</text>
<line x1="88.1" y1="1513.3" x2="96.2" y2="1513.3" stroke="#1a1a1a" stroke-width="2"/>
<text class="ax" x="81.0" y="1521.8" text-anchor="end" style="font-size:22.6px">-1.5</text>
<line x1="88.1" y1="1710.2" x2="96.2" y2="1710.2" stroke="#1a1a1a" stroke-width="2"/>
<text class="ax" x="81.0" y="1718.7" text-anchor="end" style="font-size:22.6px">-2.0</text>
<line x1="139.7" y1="1795.4" x2="139.7" y2="1803.2" stroke="#1a1a1a" stroke-width="2"/>
<text class="ax" x="139.7" y="1825.5" text-anchor="middle">1e-04</text>
<line x1="383.9" y1="1795.4" x2="383.9" y2="1803.2" stroke="#1a1a1a" stroke-width="2"/>
<text class="ax" x="383.9" y="1825.5" text-anchor="middle">1e-03</text>
<line x1="628.1" y1="1795.4" x2="628.1" y2="1803.2" stroke="#1a1a1a" stroke-width="2"/>
<text class="ax" x="628.1" y="1825.5" text-anchor="middle">1e-02</text>
<line x1="872.3" y1="1795.4" x2="872.3" y2="1803.2" stroke="#1a1a1a" stroke-width="2"/>
<text class="ax" x="872.3" y="1825.5" text-anchor="middle">1e-01</text>
<line x1="1147.3" y1="1795.4" x2="1147.3" y2="1803.2" stroke="#1a1a1a" stroke-width="2"/>
<text class="ax" x="1147.3" y="1825.5" text-anchor="middle">1e-04</text>
<line x1="1391.5" y1="1795.4" x2="1391.5" y2="1803.2" stroke="#1a1a1a" stroke-width="2"/>
<text class="ax" x="1391.5" y="1825.5" text-anchor="middle">1e-03</text>
<line x1="1635.6" y1="1795.4" x2="1635.6" y2="1803.2" stroke="#1a1a1a" stroke-width="2"/>
<text class="ax" x="1635.6" y="1825.5" text-anchor="middle">1e-02</text>
<line x1="1879.8" y1="1795.4" x2="1879.8" y2="1803.2" stroke="#1a1a1a" stroke-width="2"/>
<text class="ax" x="1879.8" y="1825.5" text-anchor="middle">1e-01</text>
<text x="1095.5" y="1858.7" text-anchor="middle" font-family="Liberation Sans,Arial,sans-serif" font-size="33" fill="#000">MAF</text>
<text transform="translate(25,1012.1) rotate(-90)" font-family="Liberation Sans,Arial,sans-serif" fill="#000"><tspan font-size="34">β</tspan><tspan font-size="22.6" font-style="italic" dy="6.2">GWAS</tspan></text>
</svg></body></html>
